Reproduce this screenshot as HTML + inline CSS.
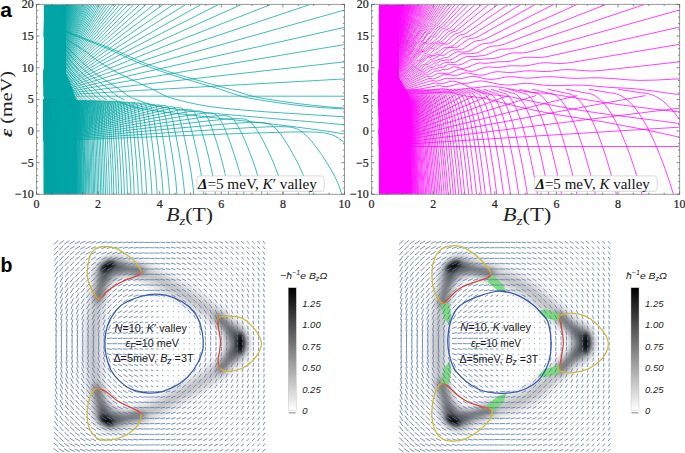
<!DOCTYPE html><html><head><meta charset="utf-8"><style>
html,body{margin:0;padding:0;background:#fff;}
svg{display:block;}
.tk{font-family:"Liberation Serif",serif;font-size:12px;fill:#222;stroke:#222;stroke-width:0.22px;}
.ax{font-family:"Liberation Serif",serif;font-size:19px;fill:#222;}
.lg{font-family:"Liberation Serif",serif;font-size:14.3px;fill:#111;}
.pl{font-family:"Liberation Sans",sans-serif;font-weight:bold;font-size:21px;fill:#000;}
.bt{font-family:"Liberation Sans",sans-serif;font-size:10.8px;fill:#1a1a1a;}
.cb{font-family:"Liberation Sans",sans-serif;font-style:italic;font-size:9.5px;fill:#222;}
</style></head><body>
<svg width="685" height="453" viewBox="0 0 685 453">
<clipPath id="c36"><rect x="43.58" y="4.4" width="300.92" height="189.9"/></clipPath>
<g clip-path="url(#c36)">
<linearGradient id="g36" x1="0" y1="0" x2="1" y2="0"><stop offset="0" stop-color="#00a6a6" stop-opacity="0.75"/><stop offset="1" stop-color="#00a6a6" stop-opacity="0"/></linearGradient>
<path d="M43.6 4.4H66.1V74.0C70.7 82.0 74.4 95.9 77.5 101.9V194.3H43.6Z" fill="#00a6a6"/>
<rect x="77.5" y="101.9" width="9.2" height="92.4" fill="url(#g36)"/>
<path d="M42.7 96.2l311.1 0.0M42.7 95.9l23.4-1.1 78.9-4.7 208.8-11.7M42.7 95.6l23.4-2.1 41.4-5.0 37.5-4.3 208.8-23.4M42.7 95.3l23.4-3.2 41.4-7.5 37.5-6.5 208.8-35.1M42.7 95.1l23.4-4.3 41.4-10.0 37.5-8.7 208.8-46.8M42.7 94.8l23.4-5.4 41.4-12.5 37.5-10.9 208.8-58.5M42.7 94.5l23.4-6.4 40.4-14.7 36.6-12.7 52.0-17.6 134.0-45.0M42.7 94.2l23.4-7.5 38.5-16.3 32.7-13.3 47.1-18.7 102.8-40.3M42.7 93.9l23.4-8.6 36.6-17.8 30.8-14.4 41.4-18.8 81.1-36.3M42.7 93.6l23.4-9.7 35.6-19.5 26.9-14.2 37.5-19.2 65.4-33.0M42.7 93.4l23.4-10.7 33.7-20.5 25.0-14.7 33.7-19.2 53.6-30.1M42.7 93.1l23.4-11.8 32.7-21.9 23.1-15.0 29.8-18.8 44.4-27.5M42.7 92.8l23.4-12.9 30.8-22.5 21.2-15.1 26.9-18.6 37.9-25.7M42.7 92.5l23.4-13.9 29.8-23.6 19.2-14.9 24.1-18.1 32.5-23.9M42.7 92.2l23.4-15.0 28.9-24.6 17.3-14.5 22.1-18.0 27.8-22.1M42.7 91.9l23.4-16.1 27.9-25.5 16.4-14.7 19.2-16.8 24.3-20.8M42.7 91.7l23.4-17.2 26.9-26.2 14.4-13.8 18.3-17.1 20.9-19.2M42.7 91.4l23.4-18.2 39.4-40.7 16.4-16.3 18.5-18.1M42.7 91.1l23.4-19.3 37.5-41.0 14.4-15.3 16.7-17.4M42.7 90.8l23.4-20.4 35.6-41.1 28.1-31.3M42.7 90.5l23.4-21.5 33.7-40.9 25.5-30.1M42.7 90.3l23.4-22.5 32.7-41.8 22.5-27.9M42.7 90.0l23.4-23.6 30.8-41.2 20.8-27.1M42.7 89.7l23.4-24.7 29.8-41.7 18.4-25.2M42.7 89.4l23.4-25.8 28.9-42.2 16.4-23.4M42.7 89.1l23.4-26.8 27.9-42.5 14.5-21.8M42.7 88.8l23.4-27.9 26.9-42.7 13.0-20.2M42.7 88.6l23.4-29.0 37.6-61.5M42.7 88.3l23.4-30.0 35.4-60.2M42.7 88.0l23.4-31.1 33.4-58.8M42.7 87.7l23.4-32.2 31.5-57.5M42.7 87.4l23.4-33.3 29.7-56.1M42.7 87.1l23.4-34.3 28.1-54.7M42.7 86.9l23.4-35.4 26.6-53.4M42.7 86.6l23.4-36.5 25.1-52.0M42.7 86.3l23.4-37.6 23.8-50.7M42.7 86.0l23.4-38.6 22.5-49.3M42.7 85.7l23.4-39.7 21.3-48.0M42.7 85.5l23.4-40.8 20.1-46.6M42.7 85.2l23.4-41.8 19.1-45.3M42.7 84.9l23.4-42.9 18.0-43.9M42.7 84.6l23.4-44.0 17.0-42.5M42.7 84.3l23.4-45.1 16.1-41.2M42.7 84.0l23.4-46.1 15.2-39.8M42.7 83.8l23.4-47.2 14.4-38.5M42.7 83.5l23.4-48.3 13.6-37.1M42.7 83.2l23.4-49.4 12.8-35.8M42.7 82.9l23.4-50.4 12.1-34.4M42.7 82.6l23.4-51.5 11.3-33.1M42.7 82.3l23.4-52.6 10.7-31.7M42.7 82.1l23.4-53.7 10.0-30.3M42.7 81.8l23.4-54.7 9.4-29.0M42.7 81.5l23.4-55.8 8.8-27.6M42.7 81.2l23.4-56.9 8.2-26.3M42.7 80.9l23.4-57.9 7.6-24.9M42.7 80.7l23.4-59.0 7.1-23.6M42.7 80.4l23.4-60.1 6.6-22.2M42.7 80.1l23.4-61.2 6.1-20.9M42.7 79.8l23.4-62.2 5.6-19.5M42.7 79.5l23.4-63.3 5.1-18.1M42.7 79.2l23.4-64.4 4.6-16.8M42.7 79.0l23.4-65.5 4.2-15.4M42.7 78.7l23.4-66.5 3.8-14.1M42.7 78.4l23.4-67.6 3.4-12.7M42.7 78.1l23.4-68.7 3.0-11.4M42.7 77.8l23.4-69.7 2.6-10.0M42.7 77.5l23.4-70.8 2.2-8.7M42.7 77.3l23.4-71.9 1.8-7.3M42.7 77.0l23.4-73.0 1.5-5.9M42.7 76.7l23.4-74.0 1.1-4.6M42.7 76.4l23.4-75.1 0.8-3.2M42.7 76.1l23.4-76.2 0.4-1.9M42.7 75.9l23.5-77.8M42.7 75.6l23.2-77.5M42.7 75.3l22.8-77.2M42.7 75.0l22.4-76.9M42.7 74.7l22.0-76.7M42.7 74.4l21.6-76.4M42.7 74.2l21.3-76.1M42.7 73.9l20.9-75.8M43.4 22.3l26.6 10.6 40.4 15.4 8.9 3.7 20.7 9.3 7.9 3.1 8.9 3.2 11.8 4.0 10.8 3.4 19.7 5.7 29.6 8.2 21.7 6.8 6.9 1.7 6.9 1.2 17.8 2.8 16.8 2.3 13.8 1.6 12.8 1.3 12.8 1.1 14.8 1.0M43.1 22.3l25.3 10.6 38.4 15.4 8.4 3.7 19.7 9.3 7.5 3.1 8.4 3.2 11.2 4.0 10.3 3.4 18.7 5.7 28.1 8.2 15.9 5.4 6.6 2.0 6.6 1.6 15.0 2.6 15.9 2.4 15.9 2.1 13.1 1.4 12.2 1.1 32.8 2.1M43.0 23.9l14.2 9.4 23.1 14.6 5.9 4.1 13.0 9.7 5.3 3.4 5.3 3.2 7.7 4.3 7.1 3.6 10.1 4.8 17.2 7.9 13.0 6.8 3.0 1.3 2.4 0.8 13.0 3.5 13.0 2.9 12.4 2.2 12.4 1.6 21.3 2.0 24.3 1.9 87.0 5.5M42.8 25.5l8.5 7.8 17.8 15.8 13.1 13.4 5.5 4.8 5.9 4.7 4.6 3.4 6.3 4.3 14.4 9.3 7.6 5.7 3.0 2.0 2.1 1.1 2.1 0.9 11.0 3.9 9.7 2.8 9.7 2.1 12.3 1.8 15.6 1.9 24.1 2.4 58.3 5.1 51.1 4.3 27.9 2.6M42.7 27.1l18.7 21.6 3.0 3.7 5.6 7.6 2.6 3.2 4.9 5.4 5.3 5.2 7.6 6.6 10.2 8.5 6.2 6.0 2.6 2.1 2.0 1.2 5.9 2.8 4.6 2.0 4.6 1.7 5.9 1.9 5.9 1.4 10.2 1.8 11.5 1.7 14.5 1.8 43.1 4.8 47.3 5.1 28.3 3.4 33.2 4.5 13.5 2.1 13.5 2.4M42.8 26.3l6.7 7.0 15.5 15.8 11.5 13.4 3.7 3.7 4.1 3.8 3.7 3.2 4.4 3.6 16.6 12.4 8.1 6.8 2.6 1.6 4.8 2.1M42.7 27.9l16.6 21.3 9.2 13.4 6.2 7.5 6.5 6.8 13.3 12.4 6.5 6.8 2.1 1.6 3.8 2.1M42.7 28.6l14.5 20.5 8.3 13.4 5.9 7.9 5.9 6.7 11.6 11.8 6.2 7.1 1.9 1.6 3.5 2.1M42.7 29.4l12.8 19.7 7.6 13.4 5.4 7.9 5.4 6.7 10.6 11.8 5.7 7.1 1.7 1.6 3.2 2.1M42.9 30.6l11.2 18.5 7.1 13.4 5.0 7.9 5.0 6.7 9.8 11.8 5.2 7.1 1.6 1.6 3.0 2.1M42.8 31.4l9.9 17.8 6.6 13.4 4.6 7.9 4.6 6.7 9.1 11.8 4.9 7.1 1.5 1.6 2.7 2.1M42.8 32.1l8.9 17.0 6.1 13.4 4.5 8.2 4.3 6.7 8.3 11.6 4.5 7.1 1.4 1.6 2.6 2.1M42.8 32.9l8.0 16.2 5.7 13.4 4.3 8.2 4.1 6.7 7.8 11.6 4.3 7.1 1.3 1.6 2.4 2.1M42.8 33.7l7.3 15.8 5.2 13.0 4.0 8.2 3.8 6.7 7.3 11.6 4.0 7.1 1.2 1.6 2.3 2.1M42.7 34.4l6.6 15.1 4.9 13.0 3.9 8.5 3.6 6.6 6.7 11.3 3.8 7.1 1.2 1.6 2.1 2.1M42.7 141.1l138.8-5.4 70.0-2.6 39.0-1.1 13.2-0.1 9.1 0.1 7.2 0.4 5.5 0.7 5.4 1.3 3.9 1.6 3.9 2.2 5.1 3.8 4.9 4.5 4.8 4.9M42.7 140.9l140.7-9.2 65.6-4.0 17.5-0.8 12.4-0.3 7.7 0.2 3.7 0.4 2.4 0.4 3.6 1.0 3.5 1.7 2.3 1.5 3.4 2.9 3.3 3.4 4.3 5.1 4.3 5.5 4.2 5.9 5.1 7.8 4.0 6.7 4.0 7.2 2.9 6.1 1.9 4.6 1.9 6.0 1.0 6.9M42.7 140.7l125.6-11.7 58.6-5.1 15.7-1.1 11.1-0.5 6.8 0.1 3.3 0.3 2.2 0.4 3.2 0.9 2.1 1.0 2.1 1.4 3.0 2.8 3.0 3.5 3.9 5.4 3.8 5.9 3.7 6.3 4.6 8.3 3.6 7.1 3.5 7.6 2.6 6.3 1.7 4.7 1.7 5.5 0.9 3.6 0.9 6.7M42.7 140.5l121.1-14.5 48.1-5.5 13.6-1.3 8.7-0.6 6.1-0.0 2.9 0.3 1.9 0.4 2.8 1.0 1.9 1.1 1.8 1.6 2.7 3.1 2.7 3.9 3.5 5.9 3.4 6.4 3.4 6.8 3.3 7.1 3.2 7.5 3.2 8.1 2.4 6.7 1.6 5.0 1.6 5.9 0.8 4.0 0.8 6.4M42.7 140.4l110.6-16.2 45.0-6.3 12.2-1.5 7.8-0.7 5.5-0.1 2.6 0.2 1.7 0.4 2.6 1.1 1.7 1.2 1.7 1.7 2.4 3.5 2.4 4.2 2.4 4.7 3.1 6.8 3.0 7.2 3.0 7.5 2.9 8.0 2.9 8.6 2.1 7.1 1.4 5.3 1.4 6.3 0.7 4.4 0.7 6.0M42.7 140.2l101.9-17.6 42.4-7.0 11.8-1.7 7.0-0.7 4.9-0.1 3.2 0.5 2.3 1.1 1.5 1.3 1.5 1.9 1.5 2.4 2.2 4.3 2.2 4.9 2.8 7.1 2.8 7.5 5.4 16.3 2.7 9.1 2.0 7.5 1.3 5.6 1.3 6.7 1.3 10.4M42.7 140.0l94.4-18.7 40.1-7.7 10.7-1.8 6.4-0.8 4.5-0.1 2.9 0.5 2.1 1.1 1.4 1.4 1.4 2.0 1.4 2.6 2.0 4.6 2.0 5.2 4.5 13.5 5.0 17.1 3.6 14.7 2.4 12.0 0.6 3.8 1.2 10.3M42.7 139.9l88.0-19.6 38.1-8.2 9.8-1.9 5.8-0.8 4.1-0.2 1.3 0.2 1.3 0.4 1.9 1.2 1.3 1.5 1.3 2.1 1.3 2.7 1.9 4.9 1.8 5.5 4.2 14.2 4.0 15.7 3.4 15.3 2.2 12.6 1.6 14.2M42.7 139.7l82.4-20.3 36.3-8.7 9.0-1.9 5.4-0.9 3.8-0.2 1.2 0.2 1.2 0.4 1.2 0.7 1.2 1.2 1.2 1.9 1.2 2.6 1.7 4.9 1.7 5.7 3.9 14.7 3.7 16.4 3.1 16.0 2.0 13.1 1.5 14.2M42.7 139.6l77.5-20.8 34.8-9.1 8.3-1.9 5.0-0.9 3.5-0.2 1.1 0.2 1.1 0.4 1.1 0.7 1.1 1.3 1.1 2.0 1.1 2.8 2.6 9.2 3.6 15.2 3.5 17.0 2.9 16.6 1.9 13.7 1.4 14.2M42.7 139.4l73.1-21.3 31.9-9.1 7.8-2.0 5.3-1.1 3.3-0.3 2.1 0.3 1.0 0.5 1.0 1.0 1.0 1.7 1.0 2.6 1.0 3.3 1.5 5.8 2.9 13.3 3.3 17.3 2.7 16.8 1.8 13.3 1.8 18.1M42.7 139.3l69.2-21.6 30.8-9.4 7.3-2.0 4.9-1.1 3.1-0.3 2.0 0.3 1.0 0.6 1.0 1.1 1.0 1.9 0.9 2.8 1.9 7.5 2.7 13.6 3.1 17.8 2.6 17.3 1.7 13.8 1.2 14.8 0.4 3.4M42.7 139.2l65.6-21.9 29.7-9.7 6.8-2.0 4.6-1.1 2.9-0.3 1.9 0.4 0.9 0.6 0.9 1.2 0.9 2.0 0.9 2.9 1.7 7.9 2.6 14.3 2.5 15.9 2.4 17.9 1.6 14.3 1.2 15.0 0.4 3.2M42.7 139.0l66.3-23.4 24.8-8.6 6.3-2.0 4.3-1.1 2.7-0.3 0.9 0.1 0.9 0.3 0.9 0.7 0.9 1.3 1.3 3.6 1.6 7.8 2.4 14.6 2.4 16.3 2.3 18.4 1.5 14.8 1.1 15.2 0.4 3.0M42.7 138.9l63.3-23.6 24.1-8.8 5.9-2.0 4.0-1.1 2.6-0.3 0.8 0.1 0.8 0.3 0.8 0.7 0.8 1.4 1.2 4.0 1.6 8.3 2.3 15.2 2.2 17.1 1.8 16.0 1.1 11.1 1.4 19.6 0.3 2.9M42.7 138.8l56.9-22.3 26.0-10.0 6.2-2.2 3.8-1.1 2.4-0.4 1.6 0.3 0.8 0.6 0.8 1.1 1.1 3.5 1.5 8.1 1.8 12.8 2.1 17.2 2.1 19.5 1.4 15.8 0.7 11.3 0.7 6.8M42.7 138.7l57.8-23.8 22.4-9.0 5.3-2.0 3.6-1.1 2.3-0.3 1.5 0.3 0.7 0.6 0.7 1.3 1.1 3.9 1.1 6.2 1.7 13.0 2.0 17.6 1.6 16.5 1.6 19.9 0.6 12.1 0.6 5.9M42.7 138.6l55.4-23.8 21.9-9.2 5.0-1.9 3.4-1.1 2.2-0.3 0.7 0.1 0.7 0.3 0.7 0.7 0.7 1.4 1.0 4.3 1.0 6.7 1.6 13.6 1.9 18.4 1.6 17.4 1.2 16.8 0.6 12.9 0.6 5.0M42.7 138.4l53.2-23.8 20.5-9.0 5.2-2.1 3.3-1.1 2.1-0.4 1.3 0.3 0.7 0.6 0.7 1.2 1.0 3.9 1.0 6.5 1.3 10.8 1.8 18.4 1.5 17.3 1.5 21.1 0.6 13.0 0.6 4.7M42.7 138.3l51.1-23.8 20.5-9.3 4.6-1.9 3.1-1.1 2.0-0.3 1.3 0.3 0.6 0.7 0.3 0.6 0.9 3.4 0.9 6.3 1.5 13.9 2.9 33.6 1.1 16.7 0.8 18.0 0.6 4.5M42.7 138.2l49.2-23.8 20.1-9.5 4.3-1.9 3.0-1.1 1.9-0.3 0.6 0.1 0.6 0.3 0.6 0.8 0.3 0.7 0.9 4.0 0.9 6.9 1.2 11.5 2.8 34.4 1.1 17.2 0.8 18.1 0.5 4.4M42.7 138.1l47.4-23.8 18.9-9.3 4.5-2.1 2.9-1.1 1.8-0.4 1.2 0.3 0.9 1.2 0.9 3.5 0.8 6.7 1.1 11.6 2.7 35.1 1.0 17.6 0.8 18.1 0.5 4.2M42.7 138.0l45.7-23.8 18.9-9.6 4.3-2.0 2.7-1.0 1.4-0.2 0.6 0.1 0.6 0.3 0.6 0.8 0.3 0.7 0.8 4.1 1.6 16.3 2.3 31.8 1.3 22.1 0.7 18.2 0.5 4.0M42.7 137.9l44.1-23.7 17.9-9.4 4.2-2.0 2.6-1.1 1.7-0.4 1.1 0.3 0.8 1.2 0.8 3.7 1.6 16.2 2.3 32.5 1.2 22.7 0.7 18.2 0.5 3.9M42.7 137.8l42.6-23.6 18.0-9.8 4.0-2.0 2.5-1.0 1.3-0.2 0.5 0.1 0.5 0.3 0.8 1.5 0.5 2.5 0.8 6.9 0.7 9.1 2.2 33.1 0.9 18.0 0.9 23.4 0.5 3.8M42.7 137.7l41.3-23.6 17.1-9.6 3.9-2.0 2.5-1.1 1.6-0.4 1.0 0.3 0.7 1.3 0.5 2.2 0.7 6.6 0.7 9.2 2.1 33.7 0.9 18.4 0.7 19.0 0.2 4.4 0.4 3.6M42.7 137.6l39.9-23.5 16.5-9.5 3.7-2.0 2.4-1.1 1.5-0.4 1.0 0.2 0.7 1.1 0.7 3.6 1.2 13.8 2.3 38.7 0.9 19.9 0.4 14.3 0.2 3.6 0.4 3.5M42.7 137.5l41.0-24.8 14.3-8.5 3.6-2.0 2.3-1.0 1.2-0.3 0.5 0.1 0.5 0.3 0.7 1.4 0.5 2.5 1.1 13.6 2.2 39.4 0.9 20.4 0.4 15.2 0.6 6.0M42.7 137.3l37.5-23.4 15.8-9.7 5.7-3.1 1.4-0.4 0.9 0.3 0.7 1.2 0.4 2.2 1.1 13.3 2.1 40.1 0.8 20.9 0.4 16.0 0.6 5.0M42.7 137.2l38.5-24.6 13.7-8.6 3.3-1.9 2.1-1.0 1.1-0.2 0.4 0.1 0.4 0.3 0.7 1.6 0.4 2.9 1.1 14.8 2.0 42.1 1.0 32.3 0.6 4.8M42.7 137.1l37.4-24.6 13.3-8.6 3.2-1.9 2.1-1.0 1.1-0.3 0.4 0.1 0.4 0.3 0.6 1.4 0.4 2.6 1.0 14.7 2.0 42.9 1.0 32.5 0.6 4.7M42.7 137.0l49.1-32.9 5.2-3.0 1.3-0.4 0.8 0.2 0.6 1.2 0.4 2.3 1.0 14.4 1.7 38.6 1.1 37.8 0.6 4.5M42.7 136.9l35.3-24.4 12.9-8.7 3.0-1.9 1.9-1.0 1.0-0.2 0.4 0.1 0.4 0.3 0.6 1.7 0.4 3.1 0.8 12.3 1.7 39.2 1.1 38.0 0.5 4.4M42.7 136.8l46.9-33.0 2.9-1.9 1.9-1.0 1.0-0.3 0.4 0.1 0.4 0.3 0.6 1.5 0.4 2.8 0.8 12.2 1.7 39.8 1.1 38.2 0.5 4.3M42.7 136.7l45.4-32.7 4.7-3.0 1.2-0.4 0.8 0.3 0.6 1.3 0.4 2.6 0.7 12.0 1.6 40.4 1.0 38.4 0.5 4.2M42.7 136.6l44.2-32.6 4.6-3.0 1.2-0.4 0.7 0.2 0.6 1.2 0.4 2.4 0.7 11.8 1.6 41.1 1.0 38.6 0.5 4.1M42.7 136.5l43.5-32.8 2.7-1.9 1.7-1.0 0.9-0.3 0.4 0.1 0.4 0.3 0.4 0.8 0.4 2.1 0.7 11.5 1.5 41.7 0.8 34.2 0.2 4.5 0.5 4.0M42.7 136.4l42.5-32.7 4.3-2.9 0.9-0.3 0.7 0.3 0.3 0.7 0.3 2.0 0.7 11.3 1.5 42.3 0.8 35.3 0.2 3.5 0.5 3.9M42.7 136.3l41.2-32.4 4.5-3.1 0.9-0.3 0.7 0.2 0.3 0.7 0.3 1.8 0.7 11.0 1.5 42.9 0.8 36.7 0.6 6.0M42.7 136.2l40.2-32.3 4.2-3.0 1.0-0.4 0.7 0.2 0.5 1.2 0.3 2.6 0.5 9.1 1.4 43.5 0.8 37.8 0.6 5.0M42.7 136.1l39.9-32.7 3.8-2.7 1.0-0.3 0.5 0.4 0.3 0.9 0.3 2.4 0.5 8.9 1.4 44.1 0.8 37.9 0.6 4.9M42.7 136.0l38.7-32.4 3.9-2.9 0.8-0.3 0.3 0.0 0.3 0.3 0.3 0.8 0.3 2.2 0.5 8.7 1.4 44.7 0.7 37.9 0.6 4.8M42.7 135.9l37.8-32.3 3.9-2.9 0.8-0.3 0.6 0.3 0.3 0.7 0.3 2.0 0.5 8.4 1.3 45.3 0.7 37.9 0.6 4.7M42.7 135.8l37.0-32.2 3.8-2.9 0.8-0.3 0.6 0.2 0.3 0.7 0.3 1.9 0.4 8.2 1.2 39.9 0.9 44.0 0.6 4.6M42.7 135.7l36.0-31.9 3.9-3.0 0.8-0.3 0.6 0.2 0.3 0.6 0.3 1.7 0.4 8.0 1.1 40.4 0.8 44.1 0.5 4.5M42.7 135.6l35.7-32.3 3.4-2.7 0.9-0.3 0.4 0.4 0.3 0.9 0.3 2.7 0.4 10.2 1.0 36.8 0.8 44.1 0.5 4.4M42.7 135.5l35.0-32.2 3.4-2.7 0.9-0.3 0.4 0.3 0.3 0.9 0.3 2.5 0.4 10.0 1.0 37.3 0.8 44.2 0.5 4.3M42.7 135.4l34.2-32.1 3.3-2.7 0.9-0.3 0.4 0.3 0.3 0.8 0.3 2.4 0.4 9.9 0.9 37.7 0.7 39.3 0.1 4.9 0.5 4.2M42.7 135.3l33.4-31.8 3.4-2.8 0.9-0.3 0.4 0.3 0.3 0.7 0.3 2.2 0.4 9.7 1.1 44.7 0.5 34.0 0.1 3.7 0.5 4.1M42.7 135.2l32.7-31.7 3.3-2.8 0.8-0.3 0.4 0.2 0.3 0.7 0.3 2.1 0.4 9.6 1.0 45.3 0.5 35.4 0.6 6.3M42.7 135.1l32.0-31.6 3.3-2.9 0.7-0.3 0.5 0.2 0.3 0.6 0.3 2.0 0.4 9.4 1.0 45.9 0.5 36.5 0.6 5.0M42.7 135.0l31.8-31.9 3.0-2.6 0.7-0.2 0.4 0.4 0.3 1.0 0.3 3.2 0.5 17.1 0.7 36.6 0.5 36.3 0.6 4.9M42.7 134.9l31.2-31.8 3.0-2.6 0.7-0.2 0.4 0.4 0.3 1.0 0.3 3.1 0.5 17.1 0.7 37.1 0.5 36.2 0.6 4.8M42.7 134.8l30.5-31.6 3.1-2.7 0.6-0.2 0.4 0.3 0.3 0.9 0.2 2.9 0.5 17.1 0.7 37.7 0.5 36.0 0.6 4.7M42.7 134.6l29.9-31.5 2.9-2.7 0.8-0.3 0.4 0.3 0.2 0.9 0.2 2.8 0.4 11.7 0.8 43.5 0.5 35.8 0.6 4.7M42.7 134.5l29.3-31.3 2.8-2.7 0.8-0.3 0.4 0.3 0.2 0.8 0.2 2.7 0.2 6.8 0.8 41.6 0.6 42.8 0.6 4.6M42.7 134.4l28.8-31.2 2.8-2.7 0.7-0.3 0.4 0.2 0.2 0.8 0.2 2.5 0.2 6.8 0.8 42.1 0.6 42.7 0.6 4.5M42.7 134.3l28.2-31.1 2.8-2.7 0.7-0.3 0.4 0.2 0.2 0.7 0.2 2.4 0.2 6.7 0.7 35.5 0.7 49.7 0.5 4.4M42.7 134.2l27.7-31.0 2.7-2.7 0.7-0.4 0.4 0.2 0.2 0.7 0.2 2.3 0.2 6.6 0.7 35.9 0.7 49.6 0.5 4.4M42.7 134.1l27.2-30.9 2.7-2.7 0.7-0.4 0.3 0.2 0.2 0.7 0.2 2.2 0.2 6.5 0.8 43.6 0.4 38.0 0.1 4.2 0.5 4.3M42.7 134.0l27.1-31.3 2.5-2.4 0.6-0.2 0.3 0.4 0.2 1.1 0.2 3.9 0.3 14.4 1.0 72.9 0.1 2.7 0.5 4.2M42.7 133.9l26.7-31.2 2.4-2.4 0.6-0.2 0.3 0.4 0.2 1.1 0.2 3.8 0.3 14.5 0.6 42.0 0.3 33.0 0.6 5.0M42.7 133.8l26.1-30.9 2.5-2.6 0.6-0.2 0.3 0.3 0.2 1.1 0.2 3.7 0.3 14.5 0.9 75.2 0.6 4.9M42.7 133.7l25.6-30.8 2.5-2.6 0.5-0.2 0.3 0.3 0.2 1.0 0.2 3.6 0.3 14.6 0.9 75.4 0.6 4.9M42.7 133.6l25.2-30.7 2.4-2.6 0.5-0.2 0.3 0.3 0.2 1.0 0.2 3.5 0.3 14.6 0.9 75.5 0.6 4.8M42.7 133.5l24.8-30.6 2.4-2.6 0.5-0.2 0.3 0.3 0.2 0.9 0.2 3.4 0.3 14.7 0.9 75.7 0.6 4.7M42.7 133.4l24.4-30.5 2.4-2.6 0.5-0.3 0.3 0.3 0.2 0.9 0.2 3.3 0.3 14.7 0.9 75.9 0.6 4.7M42.7 133.3l24.0-30.4 2.4-2.6 0.5-0.3 0.3 0.3 0.2 0.9 0.2 3.2 0.2 8.8 1.0 82.0 0.6 4.6M42.7 133.2l23.6-30.3 2.3-2.6 0.5-0.3 0.3 0.2 0.2 0.8 0.2 3.2 0.2 8.8 1.0 82.2 0.6 4.5M42.7 133.1l23.2-30.2 2.3-2.6 0.5-0.3 0.3 0.2 0.2 0.8 0.2 3.1 0.2 8.8 0.9 82.4 0.5 4.5M42.7 133.0l22.8-30.1 2.3-2.6 0.5-0.3 0.3 0.2 0.2 0.8 0.2 3.0 0.2 8.8 0.9 82.5 0.5 4.4M42.7 132.9l22.5-30.0 2.2-2.6 0.5-0.3 0.3 0.2 0.2 0.8 0.2 3.0 0.2 8.8 0.8 79.1 0.1 3.6 0.5 4.4M42.7 132.8l22.1-29.9 2.2-2.6 0.5-0.3 0.3 0.2 0.2 0.7 0.2 2.9 0.2 8.8 0.8 81.4 0.6 5.8M42.7 132.7l21.8-29.8 2.2-2.6 0.5-0.3 0.3 0.2 0.2 0.7 0.2 2.9 0.2 8.9 0.8 82.2 0.6 5.0M42.7 132.6l21.4-29.7 2.1-2.6 0.5-0.3 0.3 0.2 0.2 0.7 0.2 2.8 0.2 8.9 0.8 82.3 0.6 4.9M42.7 132.5l21.4-30.0 2.0-2.4 0.4-0.1 0.3 0.4 0.3 3.2 0.3 15.4 0.7 76.0 0.6 4.9M42.7 132.4l21.1-29.9 2.0-2.4 0.4-0.2 0.3 0.4 0.3 3.2 0.3 15.5 0.7 76.0 0.6 4.8M42.7 132.3l20.8-29.8 1.9-2.4 0.4-0.2 0.3 0.4 0.3 3.1 0.3 15.6 0.7 76.0 0.6 4.8M42.7 132.2l20.5-29.7 1.9-2.4 0.4-0.2 0.3 0.4 0.3 3.1 0.3 15.7 0.7 76.0 0.6 4.7M42.7 132.1l20.2-29.6 1.9-2.4 0.4-0.2 0.3 0.3 0.3 3.1 0.3 15.8 0.7 76.0 0.6 4.6M42.7 132.0l19.9-29.5 1.9-2.4 0.4-0.2 0.3 0.3 0.3 3.0 0.2 9.1 0.7 82.8 0.6 4.6M42.7 131.9l19.6-29.4 1.9-2.4 0.3-0.2 0.3 0.3 0.3 3.0 0.2 9.2 0.7 82.9 0.6 4.5M42.7 131.8l19.3-29.3 1.8-2.4 0.3-0.2 0.3 0.3 0.3 3.0 0.2 9.2 0.7 82.9 0.5 4.5M42.7 131.7l19.0-29.2 1.8-2.4 0.3-0.2 0.3 0.3 0.2 2.9 0.2 16.4 0.6 72.8 0.1 3.1 0.5 4.4M42.7 131.6l18.8-29.1 1.8-2.4 0.3-0.2 0.2 0.3 0.2 2.9 0.2 16.5 0.6 75.2 0.6 5.0M42.7 131.5l18.5-29.0 1.8-2.4 0.3-0.2 0.2 0.3 0.2 2.9 0.2 16.7 0.5 75.1 0.6 5.0M42.7 131.4l18.2-28.9 1.8-2.4 0.3-0.2 0.2 0.3 0.2 2.9 0.2 16.8 0.5 75.0 0.6 4.9M42.7 131.3l18.0-28.8 1.7-2.4 0.3-0.2 0.2 0.3 0.2 2.9 0.2 9.6 0.6 82.3 0.6 4.9M42.7 131.2l17.7-28.7 1.7-2.4 0.3-0.2 0.2 0.3 0.2 2.9 0.2 9.7 0.6 82.3 0.6 4.8M42.7 131.0l17.6-28.7 1.6-2.3 0.3-0.2 0.2 0.3 0.2 2.9 0.2 9.8 0.6 82.2 0.6 4.8M42.7 130.9l17.4-28.6 1.6-2.3 0.3-0.2 0.2 0.3 0.2 2.9 0.2 9.9 0.6 82.2 0.6 4.7M42.7 130.8l17.1-28.5 1.6-2.3 0.3-0.2 0.2 0.3 0.2 2.9 0.2 10.0 0.6 82.1 0.6 4.7M42.7 130.7l16.9-28.4 1.6-2.3 0.3-0.2 0.2 0.3 0.2 2.9 0.1 10.2 0.6 82.1 0.6 4.6M42.7 130.6l16.7-28.3 1.6-2.3 0.3-0.2 0.2 0.3 0.2 2.9 0.1 10.3 0.6 82.0 0.6 4.6M42.7 130.5l16.4-28.2 1.5-2.3 0.3-0.2 0.2 0.3 0.2 2.9 0.1 10.4 0.6 81.9 0.6 4.5M42.7 130.4l16.2-28.1 1.5-2.3 0.3-0.2 0.2 0.3 0.2 2.9 0.1 10.6 0.5 78.8 0.1 2.9 0.6 4.5M42.7 130.3l16.0-28.0 1.5-2.3 0.3-0.2 0.2 0.2 0.2 2.9 0.1 10.7 0.5 81.1 0.6 5.0M42.7 130.2l15.8-27.9 1.5-2.3 0.3-0.2 0.2 0.2 0.2 3.0 0.1 10.9 0.5 81.0 0.6 5.0M42.7 130.1l15.6-27.8 1.5-2.3 0.3-0.2 0.2 0.2 0.2 3.0 0.1 11.0 0.5 80.8 0.6 4.9M42.7 130.0l15.4-27.7 1.5-2.3 0.3-0.2 0.2 0.2 0.2 3.0 0.1 11.2 0.5 80.7 0.6 4.9M42.7 129.9l15.2-27.6 1.5-2.3 0.3-0.2 0.2 0.2 0.2 3.0 0.1 11.4 0.5 80.5 0.6 4.8M42.7 129.8l15.0-27.5 1.4-2.3 0.3-0.2 0.2 0.2 0.2 3.1 0.1 11.6 0.5 80.4 0.6 4.8M42.7 129.7l14.8-27.4 1.4-2.3 0.3-0.2 0.2 0.2 0.2 3.1 0.1 11.8 0.5 80.2 0.6 4.8M42.7 129.6l14.7-27.4 1.3-2.2 0.3-0.2 0.2 0.2 0.2 3.1 0.1 12.0 0.5 80.0 0.6 4.7M42.7 129.5l14.5-27.3 1.3-2.2 0.3-0.2 0.2 0.2 0.2 3.2 0.1 12.2 0.5 79.8 0.6 4.7M42.7 129.4l14.4-27.2 1.3-2.2 0.3-0.2 0.2 0.2 0.2 3.2 0.1 12.4 0.5 79.6 0.6 4.6M42.7 129.3l14.2-27.1 1.3-2.2 0.3-0.2 0.2 0.2 0.2 3.3 0.1 12.6 0.5 79.4 0.6 4.6M42.7 129.2l14.0-27.0 1.3-2.2 0.3-0.2 0.2 0.2 0.2 3.3 0.1 12.8 0.4 75.7 0.1 3.4 0.6 4.6M42.7 129.1l13.8-26.9 1.3-2.2 0.3-0.2 0.2 0.2 0.2 3.4 0.1 13.1 0.4 78.4 0.6 5.0M42.7 129.0l13.7-26.8 1.3-2.2 0.3-0.2 0.2 0.2 0.2 3.5 0.1 13.3 0.4 78.1 0.6 5.0M42.7 128.9l13.5-26.7 1.3-2.2 0.3-0.2 0.2 0.2 0.2 3.5 0.1 13.6 0.4 77.8 0.6 4.9M42.7 128.8l13.3-26.6 1.3-2.2 0.3-0.2 0.2 0.2 0.2 3.6 0.1 13.8 0.4 77.6 0.6 4.9M42.7 128.7l13.2-26.5 1.2-2.2 0.3-0.2 0.2 0.2 0.2 3.7 0.1 14.1 0.4 77.3 0.6 4.9M42.7 128.6l13.1-26.6 1.2-2.1 0.3-0.2 0.2 0.3 0.2 3.8 0.1 14.3 0.4 76.9 0.6 4.8M42.7 128.5l12.9-26.5 1.1-2.1 0.3-0.2 0.2 0.3 0.2 9.7 0.4 85.4 0.6 4.8M42.7 128.4l12.8-26.4 1.1-2.1 0.3-0.2 0.2 0.3 0.2 9.9 0.4 85.2 0.6 4.8M42.7 128.3l12.6-26.3 1.2-2.2 0.3-0.1 0.1 0.3 0.2 10.2 0.4 85.0 0.6 4.7M42.7 128.2l12.5-26.2 1.2-2.2 0.2-0.1 0.1 0.3 0.2 10.5 0.4 84.8 0.6 4.7M42.7 128.1l12.4-26.1 1.2-2.2 0.2-0.1 0.1 0.3 0.2 10.7 0.4 84.5 0.6 4.6M42.7 128.0l12.2-26.0 1.2-2.2 0.2-0.1 0.1 0.3 0.2 11.0 0.4 79.8 0.1 4.5 0.6 4.6M42.7 127.9l12.1-25.9 1.2-2.2 0.2-0.1 0.1 0.3 0.2 11.3 0.3 82.2 0.1 1.8 0.6 4.6M42.7 127.8l12.0-25.9 1.1-2.0 0.2-0.1 0.1 0.3 0.2 11.6 0.3 83.3 0.6 5.0M42.7 127.7l11.9-25.8 1.1-2.0 0.2-0.1 0.1 0.3 0.2 11.9 0.3 83.0 0.6 5.0M42.7 127.6l11.7-25.7 1.1-2.0 0.2-0.1 0.1 0.3 0.2 12.3 0.3 82.7 0.6 4.9M42.7 127.5l11.6-25.6 1.1-2.0 0.2-0.1 0.1 0.3 0.2 12.6 0.3 82.4 0.6 4.9M42.7 127.4l11.5-25.5 1.1-2.0 0.2-0.1 0.1 0.3 0.2 13.0 0.3 82.1 0.6 4.9M42.7 127.3l11.3-25.4 1.0-2.0 0.2-0.1 0.1 0.3 0.2 13.3 0.3 81.7 0.6 4.8M42.7 127.1l11.2-25.3 1.0-2.0 0.2-0.1 0.1 0.3 0.2 13.7 0.3 81.4 0.6 4.8M42.7 127.0l11.2-25.4 1.0-1.9 0.2-0.1 0.1 0.3 0.2 14.1 0.3 81.0 0.6 4.8M42.7 126.9l11.0-25.3 1.0-1.9 0.2-0.1 0.1 0.3 0.2 14.5 0.3 80.7 0.6 4.7M42.7 126.8l10.9-25.2 1.0-1.9 0.2-0.1 0.1 0.3 0.2 14.9 0.3 80.3 0.6 4.7M42.7 126.7l10.8-25.1 0.9-1.9 0.2-0.1 0.1 0.3 0.2 15.3 0.3 79.9 0.6 4.7M42.7 126.6l10.7-25.0 0.9-1.9 0.2-0.1 0.1 0.3 0.2 15.8 0.3 75.7 0.1 3.8 0.6 4.6M42.7 126.5l10.6-24.9 0.9-1.9 0.2-0.1 0.1 0.3 0.2 16.3 0.3 78.6 0.6 5.0M42.7 126.4l10.4-24.8 0.9-1.9 0.2-0.1 0.1 0.3 0.2 16.7 0.3 78.2 0.6 5.0M42.7 126.3l10.4-24.8 0.9-1.8 0.2-0.1 0.1 0.4 0.2 17.2 0.3 77.7 0.6 5.0M42.7 126.2l10.3-24.7 0.9-1.8 0.2-0.1 0.1 0.4 0.2 17.7 0.3 77.2 0.6 4.9M42.7 126.1l10.2-24.6 0.9-1.8 0.2-0.1 0.1 0.4 0.2 18.2 0.3 76.7 0.6 4.9M42.7 126.0l10.1-24.5 0.9-1.8 0.2-0.0 0.1 0.4 0.2 18.7 0.3 76.2 0.6 4.9M42.7 125.9l9.9-24.4 0.9-1.8 0.2-0.0 0.1 0.4 0.2 19.3 0.3 75.7 0.6 4.8M42.7 125.8l9.8-24.3 0.9-1.8 0.2-0.0 0.1 0.4 0.2 9.2 0.3 85.8 0.6 4.8M42.7 125.7l9.8-24.4 0.8-1.7 0.2-0.0 0.1 0.4 0.2 9.6 0.3 85.5 0.6 4.8M42.7 125.6l9.7-24.3 0.8-1.7 0.2-0.0 0.1 0.4 0.2 10.0 0.3 85.1 0.6 4.7M42.7 125.5l9.6-24.2 0.8-1.7 0.2-0.0 0.1 0.4 0.2 10.4 0.3 84.7 0.6 4.7M42.7 125.4l9.5-24.1 0.8-1.7 0.2-0.0 0.1 0.4 0.2 10.8 0.3 84.3 0.6 4.7M42.7 125.3l9.2-23.4 0.9-2.1 0.2-0.2 0.1 0.2 0.2 11.5 0.2 80.2 0.0 3.8 0.6 4.7M42.7 125.2l9.1-23.5 0.9-2.0 0.2-0.2 0.1 0.2 0.2 12.0 0.2 83.1 0.6 5.0M42.7 125.1l9.0-23.4 0.9-2.0 0.2-0.2 0.1 0.2 0.2 12.5 0.2 82.7 0.6 5.0M42.7 125.0l8.9-23.3 0.9-2.0 0.2-0.2 0.1 0.2 0.2 12.9 0.2 82.2 0.6 5.0M42.7 124.9l8.8-23.2 0.9-2.0 0.2-0.2 0.1 0.2 0.2 13.4 0.2 81.7 0.6 4.9M42.7 124.8l8.7-23.1 0.8-2.0 0.2-0.2 0.1 0.2 0.2 14.0 0.2 81.2 0.6 4.9M42.7 124.7l8.6-23.0 0.8-2.0 0.2-0.2 0.1 0.2 0.2 14.5 0.2 80.7 0.6 4.9M42.7 124.6l8.6-23.0 0.8-1.8 0.2-0.2 0.1 0.2 0.2 15.0 0.2 80.2 0.6 4.9M42.7 124.5l8.5-22.9 0.8-1.8 0.2-0.2 0.1 0.2 0.2 15.6 0.2 79.7 0.6 4.8M42.7 124.4l8.4-22.8 0.8-1.8 0.2-0.2 0.1 0.2 0.2 16.2 0.2 79.1 0.6 4.8M42.7 124.3l8.3-22.7 0.8-1.8 0.2-0.2 0.1 0.2 0.2 16.8 0.2 78.5 0.6 4.8M42.7 124.2l8.3-22.6 0.8-1.8 0.2-0.2 0.1 0.2 0.1 6.7 0.3 88.6 0.6 4.7M42.7 124.1l8.2-22.5 0.8-1.8 0.2-0.2 0.1 0.2 0.1 7.1 0.3 88.3 0.6 4.7M42.7 124.0l8.1-22.6 0.8-1.8 0.1-0.1 0.1 0.3 0.2 18.7 0.2 72.2 0.0 4.5 0.6 4.7M42.7 123.9l8.1-22.5 0.7-1.8 0.1-0.1 0.1 0.3 0.2 19.3 0.2 75.0 0.6 5.8M42.7 123.8l8.0-22.4 0.7-1.8 0.1-0.1 0.1 0.3 0.2 20.0 0.2 75.1 0.6 5.0M42.7 123.7l7.9-22.3 0.7-1.8 0.1-0.1 0.1 0.3 0.1 8.7 0.2 86.4 0.6 5.0M42.7 123.6l7.8-22.2 0.7-1.8 0.1-0.1 0.1 0.3 0.1 9.1 0.2 86.0 0.6 5.0M42.7 123.5l7.7-22.1 0.7-1.8 0.1-0.1 0.1 0.3 0.1 9.6 0.2 85.5 0.6 4.9M42.7 123.4l7.7-22.1 0.7-1.6 0.1-0.1 0.1 0.3 0.4 95.1 0.6 4.9M42.7 123.3l7.6-22.0 0.7-1.6 0.1-0.1 0.1 0.3 0.4 95.1 0.6 4.9M42.7 123.2l7.6-21.9 0.7-1.6 0.1-0.1 0.1 0.3 0.4 95.2 0.6 4.8M42.7 123.0l7.5-21.8 0.7-1.6 0.1-0.1 0.1 0.4 0.4 95.2 0.6 4.8M42.7 122.9l7.4-21.7 0.7-1.6 0.1-0.1 0.1 0.4 0.4 95.2 0.6 4.8M42.7 122.8l7.4-21.8 0.6-1.5 0.1-0.1 0.1 0.4 0.3 95.2 0.6 4.8M42.7 122.7l7.3-21.7 0.6-1.5 0.1-0.1 0.1 0.4 0.3 95.2 0.6 4.7M42.7 122.6l7.2-21.6 0.6-1.5 0.1-0.1 0.1 0.4 0.3 95.2 0.6 4.7M42.7 122.5l7.2-21.5 0.6-1.5 0.1-0.1 0.1 0.4 0.3 92.1 0.0 3.2 0.6 4.7M42.7 122.4l7.1-21.4 0.6-1.5 0.1-0.1 0.1 0.4 0.3 94.9 0.6 5.0M42.7 122.3l7.1-21.4 0.6-1.4 0.2 0.5 0.3 94.9 0.6 5.0M42.7 122.2l7.0-21.3 0.6-1.4 0.2 0.5 0.3 94.9 0.6 5.0M42.7 122.1l6.9-21.2 0.6-1.4 0.2 0.5 0.3 94.9 0.6 4.9M42.7 122.0l6.7-20.6 0.7-1.8 0.1-0.2 0.1 0.2 0.1 6.5 0.2 88.8 0.6 4.9M42.7 121.9l6.6-20.5 0.7-1.8 0.1-0.2 0.1 0.2 0.1 6.9 0.2 88.4 0.6 4.9M42.7 121.8l6.6-20.5 0.6-1.7 0.1-0.2 0.1 0.2 0.1 7.3 0.2 88.0 0.6 4.9M42.7 121.7l6.5-20.4 0.6-1.7 0.1-0.1 0.1 0.2 0.3 95.4 0.6 4.9M42.7 121.6l6.5-20.3 0.6-1.7 0.1-0.1 0.1 0.2 0.3 95.4 0.6 4.8M42.7 121.5l6.4-20.2 0.6-1.7 0.1-0.1 0.1 0.2 0.3 95.4 0.6 4.8M42.7 121.4l6.3-20.1 0.6-1.7 0.1-0.1 0.1 0.2 0.3 95.4 0.6 4.8M42.7 121.3l6.3-20.0 0.6-1.7 0.1-0.1 0.1 0.2 0.3 95.4 0.6 4.8M42.7 121.2l6.2-20.1 0.6-1.6 0.1-0.1 0.1 0.2 0.3 95.4 0.6 4.7M42.7 121.1l6.2-20.0 0.6-1.6 0.1-0.1 0.1 0.3 0.3 92.8 0.0 2.6 0.6 4.7M42.7 121.0l6.1-19.9 0.6-1.6 0.1-0.1 0.1 0.3 0.3 95.1 0.6 5.0M42.7 120.9l6.1-19.8 0.6-1.6 0.1-0.1 0.1 0.3 0.3 95.1 0.6 5.0M42.7 120.8l6.0-19.7 0.6-1.6 0.1-0.1 0.1 0.3 0.3 95.2 0.6 5.0M42.7 120.7l6.0-19.7 0.5-1.4 0.1-0.1 0.1 0.3 0.3 95.2 0.6 4.9M42.7 120.6l5.9-19.6 0.5-1.4 0.1-0.1 0.1 0.3 0.3 95.2 0.6 4.9M42.7 120.5l5.9-19.5 0.5-1.5 0.2 0.3 0.3 95.2 0.6 4.9M42.7 120.4l5.8-19.5 0.5-1.5 0.2 0.3 0.3 95.2 0.6 4.9M42.7 120.3l5.8-19.4 0.5-1.5 0.2 0.3 0.3 95.2 0.6 4.9M42.7 120.2l5.7-19.4 0.5-1.4 0.2 0.4 0.3 95.2 0.6 4.8M42.7 120.1l5.7-19.3 0.5-1.4 0.2 0.4 0.3 95.2 0.6 4.8M42.7 120.0l5.6-19.2 0.5-1.4 0.2 0.4 0.3 95.2 0.6 4.8M42.7 119.9l5.6-19.1 0.5-1.4 0.2 0.4 0.3 95.2 0.6 4.8M42.7 119.8l5.5-19.0 0.5-1.4 0.2 0.5 0.3 95.2 0.6 4.8M42.7 119.7l5.5-19.0 0.4-1.2 0.2 0.5 0.2 91.9 0.0 3.3 0.6 4.7M42.7 119.6l5.5-19.0 0.4-1.2 0.2 0.5 0.2 94.9 0.6 5.0M42.7 119.5l5.4-18.9 0.4-1.2 0.2 0.5 0.2 94.9 0.6 5.0M42.7 119.4l5.3-18.8 0.4-1.2 0.2 0.6 0.2 94.9 0.6 5.0M42.7 119.3l5.1-18.1 0.5-1.6 0.1-0.2 0.1 0.2 0.3 95.3 0.6 5.0M42.7 119.2l5.1-18.2 0.5-1.5 0.1-0.2 0.1 0.2 0.3 95.3 0.6 4.9M42.7 119.1l5.1-18.1 0.5-1.5 0.1-0.2 0.1 0.2 0.3 95.4 0.6 4.9M42.7 119.0l5.0-18.0 0.5-1.5 0.1-0.2 0.1 0.2 0.3 95.4 0.6 4.9M42.7 118.8l5.0-17.9 0.5-1.5 0.1-0.2 0.1 0.2 0.3 95.4 0.6 4.9M42.7 118.7l4.9-17.8 0.5-1.5 0.1-0.2 0.1 0.2 0.3 95.4 0.6 4.9M42.7 118.6l4.9-17.8 0.5-1.4 0.1-0.1 0.1 0.3 0.3 95.4 0.6 4.8M42.7 118.5l4.9-17.7 0.5-1.4 0.1-0.1 0.1 0.3 0.3 95.4 0.6 4.8M42.7 118.4l4.8-17.6 0.5-1.4 0.1-0.1 0.1 0.3 0.3 95.4 0.6 4.8M42.7 118.3l4.8-17.5 0.5-1.4 0.1 0.2 0.3 95.4 0.6 4.8M42.7 118.2l4.7-17.4 0.5-1.4 0.1 0.2 0.3 95.4 0.6 4.8M42.7 118.1l4.7-17.5 0.4-1.3 0.1 0.3 0.2 94.5 0.6 5.7M42.7 118.0l4.7-17.4 0.4-1.3 0.1 0.3 0.2 95.1 0.6 5.0M42.7 117.9l4.6-17.3 0.4-1.3 0.1 0.3 0.2 95.1 0.6 5.0M42.7 117.8l4.6-17.2 0.4-1.3 0.1 0.3 0.2 95.1 0.6 5.0M42.7 117.7l4.5-17.1 0.4-1.3 0.1 0.4 0.2 95.1 0.6 5.0M42.7 117.6l4.5-17.1 0.4-1.1 0.1 0.4 0.2 95.1 0.6 4.9M42.7 117.5l4.5-17.0 0.4-1.1 0.1 0.4 0.2 95.1 0.6 4.9M42.7 117.4l4.4-16.9 0.4-1.1 0.1 0.4 0.2 95.1 0.6 4.9M42.7 117.3l4.4-16.8 0.4-1.1 0.1 0.5 0.2 95.1 0.6 4.9M42.7 117.2l4.3-16.7 0.4-1.1 0.1 0.5 0.2 95.1 0.6 4.9M42.7 117.1l4.3-16.8 0.4-1.0 0.1 0.6 0.2 95.1 0.6 4.8M42.7 117.0l4.3-16.7 0.4-1.0 0.1 0.6 0.2 95.1 0.6 4.8M42.7 116.9l4.3-16.6 0.4-1.0 0.1 0.7 0.2 95.1 0.6 4.8M42.7 116.8l4.2-16.5 0.4-1.0 0.1 0.7 0.2 95.0 0.6 4.8M42.7 116.7l4.0-15.8 0.4-1.5 0.1-0.1 0.1 0.2 0.2 95.6 0.6 4.8M42.7 116.6l4.0-15.9 0.4-1.3 0.1-0.1 0.1 0.2 0.2 95.3 0.6 5.0M42.7 116.5l4.0-15.8 0.4-1.3 0.1-0.1 0.1 0.2 0.2 95.3 0.6 5.0M42.7 116.4l3.9-15.7 0.4-1.3 0.1-0.1 0.1 0.2 0.2 95.3 0.6 5.0M42.7 116.3l3.9-15.6 0.4-1.3 0.1-0.1 0.1 0.2 0.2 95.3 0.6 5.0M42.7 116.2l3.9-15.5 0.4-1.3 0.1-0.1 0.1 0.3 0.2 95.3 0.6 5.0M42.7 116.1l3.9-15.5 0.4-1.2 0.1-0.1 0.1 0.3 0.2 95.3 0.6 4.9M42.7 116.0l3.8-15.4 0.4-1.2 0.1-0.1 0.1 0.3 0.2 95.3 0.6 4.9M42.7 115.9l3.8-15.3 0.4-1.2 0.1 0.2 0.2 95.3 0.6 4.9M42.7 115.8l3.7-15.2 0.4-1.2 0.1 0.3 0.2 95.3 0.6 4.9M42.7 115.7l3.7-15.1 0.4-1.2 0.1 0.3 0.2 95.3 0.6 4.9M42.7 115.6l3.7-15.2 0.3-1.0 0.1 0.3 0.2 95.3 0.6 4.9M42.7 115.5l3.7-15.1 0.3-1.1 0.1 0.4 0.2 95.3 0.6 4.8M42.7 115.4l3.6-15.0 0.3-1.1 0.1 0.4 0.2 95.3 0.6 4.8M42.7 115.3l3.6-14.9 0.3-1.1 0.1 0.4 0.2 95.3 0.6 4.8M42.7 115.2l3.5-14.8 0.3-1.1 0.1 0.5 0.2 95.3 0.6 4.8M42.7 115.1l3.5-14.8 0.3-0.9 0.1 0.5 0.2 94.2 0.6 5.8M42.7 115.0l3.5-14.7 0.3-0.9 0.1 0.5 0.2 95.0 0.6 5.0M42.7 114.9l3.5-14.6 0.3-0.9 0.1 0.6 0.2 95.0 0.6 5.0M42.7 114.8l3.4-14.5 0.3-0.9 0.1 0.6 0.2 95.0 0.6 5.0M42.7 114.7l3.4-14.5 0.3-0.9 0.1 0.7 0.2 94.9 0.6 5.0M42.7 114.6l3.4-14.5 0.3-0.8 0.1 0.7 0.2 94.9 0.6 4.9M42.7 114.4l3.4-14.4 0.3-0.8 0.1 0.8 0.2 94.9 0.6 4.9M42.7 114.3l3.2-13.7 0.3-1.2 0.1-0.1 0.1 0.2 0.2 95.5 0.6 4.9M42.7 114.2l3.2-13.7 0.3-1.2 0.1-0.1 0.1 0.2 0.2 95.5 0.6 4.9M42.7 114.1l3.1-13.6 0.3-1.2 0.1-0.1 0.1 0.2 0.2 95.5 0.6 4.9M42.7 114.0l3.1-13.6 0.3-1.1 0.1-0.1 0.1 0.2 0.2 95.5 0.6 4.9M42.7 113.9l3.1-13.5 0.3-1.1 0.1-0.1 0.1 0.3 0.2 95.5 0.6 4.8M42.7 113.8l3.1-13.4 0.3-1.1 0.1-0.1 0.1 0.3 0.2 95.5 0.6 4.8M42.7 113.7l3.0-13.3 0.3-1.1 0.1-0.1 0.1 0.3 0.2 95.5 0.6 4.8M42.7 113.6l3.0-13.2 0.3-1.1 0.1 0.2 0.2 95.5 0.6 4.8M42.7 113.5l3.0-13.3 0.3-1.0 0.1 0.3 0.2 91.6 0.0 3.8 0.6 4.8M42.7 113.4l3.0-13.2 0.3-1.0 0.1 0.3 0.2 95.2 0.6 5.0M42.7 113.3l2.9-13.1 0.3-1.0 0.1 0.4 0.2 95.2 0.6 5.0M42.7 113.2l2.9-13.0 0.3-1.0 0.1 0.4 0.2 95.2 0.6 5.0M42.7 113.1l2.9-12.9 0.3-1.0 0.1 0.4 0.2 95.2 0.6 5.0M42.7 113.0l2.9-12.9 0.3-0.9 0.1 0.4 0.2 95.2 0.6 5.0M42.7 112.9l2.8-12.8 0.3-0.9 0.1 0.5 0.2 95.2 0.6 4.9M42.7 112.8l2.8-12.7 0.3-0.9 0.1 0.5 0.2 95.1 0.6 4.9M42.7 112.7l2.8-12.6 0.3-0.9 0.1 0.5 0.2 95.1 0.6 4.9M42.7 112.6l2.7-12.5 0.3-0.8 0.1 0.6 0.2 95.1 0.6 4.9M42.7 112.5l2.7-12.6 0.2-0.7 0.1 0.6 0.2 95.1 0.6 4.9M42.7 112.4l2.7-12.5 0.2-0.7 0.1 0.7 0.1 95.0 0.6 4.9M42.7 112.3l2.7-12.4 0.2-0.7 0.1 0.7 0.1 95.0 0.6 4.9M42.7 112.2l2.7-12.3 0.2-0.7 0.1 0.8 0.1 95.0 0.6 4.8M42.7 112.1l2.6-12.2 0.2-0.7 0.1 0.8 0.1 94.9 0.6 4.8M42.7 112.0l2.6-12.2 0.2-0.5 0.1 0.9 0.1 94.9 0.6 4.8M42.7 111.9l2.5-11.6 0.3-1.1 0.1 0.2 0.1 91.9 0.0 3.7 0.6 4.8M42.7 111.8l2.4-11.5 0.3-1.1 0.1 0.2 0.1 95.4 0.6 5.0M42.7 111.7l2.4-11.4 0.3-1.1 0.1 0.2 0.1 95.4 0.6 5.0M42.7 111.6l2.4-11.4 0.2-0.9 0.1 0.2 0.1 95.4 0.6 5.0M42.7 111.5l2.4-11.3 0.2-0.9 0.1 0.3 0.1 95.4 0.6 5.0M42.7 111.4l2.4-11.2 0.2-0.9 0.1 0.3 0.1 95.4 0.6 5.0M42.7 111.3l2.3-11.1 0.2-0.9 0.1 0.3 0.1 95.3 0.6 4.9M42.7 111.2l2.3-11.0 0.2-0.9 0.1 0.3 0.1 95.3 0.6 4.9M42.7 111.1l2.3-10.9 0.2-0.9 0.1 0.4 0.1 95.3 0.6 4.9M42.7 111.0l0.3-1.5M42.8 110.3l2.1-10.3 0.2-0.8 0.1 0.4 0.1 95.3 0.6 4.9M42.7 110.9l0.3-1.5M42.8 110.3l2.1-10.4 0.2-0.8 0.1 0.4 0.1 95.3 0.6 4.9M42.7 110.8l0.3-1.5M42.7 110.3l2.1-10.4 0.2-0.8 0.1 0.4 0.1 95.3 0.6 4.9M42.7 110.7l0.3-1.5M42.7 110.3l2.1-10.4 0.2-0.8 0.1 0.5 0.1 95.3 0.6 4.9M42.7 110.6l0.3-1.5M42.7 110.3l2.1-10.4 0.2-0.8 0.1 0.5 0.1 95.2 0.6 4.9M42.7 110.5l0.3-1.5M42.7 110.3l2.1-10.5 0.2-0.6 0.1 0.6 0.1 95.2 0.6 4.8M42.7 110.4l0.3-1.5M42.7 110.3l2.1-10.5 0.2-0.6 0.1 0.6 0.1 95.2 0.6 4.8M42.7 110.3l0.3-1.5M42.7 109.9l2.0-10.1 0.2-0.6 0.1 0.7 0.1 95.2 0.6 4.8M42.7 110.2l0.3-1.5M42.7 109.9l2.0-10.1 0.2-0.6 0.1 0.7 0.1 94.9 0.6 5.0M42.7 110.1l0.3-1.6M42.7 109.9l2.0-10.1 0.2-0.6 0.1 0.8 0.1 94.9 0.6 5.0M42.7 110.0l0.3-1.6M42.7 109.9l2.0-10.1 0.2-0.6 0.1 0.8 0.1 94.8 0.6 5.0M42.7 109.8l0.3-1.6M42.7 109.5l2.0-9.9 0.2-0.5 0.1 0.9 0.1 94.8 0.6 5.0M42.7 109.7l0.3-1.6M42.7 109.5l2.0-9.9 0.2-0.4 0.1 0.9 0.1 94.7 0.6 5.0M42.7 109.6l0.3-1.6M42.7 109.5l2.0-9.9 0.2-0.4 0.1 1.0 0.1 94.7 0.6 5.0M42.7 109.5l0.3-1.6M42.7 109.5l1.9-9.5 0.2-0.8 0.1 0.2 0.1 95.5 0.6 4.9M42.7 109.4l0.3-1.6M42.7 109.2l1.8-9.1 0.2-0.8 0.1 0.2 0.1 95.5 0.6 4.9M42.7 109.3l0.3-1.6M42.7 109.2l1.8-9.1 0.2-0.8 0.1 0.2 0.1 95.5 0.6 4.9M42.7 109.2l0.3-1.6M42.7 109.2l1.8-9.1 0.2-0.8 0.1 0.2 0.1 95.5 0.6 4.9M42.7 109.1l0.3-1.6M42.7 108.8l1.7-8.8 0.2-0.8 0.1 0.3 0.1 95.5 0.6 4.9M42.7 109.0l0.3-1.6M42.7 108.8l1.8-9.0 0.2-0.7 0.1 0.3 0.1 95.4 0.6 4.9M42.7 108.9l0.3-1.6M42.7 108.8l1.7-9.0 0.2-0.7 0.1 0.3 0.1 95.4 0.6 4.9M42.7 108.8l0.3-1.6M42.7 108.5l1.7-8.7 0.2-0.7 0.1 0.3 0.1 95.4 0.6 4.9M42.7 108.7l0.3-1.6M42.7 108.5l1.7-8.7 0.2-0.7 0.1 0.4 0.1 95.4 0.6 4.8M42.7 108.6l0.3-1.6M42.7 108.5l1.7-8.7 0.2-0.7 0.1 0.4 0.1 95.4 0.6 4.8M42.7 108.5l0.3-1.6M42.7 108.2l1.6-8.4 0.2-0.7 0.1 0.5 0.1 95.4 0.6 4.8M42.7 108.4l0.3-1.6M42.7 108.2l1.6-8.5 0.2-0.5 0.1 0.5 0.1 95.1 0.6 5.0M42.7 108.3l0.3-1.6M42.7 108.2l1.6-8.6 0.2-0.5 0.1 0.5 0.1 95.1 0.6 5.0M42.7 108.2l0.3-1.6M42.7 108.0l1.6-8.3 0.2-0.5 0.1 0.6 0.1 95.1 0.6 5.0M42.7 108.1l0.3-1.6M42.7 108.0l1.6-8.3 0.2-0.5 0.1 0.6 0.1 95.1 0.6 5.0M42.7 108.0l0.3-1.7M42.7 108.0l1.6-8.3 0.2-0.5 0.1 0.7 0.1 95.0 0.6 5.0M42.7 107.9l0.3-1.7M42.7 107.7l1.5-8.0 0.2-0.5 0.1 0.7 0.1 95.0 0.6 5.0M42.7 107.8l0.3-1.7M42.7 107.7l1.5-8.2 0.1-0.4 0.1 0.8 0.1 94.9 0.6 4.9M42.7 107.7l0.3-1.7M42.7 107.7l1.5-8.2 0.1-0.4 0.1 0.8 0.1 94.9 0.6 4.9M42.7 107.6l0.3-1.7M42.7 107.4l1.5-7.9 0.1-0.4 0.1 0.9 0.1 94.8 0.6 4.9M42.7 107.5l0.3-1.7M42.7 107.4l1.5-7.9 0.1-0.4 0.1 1.0 0.1 94.8 0.6 4.9M42.7 107.4l0.3-1.7M42.7 107.2l1.4-7.7 0.1-0.3 0.1 1.1 0.1 94.7 0.6 4.9M42.7 107.3l0.3-1.7M42.7 107.2l1.5-7.8 0.1-0.2 0.1 1.2 0.1 94.6 0.6 4.9M42.7 107.2l0.3-1.7M42.7 107.2l1.5-7.8 0.1-0.2 0.1 1.3 0.1 94.5 0.6 4.9M42.7 107.1l0.3-1.7M42.7 106.9l1.3-7.2 0.2-0.6 0.1 0.3 0.1 95.6 0.6 4.9M42.7 107.0l0.3-1.7M42.7 106.9l1.3-7.2 0.2-0.6 0.1 0.3 0.1 95.6 0.6 4.8M42.7 106.9l0.3-1.7M42.7 106.7l1.3-7.0 0.2-0.6 0.1 0.3 0.1 95.5 0.6 4.8M42.7 106.8l0.3-1.7M42.7 106.7l1.3-7.0 0.2-0.6 0.1 0.3 0.1 95.5 0.6 4.8M42.7 106.7l0.3-1.7M42.7 106.5l1.2-6.7 0.2-0.6 0.1 0.3 0.1 95.3 0.6 5.0M42.7 106.6l0.3-1.7M42.7 106.5l1.2-6.7 0.2-0.6 0.1 0.4 0.1 95.3 0.6 5.0M42.7 106.5l0.3-1.7M42.7 106.5l1.2-6.7 0.2-0.6 0.1 0.4 0.1 95.3 0.6 5.0" fill="none" stroke="#00a6a6" stroke-width="0.75"/>
</g>
<rect x="36.5" y="4.4" width="308.0" height="189.9" fill="none" stroke="#9a9a9a" stroke-width="1"/>
<path d="M36.5 194.3v-3M36.5 4.4v3M51.9 194.3v-1.6M51.9 4.4v1.6M67.3 194.3v-1.6M67.3 4.4v1.6M82.7 194.3v-1.6M82.7 4.4v1.6M98.1 194.3v-3M98.1 4.4v3M113.5 194.3v-1.6M113.5 4.4v1.6M128.9 194.3v-1.6M128.9 4.4v1.6M144.3 194.3v-1.6M144.3 4.4v1.6M159.7 194.3v-3M159.7 4.4v3M175.1 194.3v-1.6M175.1 4.4v1.6M190.5 194.3v-1.6M190.5 4.4v1.6M205.9 194.3v-1.6M205.9 4.4v1.6M221.3 194.3v-3M221.3 4.4v3M236.7 194.3v-1.6M236.7 4.4v1.6M252.1 194.3v-1.6M252.1 4.4v1.6M267.5 194.3v-1.6M267.5 4.4v1.6M282.9 194.3v-3M282.9 4.4v3M298.3 194.3v-1.6M298.3 4.4v1.6M313.7 194.3v-1.6M313.7 4.4v1.6M329.1 194.3v-1.6M329.1 4.4v1.6M344.5 194.3v-3M344.5 4.4v3M36.5 194.3h3M344.5 194.3h-3M36.5 188.0h1.6M344.5 188.0h-1.6M36.5 181.6h1.6M344.5 181.6h-1.6M36.5 175.3h1.6M344.5 175.3h-1.6M36.5 169.0h1.6M344.5 169.0h-1.6M36.5 162.7h3M344.5 162.7h-3M36.5 156.3h1.6M344.5 156.3h-1.6M36.5 150.0h1.6M344.5 150.0h-1.6M36.5 143.7h1.6M344.5 143.7h-1.6M36.5 137.3h1.6M344.5 137.3h-1.6M36.5 131.0h3M344.5 131.0h-3M36.5 124.7h1.6M344.5 124.7h-1.6M36.5 118.3h1.6M344.5 118.3h-1.6M36.5 112.0h1.6M344.5 112.0h-1.6M36.5 105.7h1.6M344.5 105.7h-1.6M36.5 99.4h3M344.5 99.4h-3M36.5 93.0h1.6M344.5 93.0h-1.6M36.5 86.7h1.6M344.5 86.7h-1.6M36.5 80.4h1.6M344.5 80.4h-1.6M36.5 74.0h1.6M344.5 74.0h-1.6M36.5 67.7h3M344.5 67.7h-3M36.5 61.4h1.6M344.5 61.4h-1.6M36.5 55.0h1.6M344.5 55.0h-1.6M36.5 48.7h1.6M344.5 48.7h-1.6M36.5 42.4h1.6M344.5 42.4h-1.6M36.5 36.0h3M344.5 36.0h-3M36.5 29.7h1.6M344.5 29.7h-1.6M36.5 23.4h1.6M344.5 23.4h-1.6M36.5 17.1h1.6M344.5 17.1h-1.6M36.5 10.7h1.6M344.5 10.7h-1.6M36.5 4.4h3M344.5 4.4h-3" stroke="#555" stroke-width="0.7" fill="none"/>
<text x="36.5" y="207.6" text-anchor="middle" class="tk">0</text>
<text x="98.1" y="207.6" text-anchor="middle" class="tk">2</text>
<text x="159.7" y="207.6" text-anchor="middle" class="tk">4</text>
<text x="221.3" y="207.6" text-anchor="middle" class="tk">6</text>
<text x="282.9" y="207.6" text-anchor="middle" class="tk">8</text>
<text x="344.5" y="207.6" text-anchor="middle" class="tk">10</text>
<text x="33.7" y="198.3" text-anchor="end" class="tk">−10</text>
<text x="33.7" y="166.7" text-anchor="end" class="tk">−5</text>
<text x="33.7" y="135.0" text-anchor="end" class="tk">0</text>
<text x="33.7" y="103.4" text-anchor="end" class="tk">5</text>
<text x="33.7" y="71.7" text-anchor="end" class="tk">10</text>
<text x="33.7" y="40.0" text-anchor="end" class="tk">15</text>
<text x="33.7" y="8.4" text-anchor="end" class="tk">20</text>
<rect x="196.9" y="175.9" width="127.29999999999998" height="15.4" rx="3" fill="#fff" stroke="#d0d0d0" stroke-width="0.8"/>
<text x="197.9" y="188.7" class="lg" textLength="119" lengthAdjust="spacingAndGlyphs"><tspan font-style="italic" font-weight="bold">Δ</tspan>=5 meV, <tspan font-style="italic">K</tspan>′ valley</text>
<text x="166.3" y="221.4" class="ax" textLength="46.7" lengthAdjust="spacingAndGlyphs"><tspan font-style="italic">B</tspan><tspan font-style="italic" font-size="13" dy="3.8">z</tspan><tspan dy="-3.8">(T)</tspan></text>
<clipPath id="c371"><rect x="378.68" y="4.4" width="300.92" height="189.9"/></clipPath>
<g clip-path="url(#c371)">
<linearGradient id="g371" x1="0" y1="0" x2="1" y2="0"><stop offset="0" stop-color="#ff00ff" stop-opacity="0.75"/><stop offset="1" stop-color="#ff00ff" stop-opacity="0"/></linearGradient>
<path d="M378.7 4.4H399.0V77.2C403.6 85.2 407.9 93.4 411.0 99.4V194.3H378.7Z" fill="#ff00ff"/>
<rect x="411.0" y="99.4" width="9.2" height="95.0" fill="url(#g371)"/>
<path d="M377.8 95.9l21.7-0.9 44.4-2.8 3.7-0.1 2.5 0.2 2.8 0.6 7.1 2.0 3.7 0.8 4.1 0.6 10.7 1.1 7.6 1.3 30.5 7.6 13.0 2.9 15.2 3.1 18.3 3.3 39.6 6.2 21.3 3.9 18.3 3.5 16.0 3.3 14.5 3.2 15.2 3.6M377.8 95.7l21.7-1.7 41.6-5.2 3.1 0.0 5.6 1.2 2.8 0.2 3.1-0.3 8.4-1.2 6.9-0.5 0.8 0.1 4.6 2.0 4.6 1.8 3.8 1.2 3.0 0.7 4.6 0.7 12.2 1.3 6.1 0.9 35.1 7.2 27.4 5.0 20.6 3.3 14.5 2.1 56.4 7.0 23.6 3.3M377.8 95.5l21.7-2.6 37.6-7.1 2.5-0.1 4.3 0.9 2.5 0.1 3.4-0.6 7.7-1.9 1.9-0.3 1.9-0.0 1.2 0.2 1.5 0.5 6.9 3.3 0.8 0.2 5.3-0.5 10.7-1.4 3.0-0.1 3.8 0.3 9.9 1.5 19.1 3.4 7.6 0.9 13.7 1.1 7.6 0.9 9.1 1.4 32.0 5.3 25.9 3.8 31.3 4.0 37.4 4.3M377.8 95.2l21.7-3.4 30.5-7.7 4.6-1.0 1.9 0.0 3.1 0.7 1.9-0.0 2.8-0.6 5.6-1.8 2.2-0.3 2.5 0.3 7.4 2.0 2.9 0.1 3.8-0.5 8.4-1.8 3.8-0.3 3.8 0.4 14.5 3.0 6.1 0.7 5.3-0.1 11.4-1.3 4.6-0.2 4.6 0.2 12.2 1.5 6.9 0.5 7.6 0.0 19.1-0.5 6.1 0.1 5.3 0.3 21.3 1.9 19.8 1.0 8.4 0.7 9.1 1.1 24.4 3.4 16.8 2.0M377.8 95.0l21.7-4.3 28.3-9.0 3.7-1.0 1.5-0.1 2.8 0.6 1.5-0.1 2.2-0.6 5.0-1.8 2.2-0.5 5.0 0.3 4.0-0.4 3.7 0.4 2.2-0.0 2.2-0.4 5.6-1.4 2.3-0.3 3.0 0.1 11.4 2.4 3.0 0.4 2.3 0.1 4.6-0.4 9.9-2.0 4.6-0.3 3.8 0.2 8.4 1.0 3.8 0.2 5.3-0.1 11.4-1.0 6.1-0.3 6.1 0.2 12.2 1.1 5.3 0.3 5.3-0.0 13.7-0.5 9.1 0.1 9.9 0.5 19.1 1.6 9.9 0.4 15.2-0.3 32.8-1.7M377.8 94.7l21.7-5.1 28.3-10.7 2.2-0.5 2.8 0.5 1.5-0.2 2.5-0.9 5.3-2.5 1.9-0.6 5.6-0.2 4.0 1.0 1.9 0.1 1.9-0.4 5.6-1.9 2.0-0.4 1.5-0.0 2.3 0.3 8.4 1.7 3.8 0.3 3.8-0.5 8.4-2.4 3.8-0.6 2.3 0.0 6.9 0.7 3.8 0.1 3.8-0.2 9.9-1.2 4.6-0.3 4.6 0.1 9.9 0.6 3.8 0.0 4.6-0.3 9.9-1.3 4.6-0.3 6.1 0.1 15.2 1.2 4.6 0.1 4.6-0.2 15.2-1.4 77.0-8.6M377.8 94.5l21.7-6.0 26.8-11.8 1.2-0.2 2.5 0.3 1.2-0.2 2.2-0.9 4.0-2.1 1.5-0.5 1.2-0.0 3.1 0.5 3.1-0.4 2.5 0.0 0.9-0.1 1.9-0.7 5.3-2.4 2.5-0.7 1.2-0.1 1.2 0.1 6.0 1.7 2.3 0.3 2.3 0.0 3.0-0.6 8.4-3.0 3.0-0.7 2.3-0.1 5.3 0.5 2.3 0.1 3.0-0.2 6.9-1.1 3.8-0.4 3.8-0.0 7.6 0.2 3.0-0.1 4.6-0.6 9.9-2.1 3.8-0.4 4.6-0.0 11.4 0.7 3.8-0.1 4.6-0.4 12.2-1.9 108.2-18.2M377.8 94.3l21.7-6.8 24.6-12.4 1.2-0.3 1.9 0.2 1.2-0.2 1.5-0.7 4.3-2.5 1.2-0.5 3.4-0.2 3.7-1.4 3.1 0.2 1.2-0.2 1.5-0.5 3.4-1.6 1.2-0.4 1.2-0.2 1.5 0.1 5.6 1.5 2.5 0.0 1.5-0.3 2.3-0.7 8.4-3.6 3.0-0.8 1.5-0.1 4.6 0.4 2.3 0.0 9.1-1.4 11.4-0.3 4.6-0.8 8.4-2.6 3.8-0.8 3.8-0.2 10.7 0.3 3.0-0.2 3.8-0.5 10.7-2.2 131.1-29.3M377.8 94.0l21.7-7.7 22.7-12.9 0.9-0.3 1.9 0.2 0.9-0.2 1.5-0.8 5.0-3.1 0.9-0.2 2.5-0.1 3.7-1.7 0.9-0.0 1.9 0.2 0.9-0.1 4.0-2.2 1.5-0.6 1.2-0.2 1.5-0.0 2.5 0.2 3.4 0.5 1.9-0.1 2.8-0.8 7.2-3.6 1.5-0.6 1.5-0.4 1.5-0.1 5.3 0.3 6.9-0.9 6.9-0.3 2.3-0.2 3.8-0.9 8.4-3.2 3.8-1.0 3.0-0.3 9.1-0.0 3.0-0.4 3.0-0.6 9.1-2.4 149.4-41.8M377.8 93.8l21.7-8.5 20.6-13.0 1.2-0.5 1.9 0.1 0.9-0.3 5.6-3.8 0.9-0.3 1.5-0.0 0.9-0.2 3.7-2.3 0.6-0.1 1.9 0.2 0.9-0.1 3.7-2.0 1.5-0.5 4.6-0.3 3.4 0.3 1.5-0.2 2.2-0.9 6.5-3.7 2.6-1.0 1.5-0.2 5.3 0.1 11.4-1.1 3.8-1.2 7.6-3.5 3.0-1.1 3.0-0.5 8.4-0.3 2.3-0.4 3.0-0.8 157.0-52.6M377.8 93.5l21.7-9.4 19.0-13.2 0.9-0.4 1.9 0.0 0.9-0.3 5.0-3.5 0.9-0.4 1.5-0.2 0.9-0.3 3.1-2.3 0.9-0.5 2.8-0.1 3.1-1.8 1.2-0.4 2.5-0.2 2.8-0.6 2.8 0.1 1.2-0.2 1.9-0.9 5.9-3.8 2.5-1.1 1.9-0.3 4.0 0.2 3.8-0.2 4.6-0.5 1.5-0.4 2.3-0.9 7.6-4.1 3.0-1.2 2.3-0.5 5.3-0.3 2.3-0.3 4.6-1.3 125.8-49.2M377.8 93.3l21.7-10.2 17.5-13.2 0.9-0.5 1.5-0.0 0.9-0.3 1.9-1.4 3.4-3.0 0.6-0.2 1.2-0.0 0.9-0.3 3.1-2.5 0.9-0.6 0.6-0.1 1.9 0.1 3.1-1.3 2.8-0.6 2.8-1.3 0.9-0.1 1.9 0.0 0.9-0.2 1.5-0.8 5.3-3.7 2.2-1.0 2.2-0.3 3.7 0.3 1.9-0.0 2.3-0.3 1.5-0.3 1.5-0.5 2.3-1.1 6.9-4.2 3.0-1.5 2.3-0.6 4.6-0.4 2.3-0.4 3.8-1.3 102.9-46.1M377.8 93.1l21.7-11.1 16.2-13.3 0.9-0.4 0.9 0.1 0.6-0.1 4.6-3.5 1.2-0.5 1.9-0.3 3.7-3.9 0.9-0.7 0.6-0.1 1.2 0.0 0.6-0.2 2.5-1.5 4.6-2.3 0.6-0.1 2.2 0.3 1.2-0.2 1.2-0.7 4.3-3.2 2.5-1.2 2.2-0.4 5.3-0.0 2.5-0.6 2.6-1.3 6.9-4.7 3.0-1.7 2.3-0.7 5.3-0.7 1.5-0.4 2.3-0.9 86.1-43.5M377.8 92.8l21.7-11.9 14.7-12.9 0.9-0.6 1.2 0.0 0.9-0.4 4.3-4.1 3.4-2.5 3.4-3.4 0.3-0.1 1.5 0.5 0.6-0.1 1.9-1.2 2.5-0.6 2.2-1.0 3.1-0.4 1.2-0.9 5.0-4.3 1.2-0.8 1.5-0.7 0.9-0.2 4.3 0.6 1.2-0.2 1.5-0.6 2.5-1.6 5.5-4.2 2.3-1.5 2.3-1.0 4.6-0.7 1.5-0.4 3.0-1.4 73.2-41.3M377.8 92.6l21.7-12.8 13.8-12.9 0.6-0.4 1.5-0.1 0.6-0.4 1.9-1.8 2.8-3.1 1.2-0.3 0.6-0.3 4.0-3.6 0.9-0.3 0.9 0.1 1.2-0.9 0.6-0.2 2.5-0.2 2.8-2.1 3.1-1.5 3.4-2.7 1.9-1.1 2.8-0.7 3.4-0.2 1.9-0.8 2.5-1.7 6.2-5.2 2.2-1.6 2.0-0.9 3.8-0.7 1.5-0.5 3.0-1.6 62.5-38.9M377.8 92.3l21.7-13.7 12.5-12.6 0.9-0.7 0.9-0.1 0.6-0.2 4.3-4.1 0.6-0.2 1.2-0.0 3.4-4.1 1.2-1.1 0.6-0.3 2.8-0.4 0.9-0.3 0.9-0.8 2.2-2.5 0.9-0.9 0.6-0.3 1.5-0.2 0.9-0.4 4.0-3.2 3.1-1.8 0.9-0.3 3.1-0.0 1.5-0.6 2.2-1.6 5.3-4.7 2.2-1.5 1.5-0.6 3.4-0.7 1.5-0.6 1.5-0.9 27.4-18.8 28.2-19.1M377.8 92.1l21.7-14.5 11.6-12.3 0.6-0.5 0.9-0.1 0.6-0.3 3.4-3.3 0.9-0.6 1.2-0.5 0.6-0.4 4.3-4.9 0.9-0.7 1.5-0.8 1.2-0.8 3.7-3.6 0.6-0.2 1.5 0.2 0.6-0.2 3.7-3.3 2.2-1.2 1.9-0.5 2.5-0.1 0.9-0.4 1.9-1.6 5.3-5.2 1.9-1.6 1.9-1.0 3.7-1.0 2.5-1.4 24.0-18.0 24.4-18.0M377.8 91.8l21.7-15.4 10.7-12.0 0.6-0.5 0.9-0.0 0.9-0.8 3.1-3.6 2.8-2.9 4.0-5.0 0.3-0.1 1.5 0.3 1.2-0.3 3.7-3.3 2.2-0.5 2.8-2.8 1.2-0.9 2.8-1.3 2.8-0.7 1.2-0.7 1.5-1.4 4.6-4.8 1.9-1.7 1.5-1.0 3.7-1.2 2.2-1.4 21.4-17.4 22.1-17.7M377.8 91.6l21.7-16.2 9.7-11.5 0.6-0.6 0.9-0.0 0.9-0.8 3.1-3.9 3.1-3.2 2.8-3.7 1.9-0.1 1.9-0.9 0.9-0.7 2.2-2.2 2.5-1.5 2.2-2.2 2.5-1.1 5.0-2.7 1.5-1.4 5.9-6.3 1.5-1.1 3.4-1.2 1.9-1.3 19.4-17.0 19.1-16.4M377.8 91.4l21.3-16.7 9.5-11.7 0.6-0.4 0.6 0.0 0.6-0.5 3.7-5.0 0.9-0.5 0.6-0.6 3.1-3.8 0.6-0.4 0.9-0.4 0.9-1.0 0.3-0.1 0.9 0.1 0.6-0.2 3.1-3.6 2.8-2.2 0.9-0.5 1.9-0.5 0.6-0.4 2.5-2.5 3.1-2.4 5.0-5.7 1.5-1.5 1.2-0.8 2.5-0.9 1.9-1.3 18.5-17.4 16.8-15.5M377.8 91.1l21.3-17.5 8.6-11.1 0.6-0.5 0.6-0.1 0.6-0.4 3.1-3.9 0.3-0.2 1.2-0.4 4.0-6.3 0.9-0.7 0.6-0.2 1.5-0.0 0.3-0.3 3.1-5.2 0.6-0.8 2.5-0.2 0.9-0.3 0.6-0.4 0.9-1.0 2.8-3.8 0.6-0.4 1.5-0.6 0.9-0.7 5.6-6.3 1.2-0.8 2.2-0.8 1.5-1.1 31.8-31.7M377.8 90.9l21.3-18.3 8.0-10.7 0.3-0.3 0.9-0.3 3.1-3.9 1.9-1.3 3.4-5.1 0.6-0.6 1.2-0.7 0.6-0.6 4.0-5.5 0.9-0.6 1.2-0.2 0.6-0.6 1.2-0.7 0.9-1.0 2.8-3.6 0.6-0.3 1.5-0.2 0.6-0.4 4.0-5.3 1.5-1.8 0.9-0.7 2.5-1.1 1.2-1.0 29.3-31.1M377.8 90.6l21.3-19.2 7.1-9.9 0.3-0.4 0.9-0.3 0.3-0.3 2.5-3.4 2.2-2.0 3.4-4.9 1.5-1.0 1.9-2.0 2.8-4.1 0.9-0.7 2.2-0.1 0.6-0.1 0.3-0.3 3.1-4.6 0.6-0.7 1.2-0.8 0.6-0.6 5.3-7.1 1.2-1.0 2.2-1.0 1.2-1.1 26.4-29.8M377.8 90.4l21.3-20.0 6.4-9.4 0.3-0.4 0.6-0.0 0.3-0.2 0.3-0.4 4.6-6.9 2.2-3.6 0.3-0.2 1.2-0.1 0.6-0.3 2.5-2.9 2.5-3.4 1.2-1.1 0.9-0.5 0.6-0.5 4.0-6.4 0.3-0.2 1.2-0.1 0.9-0.6 4.6-6.1 0.9-0.8 1.9-0.9 1.2-1.1 24.5-29.3M377.8 90.2l21.3-20.8 5.8-8.8 0.3-0.4 0.6-0.0 0.3-0.3 3.1-5.0 1.2-1.2 2.5-3.8 1.2-1.0 2.2-3.9 1.2-0.9 2.2-2.8 0.9-0.3 1.5-0.0 0.6-0.5 3.4-5.4 0.6-0.7 0.9-0.3 0.3-0.3 4.6-7.0 0.9-0.9 2.2-1.2 1.2-1.3 22.3-28.2M377.8 89.9l21.3-21.7 5.2-8.2 0.3-0.4 0.6-0.1 0.3-0.2 2.8-4.5 0.3-0.2 0.6-0.1 0.3-0.3 2.8-5.4 1.5-2.1 1.2-2.1 0.3-0.4 0.9-0.0 0.3-0.2 1.5-2.6 1.2-0.9 0.9-1.2 1.2-1.0 0.9-1.3 2.5-4.3 1.2-0.2 0.9-0.6 4.0-5.9 0.9-0.8 1.5-0.8 0.9-0.9 21.0-28.0M377.8 89.7l21.3-22.5 4.9-7.9 0.9-0.4 2.5-4.0 0.3-0.3 0.6-0.2 0.3-0.3 2.5-4.5 1.9-2.5 1.5-3.1 0.3-0.4 0.6-0.1 1.2-1.7 1.5-1.4 1.2-1.6 0.9-0.2 0.3-0.3 2.8-4.9 0.6-0.7 0.9-0.3 4.3-7.1 0.9-1.0 1.5-0.9 1.2-1.4 19.2-26.9M377.8 89.4l21.3-23.3 4.3-7.1 0.9-0.5 2.2-3.6 0.6-0.8 0.6-0.4 0.6-0.9 4.3-8.4 0.6-0.7 1.5-0.7 1.2-2.2 1.9-2.8 0.3-0.2 0.9-0.2 0.3-0.2 3.1-5.8 1.9-1.4 3.7-5.9 0.6-0.6 1.5-1.0 0.9-1.1 18.0-26.4M377.8 89.2l21.3-24.2 3.7-6.3 0.3-0.4 0.6-0.2 2.2-3.6 1.5-1.9 3.4-6.4 1.9-2.3 2.2-3.9 1.2-1.5 1.2-1.9 0.6-0.2 0.6-0.6 2.8-5.1 1.2-0.3 0.6-0.7 3.4-5.8 0.6-0.7 1.5-1.0 0.9-1.2 16.7-25.7M377.8 89.0l21.7-25.6 2.5-4.6 0.4-0.6 0.6-0.3 0.3-0.5 2.5-4.6 1.2-2.0 1.9-3.7 1.9-1.1 3.1-6.2 1.2-1.2 1.2-2.3 0.3-0.2 0.6-0.1 2.8-5.1 0.3-0.3 0.9-0.3 0.3-0.4 3.7-6.7 0.6-0.7 1.2-0.8 0.9-1.2 15.8-25.4M377.8 88.7l21.7-26.4 2.1-3.9 0.8-0.6 0.3-0.5 2.5-4.7 0.6-0.4 0.6-0.8 1.5-3.0 0.9-1.3 2.8-5.6 0.9-1.3 1.2-0.8 1.5-2.9 0.3-0.3 0.6-0.0 0.3-0.3 1.9-3.8 0.6-1.0 1.2-1.4 3.4-6.3 0.6-0.9 1.5-1.2 0.9-1.3 14.5-24.4M377.8 88.5l21.3-26.7 1.7-3.1 0.8-0.7 0.4-0.6 2.0-3.8 0.3-0.5 0.9-0.7 2.2-4.7 1.2-1.7 2.2-5.4 0.3-0.5 1.5-0.3 1.9-3.2 1.2-1.2 2.2-4.3 1.9-3.0 2.8-5.4 0.6-0.9 1.2-0.9 0.9-1.2 13.9-24.3M377.8 88.2l21.3-27.5 1.3-2.3 0.4-0.2 0.4-0.4 2.5-5.1 0.9-1.3 1.9-4.3 0.3-0.5 0.6-0.2 0.3-0.3 0.3-0.6 1.9-4.6 0.3-0.5 0.9-0.7 0.9-1.0 1.5-2.9 1.2-1.6 2.8-6.3 1.2-1.0 3.1-5.6 1.5-1.3 0.6-0.9 13.3-24.1M377.8 88.0l21.3-28.3 0.8-1.5 0.4 0.0 0.4-0.7 2.3-4.8 0.3-0.4 0.6-0.2 2.2-5.2 0.6-0.6 2.8-6.2 0.6-0.9 0.9-0.4 0.3-0.5 1.9-4.5 1.2-1.7 1.9-3.9 0.3-0.3 0.9-0.3 3.1-6.4 0.6-0.8 0.9-0.7 0.6-0.9 12.7-23.9M377.8 87.7l21.7-29.8 0.4 0.0 2.8-5.8 0.3 0.0 0.3-0.2 2.2-5.0 0.9-1.5 2.2-5.4 0.3-0.6 1.5-1.3 2.2-4.5 0.9-1.1 1.9-4.1 1.2-1.3 3.1-6.6 0.6-0.8 0.9-0.7 0.6-1.0 11.8-22.9M377.8 87.5l21.3-30.0 0.4-0.0 0.4-0.5 2.1-4.6 0.4-0.4 0.3 0.0 2.2-4.9 0.3-0.5 0.6-0.5 2.2-6.4 1.2-1.7 0.9-0.8 1.5-3.6 0.3-0.5 0.9-0.8 1.9-4.0 1.2-2.1 2.8-6.0 0.6-0.8 0.6-0.4 0.6-0.9 11.5-23.1M377.8 87.3l20.9-30.2 0.8-0.3 2.1-4.7 0.8-0.7 2.2-5.2 0.6-0.5 0.3-0.6 2.2-5.6 0.9-1.5 0.6-0.4 0.3-0.5 1.9-4.9 0.9-1.3 1.9-4.6 0.3-0.5 0.6-0.4 0.6-0.9 2.5-5.2 0.9-0.8 0.6-0.9 10.8-22.6M377.8 87.0l20.5-30.4 0.4-0.2 0.4 0.0 0.4-0.7 1.7-3.7 0.8-0.9 1.7-4.3 0.3-0.6 0.6-0.2 2.2-5.3 0.9-1.3 0.9-1.9 1.9-5.1 0.3-0.4 0.6-0.3 0.3-0.6 1.5-3.9 0.6-1.0 0.6-0.6 2.8-6.5 1.2-1.2 0.6-1.2 9.9-21.3M377.8 86.8l20.0-30.6 0.4-0.4 0.4 0.1 0.8-1.4 1.7-3.9 0.4-0.3 0.4-0.8 1.3-3.3 0.9-1.6 2.2-5.8 0.9-1.5 0.9-0.9 0.6-1.1 4.0-10.2 0.9-0.9 2.5-5.4 0.3-0.5 0.9-0.8 0.6-1.2 9.6-21.3M377.8 86.5l19.6-30.7 0.4-0.5 0.4 0.1 0.8-1.2 1.7-3.5 0.4-0.4 1.6-4.1 0.3-0.6 0.6-0.6 0.3-0.8 1.9-5.5 0.6-0.6 0.3-0.6 2.8-7.3 0.9-0.6 0.3-0.5 1.5-4.1 0.9-1.1 2.2-5.2 0.6-1.0 0.6-0.5 0.6-1.1 9.3-21.2M377.8 86.3l19.2-30.8 0.4-0.5 0.4 0.1 1.7-2.7 3.5-7.6 1.9-5.2 0.3-0.6 0.6-0.4 3.1-8.3 0.3-0.4 0.3-0.1 0.3-0.6 1.9-4.9 0.9-0.7 2.2-5.3 0.3-0.6 0.9-0.9 0.3-0.6 9.0-21.1M377.8 86.1l18.8-30.9 0.4-0.5 0.4 0.0 2.1-3.4 2.5-5.7 0.7-0.8 0.3-0.7 1.5-5.0 0.6-0.9 1.2-3.2 0.6-0.9 1.5-4.6 0.6-0.7 1.9-5.1 0.6-0.1 0.3-0.4 2.2-5.5 0.3-0.5 0.6-0.5 0.6-1.2 8.4-20.2M377.8 85.8l18.4-30.9 0.4-0.5 0.4-0.0 2.1-3.4 2.1-4.9 0.4-0.7 0.4-0.2 0.4-0.7 1.5-4.4 0.6-1.3 1.5-4.8 0.6-0.5 1.5-4.4 0.6-0.9 1.5-4.4 0.3-0.2 0.3 0.0 2.5-6.3 0.9-1.0 0.3-0.6 8.4-20.7M377.8 85.6l18.0-30.9 0.4-0.5 0.4-0.0 2.9-5.0 2.1-4.5 2.1-5.9 0.6-0.9 0.3-0.8 0.9-3.1 0.3-0.2 0.3 0.1 1.5-4.4 0.3-0.7 0.3-0.1 0.3-0.7 0.9-2.9 0.3-0.8 0.6-0.7 0.3-0.7 2.2-5.8 0.9-1.1 0.3-0.6 7.7-19.7M377.8 85.3l17.5-30.9 0.4-0.5 0.4-0.0 1.7-2.8 1.7-2.4 2.1-5.1 1.5-4.5 0.6-0.8 0.3-0.8 1.2-4.0 0.6-1.2 1.2-3.8 0.3-0.5 0.6-0.0 4.3-11.3 0.9-1.1 0.3-0.7 7.4-19.4M377.8 85.1l17.1-30.8 0.4-0.6 0.4-0.0 1.7-2.9 0.8-1.1 2.1-4.5 0.8-1.1 2.2-6.1 1.5-4.9 0.6-0.8 1.2-4.4 0.6-0.6 1.5-4.1 1.2-2.3 1.5-4.2 0.9-1.2 0.3-0.7 7.1-19.1M377.8 84.9l16.7-30.7 0.4-0.7 0.4-0.0 1.7-3.0 0.8-0.6 0.8-1.7 1.3-3.5 0.4-0.7 1.7-5.2 1.0-1.4 1.2-4.1 0.3-0.7 0.3-0.1 0.3-0.6 1.2-4.0 0.6-1.3 1.2-3.7 1.2-2.2 1.5-4.3 0.3-0.6 0.6-0.7 0.3-0.7 6.8-18.7M377.8 84.6l16.3-30.6 0.4-0.7 0.4-0.0 1.7-3.0 0.4-0.1 0.4-0.5 1.7-3.3 0.4-1.1 0.4-0.5 2.1-6.5 0.4-0.9 1.9-5.7 0.3-0.3 0.3-0.9 0.9-3.0 0.3-0.4 0.3-0.0 0.3-0.5 1.2-4.3 0.9-1.5 1.9-5.1 0.6-0.7 0.3-0.7 6.8-19.1M377.8 84.4l16.3-31.2 0.4-0.1 1.7-3.0 0.4-0.1 0.4-0.6 2.1-4.1 0.4-0.4 1.7-5.4 0.4-1.2 0.4-0.5 1.7-6.3 0.3-0.4 0.3 0.0 1.2-4.0 0.6-1.3 1.5-4.7 0.3-0.0 0.3-0.5 1.9-5.5 0.6-0.7 0.3-0.6 6.5-18.7M377.8 84.1l15.9-31.0 0.4-0.2 0.4-0.6 1.3-2.4 0.4-0.1 0.4-0.5 2.1-4.1 0.4-0.2 0.4-0.7 1.3-4.4 0.8-1.6 3.3-11.1 0.3-0.6 0.3-0.1 0.3-0.5 1.2-4.0 0.6-0.7 1.9-5.7 0.9-1.4 0.3-0.8 6.2-18.2M377.8 83.9l15.5-30.8 0.8-0.8 1.3-2.5 0.4-0.2 0.4-0.6 2.1-4.1 0.4-0.2 0.4-0.5 0.4-1.1 1.3-4.7 0.4-0.6 0.4-1.4 1.1-4.5 0.3-0.9 0.6 0.1 3.1-10.2 0.6-0.7 1.9-5.5 0.6-0.7 0.3-0.8 5.9-17.7M377.8 83.7l15.0-30.6 0.4-0.6 0.4-0.3 1.3-2.5 0.4-0.2 0.4-0.6 2.1-4.3 0.8-0.8 0.4-0.9 1.3-4.1 0.4-0.6 1.7-6.4 0.6-1.2 1.2-4.3 0.6-0.7 0.3-0.8 0.9-3.2 0.9-1.9 1.5-4.9 0.9-1.5 5.9-18.0M377.8 83.4l14.6-30.3 0.4-0.8 0.4-0.1 1.3-2.5 0.8-0.8 2.1-4.4 0.4-0.2 0.4-0.5 0.8-1.8 0.8-2.6 0.8-1.9 3.2-11.2 0.6-1.4 1.2-4.1 0.9-1.7 1.5-4.9 0.6-0.8 0.3-0.8 5.6-17.4M377.8 83.2l14.6-30.9 0.4-0.2 1.3-2.5 0.8-0.8 2.1-4.5 0.4-0.1 0.4-0.6 1.3-2.7 0.8-2.4 0.4-0.7 3.0-10.5 0.9-2.4 1.2-4.4 0.6-0.9 1.5-5.0 0.9-1.6 5.6-17.7M377.8 82.9l14.2-30.6 0.8-1.0 1.3-2.5 0.4-0.2 2.1-4.4 0.4-0.2 0.4-0.7 2.1-4.8 0.4-0.5 3.4-13.0 0.6-1.0 1.2-4.1 0.6-0.9 1.5-5.1 0.6-0.9 0.3-0.8 5.3-17.1M377.8 82.7l13.8-30.2 0.8-1.0 1.3-2.7 0.4-0.1 2.1-4.6 0.8-1.0 1.7-3.6 0.8-1.3 1.7-5.9 1.6-6.4 0.3-0.9 0.3-0.2 0.3-0.9 1.2-4.4 0.3-0.2 0.3-0.6 1.5-5.1 0.6-0.9 5.3-17.4M377.8 82.4l13.4-29.8 0.8-1.1 1.3-2.8 0.4-0.3 0.4-0.7 1.7-3.7 0.8-1.3 1.7-4.1 1.3-2.1 5.1-17.6 0.3 0.0 1.5-5.2 0.9-1.8 5.0-16.7M377.8 82.2l13.4-30.3 0.4-0.2 1.3-2.8 0.8-1.0 1.7-3.8 0.8-1.1 2.9-6.7 4.9-16.4 0.3-0.8 0.3-0.1 1.5-5.5 0.6-1.0 0.3-0.9 4.6-16.0M377.8 82.0l12.9-29.9 0.4-0.3 1.7-3.7 0.4-0.2 1.7-3.8 0.8-1.2 2.1-5.4 1.3-1.9 0.4-1.2 2.5-10.0 0.4-1.1 0.3-0.1 0.9-3.2 0.6-1.5 1.5-5.5 0.6-1.0 4.6-16.2M377.8 81.7l12.5-29.4 0.4-0.9 0.4-0.3 1.3-2.9 0.4-0.3 2.1-4.8 0.4-0.4 0.4-0.8 2.1-4.6 1.3-3.5 1.3-4.7 0.8-2.2 2.5-8.6 0.3-0.3 0.3-0.8 1.2-4.4 0.6-1.0 4.6-16.5M377.8 81.5l12.5-29.9 0.4-0.3 1.3-2.9 0.8-1.2 1.7-3.9 0.8-1.4 1.7-4.6 0.8-1.5 0.8-2.0 0.8-2.5 2.1-7.7 0.8-1.7 0.6-2.4 0.6-1.4 1.5-5.6 0.6-1.1 4.3-15.7M377.8 81.2l12.5-30.4 0.4-0.3 1.3-3.0 0.4-0.2 1.7-4.0 0.8-1.3 4.2-10.5 1.3-3.9 1.3-5.1 0.4-0.7 2.9-9.6 0.3-0.3 0.3-0.8 4.3-15.9M377.8 81.0l12.1-29.9 0.4-0.5 1.3-2.9 0.8-1.2 1.3-3.1 0.8-1.4 1.3-3.5 1.3-2.8 0.8-2.9 1.7-4.8 0.8-1.8 0.8-3.5 0.8-2.3 0.7-2.9 0.3-0.3 0.3-0.8 1.2-4.5 0.3-0.3 0.3-0.9 4.0-15.0M377.8 80.8l12.1-30.3 0.4-0.3 1.3-3.1 0.4-0.2 1.3-3.1 0.4-0.8 0.4-0.4 3.3-8.5 1.3-4.3 1.3-3.2 1.3-4.9 0.4-0.4 0.8-3.2 0.3-0.4 1.5-5.7 0.3-0.3 0.3-0.9 4.0-15.3M377.8 80.5l12.1-30.7 0.4-0.4 0.8-2.1 0.8-1.3 1.3-3.0 0.4-0.4 1.7-4.3 0.8-1.5 3.3-10.1 1.3-5.0 0.4-0.5 0.8-3.3 0.7-1.8 1.2-4.6 0.3-0.3 0.3-1.0 3.7-14.3M377.8 80.3l11.7-30.2 0.4-0.4 1.3-3.1 0.4-0.4 1.3-3.2 0.4-0.3 1.7-4.6 0.8-1.0 0.8-2.2 2.9-9.0 0.8-3.7 0.8-2.3 0.8-3.2 0.4-0.8 1.2-4.7 0.3-0.3 0.3-1.0 3.7-14.5M377.8 80.0l11.7-30.7 0.4-0.4 0.8-2.1 0.8-1.4 0.8-2.2 0.4-0.3 1.7-4.4 0.8-1.7 3.8-10.3 1.3-5.3 0.4-0.8 0.8-3.5 0.4-0.8 1.3-5.1 0.3-0.3 0.3-1.0 3.7-14.8M377.8 79.8l11.7-31.1 0.4-0.4 0.8-2.2 0.4-0.5 0.8-2.1 0.8-1.4 1.3-3.5 0.8-1.3 3.3-10.2 1.3-2.5 1.7-7.1 0.8-2.3 1.0-4.2 0.3-0.4 0.3-0.9 3.4-13.7M377.8 79.6l11.3-30.4 1.7-3.6 0.4-0.6 0.8-2.3 0.4-0.4 1.3-3.4 0.8-1.6 2.1-6.2 1.7-5.6 0.8-0.8 2.1-8.3 0.4-0.6 1.1-4.7 0.6-1.3 3.4-13.9M377.8 79.3l11.3-30.9 0.4-0.5 0.8-2.2 0.4-0.6 0.8-2.1 0.8-1.5 1.3-3.5 0.4-0.7 3.8-11.7 0.8-1.7 2.5-7.9 1.3-5.1 0.6-1.4 3.4-14.1M377.8 79.1l11.3-31.3 0.4-0.5 2.1-5.1 0.4-0.4 3.3-9.5 2.5-7.8 0.4-0.2 1.3-3.4 1.3-5.2 0.4-0.9 0.8-3.5 0.7-1.9 3.4-14.3M377.8 78.8l11.3-31.7 0.4-0.6 2.1-5.1 0.4-0.5 1.3-3.6 0.4-0.5 0.4-1.0 3.3-11.6 0.4-0.2 1.7-4.2 0.8-3.3 0.4-1.0 1.3-5.3 0.4-0.7 3.4-14.5M377.8 78.6l10.9-31.0 1.3-2.9 0.4-0.5 0.8-2.4 0.4-0.6 1.3-3.7 0.4-0.5 0.4-0.9 1.3-3.9 2.1-7.7 0.8-1.6 0.8-2.5 0.4-0.5 0.4-1.2 2.1-8.1 0.8-2.4 2.8-12.0M377.8 78.3l10.9-31.4 0.4-0.6 0.8-2.4 0.4-0.6 0.8-2.4 0.4-0.4 1.7-4.7 3.8-12.4 0.4-0.6 0.8-2.4 0.4-0.4 0.4-1.1 0.8-3.3 0.4-0.9 1.3-5.2 0.4-1.0 2.9-12.6M377.8 78.1l10.9-31.8 0.4-0.6 0.8-2.3 0.4-0.6 0.8-2.4 0.4-0.7 0.8-2.6 0.8-2.0 1.3-4.4 2.1-6.4 1.3-3.4 0.8-1.5 1.3-3.8 1.3-5.4 0.4-0.8 3.0-13.2M377.8 77.9l10.4-31.0 1.3-3.1 0.4-0.6 0.8-2.4 0.4-0.5 1.7-4.6 3.8-12.3 0.4-0.5 2.9-8.2 0.8-3.8 0.8-2.6 2.7-12.1M377.8 77.6l10.4-31.5 1.3-3.1 0.4-0.7 0.8-2.5 0.4-0.5 1.3-3.8 0.4-0.4 0.8-2.7 2.5-9.6 0.4-0.3 0.4-0.7 2.1-5.9 0.4-0.8 1.3-5.6 0.4-0.8 2.8-12.7M377.8 77.4l10.4-31.9 2.5-6.3 0.4-0.6 1.3-3.5 3.8-12.9 0.4-0.6 0.8-2.2 0.4-0.5 1.7-4.8 0.8-3.8 0.8-2.7 2.5-11.4M377.8 77.1l10.4-32.2 2.5-6.1 1.3-3.9 0.4-0.2 3.3-12.2 0.4-0.5 0.8-2.8 0.4-0.5 2.1-5.7 0.8-3.8 0.4-0.9 2.6-12.0M377.8 76.9l10.0-31.4 2.9-7.4 1.7-4.9 3.3-11.6 0.4-0.6 2.1-5.9 0.8-1.7 1.7-6.2 2.6-12.2M377.8 76.7l10.0-31.8 1.7-4.1 0.8-2.5 0.4-0.7 0.8-2.8 0.4-0.7 3.3-12.1 0.4-0.5 0.8-2.7 0.4-0.6 0.8-2.6 1.3-3.1 0.8-3.5 0.4-0.9 2.7-12.9M377.8 76.4l10.0-32.1 2.1-5.8 0.8-1.8 1.3-3.7 2.9-10.7 0.8-1.9 2.1-6.1 0.4-0.7 0.8-2.3 1.3-4.5 2.4-11.5M377.8 76.2l10.0-32.5 1.7-4.2 1.7-5.6 0.4-0.4 0.4-0.9 2.9-11.0 0.4-0.6 1.3-3.4 3.3-9.8 2.5-12.1M377.8 75.9l9.6-31.6 2.9-7.8 4.2-15.1 0.8-1.6 2.1-6.3 0.4-0.6 0.4-1.2 1.7-5.2 2.1-10.3M377.8 75.7l9.6-31.9 2.9-7.8 0.8-2.6 3.3-12.3 0.8-2.4 0.8-1.8 0.8-2.7 0.4-0.8 1.7-5.2 0.4-0.7 2.5-12.3M377.8 75.5l9.6-32.3 3.3-9.9 0.8-1.8 2.5-10.1 1.7-4.1 2.9-8.8 0.8-1.9 2.1-10.5M377.8 75.2l9.6-32.6 1.7-4.6 1.7-5.5 0.4-0.9 2.9-11.2 0.4-0.7 2.1-6.5 0.8-1.9 1.3-4.1 0.4-0.4 2.1-10.1M377.8 75.0l9.2-31.6 2.9-8.4 4.2-15.1 1.3-3.1 2.9-9.1 0.8-1.7 2.1-10.2M377.8 74.7l9.2-32.0 3.8-11.4 2.9-11.4 0.4-0.4 2.1-6.7 0.4-0.8 1.7-5.3 0.4-0.5 0.4-1.4 1.7-8.2M377.8 74.5l9.2-32.3 2.5-7.4 1.7-5.6 2.5-10.0 1.3-3.3 1.3-4.1 0.4-0.6 1.3-4.2 0.4-0.5 0.8-2.8 1.7-8.3M377.8 74.2l9.2-32.7 2.1-6.8 2.1-5.9 2.1-9.0 0.4-0.8 2.1-6.8 0.4-0.5 1.3-4.3 0.8-1.9 0.8-2.8 1.3-6.1M377.8 74.0l8.8-31.6 4.2-13.8 2.5-9.7 0.8-2.4 0.4-0.7 1.3-4.4 0.4-0.7 1.3-4.3 0.4-0.5 1.3-4.3 1.3-6.2M377.8 73.8l8.8-31.9 2.5-8.1 3.8-14.4 0.4-0.8 1.3-3.7 2.5-8.1 0.4-0.6 0.4-1.3 1.3-4.4 0.8-4.0M377.8 73.5l8.4-30.7 4.6-15.9 2.1-8.2 1.7-4.8 0.8-3.1 0.4-0.6 0.8-3.0 0.8-2.0 1.7-5.9 0.8-4.1M377.8 20.0l7.5 8.0 1.3 1.1 0.4 0.1 0.4-0.5 2.1-6.4 0.4-1.8 0.8-2.0 0.4-0.6 0.4-0.1 1.3 0.4 0.8-2.8 0.4-0.8 0.8-3.1 0.4-0.7 1.3-4.4 0.4-0.6 2.5-9.2M377.8 18.5l8.8 7.4 0.8 0.5 0.4-0.1 1.7-6.3 0.4-0.2 0.8-3.9 0.8-3.0 0.4-0.2 1.7 2.1 1.3-4.2 0.4-0.7 0.8-3.1 0.8-2.1 2.5-9.3M377.8 17.0l9.2 5.6 1.3 0.6 0.4-0.5 1.3-5.4 0.8-1.5 1.3-4.9 0.4-0.8 0.4-0.2 0.4-0.0 0.8 0.2 0.8 0.4 1.3-4.3 0.4-0.6 2.5-9.1M377.8 15.5l10.4 3.8 0.4 0.1 0.4-0.1 0.8-2.7 0.8-3.6 1.3-2.7 0.8-3.1 0.4-1.0 0.4-0.6 0.4-0.2 0.4-0.0 1.7 0.5 2.9-10.6M377.8 146.5l311.1 0.0M377.8 145.8l311.1-19.2M377.8 145.4l311.1-38.4M377.8 145.1l267.6-49.5M377.8 144.7l199.2-49.1M377.8 144.3l158.1-48.7M377.8 143.9l130.7-48.4M377.8 143.5l111.2-48.0M377.8 143.2l96.5-47.6M377.8 142.8l85.1-47.2M377.8 142.4l76.0-46.8M377.8 142.0l68.5-46.5M377.8 141.6l62.3-46.1M377.8 141.3l57.0-45.7M377.8 140.9l52.5-45.3M377.8 140.5l48.6-44.9M377.8 140.1l45.2-44.6M377.8 139.7l42.2-44.2M377.8 139.4l39.5-43.8M377.8 139.0l37.1-43.4M377.8 138.6l34.9-43.0M377.8 138.2l33.0-42.7M377.8 137.8l31.2-42.3M377.8 137.5l29.6-41.9M377.8 137.1l28.1-41.5M377.8 136.7l26.7-41.1M377.8 136.3l25.4-40.8M377.8 135.9l24.3-40.4M377.8 135.6l23.2-40.0M377.8 135.2l22.2-39.6M377.8 134.8l21.2-39.2M377.8 134.4l20.3-38.9M377.8 134.0l19.5-38.5M377.8 133.7l18.7-38.1M377.8 133.3l18.0-37.7M377.8 132.9l17.3-37.3M377.8 132.5l16.7-37.0M377.8 132.1l16.0-36.6M377.8 131.8l15.5-36.2M377.8 131.4l14.9-35.8M377.8 131.0l14.4-35.4M618.0 89.2l23.8 3.7 3.7 0.3 2.7 0.5 2.7 0.7 2.7 1.0 2.7 1.3 2.7 1.6 3.7 2.6 3.7 3.2 3.7 3.7 3.7 4.2 3.7 4.8 3.7 5.3 3.7 5.8 3.7 6.3M589.0 89.2l21.8 3.8 3.2 0.3 2.4 0.5 2.4 0.8 4.0 2.1 4.0 2.9 2.4 2.1 2.4 2.4 4.0 4.7 4.8 6.7 4.8 7.9 4.8 9.1 5.6 12.1 4.8 11.7 4.8 12.9 4.8 14.1 5.6 17.9M566.1 89.2l19.5 3.8 2.9 0.3 2.2 0.5 2.2 0.8 3.6 2.1 2.2 1.6 2.2 1.9 3.6 3.9 3.6 4.7 4.3 6.7 4.3 7.9 4.3 9.1 5.1 12.1 4.3 11.7 4.3 12.9 4.3 14.1 5.1 17.9M547.6 89.2l17.6 3.8 2.6 0.3 2.0 0.5 2.0 0.8 3.3 2.1 3.3 2.9 3.3 3.7 3.9 5.5 4.6 8.0 3.9 8.1 3.9 9.3 3.9 10.5 3.9 11.7 3.9 12.9 3.9 14.1 4.6 17.9M532.3 89.2l16.1 3.8 2.4 0.3 1.8 0.5 1.8 0.8 3.0 2.1 3.0 2.9 3.6 4.6 3.0 4.7 3.6 6.7 3.6 7.9 3.6 9.1 4.2 12.1 3.6 11.7 3.6 12.9 3.6 14.1 4.2 17.9M519.4 89.2l14.8 3.8 2.2 0.3 1.6 0.5 1.6 0.8 2.7 2.1 2.7 2.9 3.3 4.6 2.7 4.7 3.3 6.7 3.3 7.9 3.8 10.7 3.3 10.5 3.3 11.7 3.3 12.9 3.3 14.1 3.8 17.9M508.5 89.2l13.7 3.8 2.0 0.3 1.5 0.5 1.5 0.8 2.5 2.1 2.5 2.9 3.0 4.6 2.5 4.7 3.6 8.0 3.0 8.1 3.0 9.3 3.0 10.5 3.0 11.7 3.0 12.9 3.6 16.5 3.0 15.4M499.0 89.2l12.8 3.8 1.9 0.3 1.4 0.5 1.4 0.8 2.4 2.1 2.4 2.9 2.8 4.6 2.4 4.7 2.8 6.7 2.8 7.9 3.3 10.7 2.8 10.5 3.3 13.7 2.8 13.1 2.8 14.3 2.8 15.4M490.8 89.2l11.9 3.8 1.8 0.3 1.3 0.5 1.3 0.8 1.3 1.1 1.3 1.4 2.2 3.1 2.2 3.9 2.2 4.7 2.7 6.7 2.7 7.9 3.1 10.7 2.7 10.5 2.7 11.7 3.1 15.1 2.7 14.3 2.7 15.4M483.6 89.2l11.2 3.8 1.7 0.3 1.2 0.5 1.2 0.8 2.1 2.1 2.5 3.6 2.1 3.9 2.1 4.7 2.5 6.7 2.5 7.9 2.5 9.1 2.9 12.1 2.5 11.7 2.5 12.9 2.5 14.1 2.9 17.9M477.2 89.2l10.6 3.8 1.6 0.3 1.2 0.5 1.2 0.8 2.0 2.1 2.4 3.6 2.0 3.9 2.0 4.7 2.4 6.7 2.4 7.9 2.4 9.1 2.7 12.1 2.4 11.7 2.7 15.1 4.7 29.7M471.5 89.2l10.0 3.8 1.5 0.3 1.1 0.5 1.1 0.8 1.9 2.1 1.9 2.9 1.9 3.7 2.2 5.5 2.2 6.7 2.2 7.9 2.6 10.7 2.2 10.5 2.2 11.7 2.2 12.9 2.6 16.5 2.2 15.4M466.4 89.2l9.5 3.8 1.4 0.3 1.1 0.5 1.1 0.8 1.8 2.1 1.8 2.9 1.8 3.7 2.1 5.5 2.1 6.7 2.1 7.9 2.5 10.7 2.1 10.5 2.1 11.7 2.1 12.9 4.6 31.9M461.7 89.2l9.0 3.8 1.3 0.3 1.0 0.5 1.0 0.8 1.7 2.1 2.0 3.6 1.7 3.9 1.7 4.7 2.0 6.7 2.0 7.9 2.0 9.1 2.3 12.1 4.0 24.5 4.3 31.9M457.6 89.2l8.6 3.8 1.3 0.3 1.0 0.5 1.0 0.8 1.6 2.1 1.9 3.6 1.6 3.9 1.6 4.7 1.9 6.7 1.9 7.9 2.2 10.7 1.9 10.5 3.8 24.5 4.1 31.9M453.7 89.2l8.2 3.8 1.2 0.3 0.9 0.5 0.9 0.8 1.5 2.1 1.5 2.9 1.8 4.6 1.5 4.7 1.8 6.7 2.1 9.4 1.8 9.3 1.8 10.5 1.8 11.7 2.1 15.1 3.7 29.7M450.2 89.2l7.9 3.8 1.2 0.3 0.9 0.5 0.9 0.8 1.8 2.6 1.5 3.1 1.5 3.9 1.5 4.7 1.8 6.7 1.8 7.9 2.0 10.7 1.8 10.5 3.8 26.8 3.5 29.7M447.0 89.2l7.6 3.8 1.1 0.3 0.8 0.5 0.8 0.8 1.4 2.1 1.4 2.9 1.7 4.6 1.4 4.7 1.7 6.7 1.7 7.9 2.0 10.7 1.7 10.5 3.4 24.5 3.6 31.9M444.1 89.2l7.3 3.8 1.1 0.3 0.8 0.5 0.8 0.8 1.3 2.1 1.3 2.9 1.6 4.6 1.3 4.7 1.6 6.7 1.6 7.9 1.9 10.7 1.6 10.5 3.2 24.5 3.5 31.9M441.3 89.2l7.0 3.8 1.0 0.3 0.8 0.5 0.8 0.8 1.3 2.1 1.3 2.9 1.6 4.6 1.3 4.7 1.8 8.0 1.6 8.1 3.1 19.8 3.1 24.5 3.4 31.9M438.8 89.2l6.7 3.8 1.0 0.3 0.7 0.5 0.7 0.8 1.2 2.1 1.2 2.9 1.5 4.6 1.2 4.7 1.5 6.7 1.5 7.9 1.5 9.1 1.7 12.1 3.0 24.5 3.2 31.9M436.4 89.2l6.5 3.8 1.0 0.3 0.7 0.5 0.7 0.8 1.2 2.1 1.2 2.9 1.4 4.6 1.2 4.7 1.4 6.7 1.7 9.4 2.9 19.8 2.9 24.5 3.1 31.9M434.2 89.2l6.3 3.8 0.9 0.3 0.7 0.5 0.7 0.8 1.2 2.1 1.2 2.9 1.2 3.7 1.4 5.5 1.6 8.0 1.4 8.1 2.8 19.8 2.8 24.5 3.0 31.9M432.2 89.2l6.1 3.8 0.9 0.3 0.7 0.5 0.7 0.8 1.1 2.1 1.3 3.6 1.1 3.9 1.1 4.7 1.3 6.7 1.3 7.9 2.9 21.2 2.7 24.5 2.9 31.9M430.3 89.2l5.9 3.8 0.9 0.3 0.7 0.5 0.7 0.8 1.1 2.1 1.1 2.9 1.1 3.7 1.3 5.5 1.3 6.7 1.3 7.9 2.8 21.2 2.8 26.8 2.6 29.7M428.5 89.2l5.7 3.8 0.8 0.3 1.3 1.4 1.3 2.6 1.1 3.1 2.1 8.6 1.5 8.0 1.3 8.1 2.5 19.8 2.7 26.8 2.5 29.7M426.8 89.2l5.5 3.8 0.8 0.3 1.2 1.4 1.0 2.1 1.0 2.9 1.0 3.7 1.2 5.5 1.4 8.0 1.2 8.1 2.5 19.8 2.5 24.5 2.7 31.9M425.2 89.2l5.4 3.8 0.8 0.3 1.2 1.4 1.0 2.1 1.0 2.9 1.2 4.6 1.0 4.7 1.4 8.0 1.2 8.1 2.4 19.8 2.4 24.5 2.6 31.9M423.7 89.2l5.2 3.8 0.8 0.3 1.2 1.4 1.0 2.1 1.0 2.9 1.0 3.7 1.2 5.5 2.3 14.7 2.5 21.2 2.3 24.5 2.5 31.9M422.2 89.2l5.1 3.8 0.8 0.3 1.1 1.4 0.9 2.1 0.9 2.9 1.1 4.6 0.9 4.7 2.3 14.7 2.4 21.2 2.4 26.8 2.3 29.7M420.9 89.2l4.9 3.8 0.7 0.3 1.1 1.4 0.9 2.1 1.1 3.6 1.8 8.6 1.3 8.0 1.1 8.1 2.2 19.8 2.2 24.5 2.4 31.9M419.6 89.2l4.8 3.8 0.7 0.3 1.1 1.4 0.9 2.1 1.1 3.6 1.8 8.6 2.1 14.7 2.3 21.2 2.1 24.5 2.3 31.9M418.4 89.2l4.7 3.8 0.7 0.3 1.0 1.4 1.0 2.6 0.9 3.1 1.7 8.6 2.3 16.1 2.1 19.8 2.1 24.5 2.3 31.9M417.2 89.2l4.6 3.8 0.7 0.3 1.0 1.4 0.8 2.1 1.0 3.6 1.7 8.6 2.0 14.7 2.2 21.2 2.2 26.8 2.0 29.7M416.1 89.2l4.5 3.8 0.7 0.3 1.0 1.4 0.8 2.1 0.8 2.9 1.8 9.3 2.1 16.1 2.0 19.8 2.0 24.5 2.1 31.9M415.1 89.2l4.4 3.8 0.6 0.3 1.0 1.4 1.0 2.6 0.8 3.1 1.6 8.6 2.1 16.1 1.9 19.8 1.9 24.5 2.1 31.9M414.1 89.2l4.3 3.8 0.6 0.3 0.9 1.4 0.8 2.1 0.8 2.9 1.7 9.3 1.9 14.7 2.0 21.2 2.0 26.8 1.9 29.7M413.1 89.2l4.2 3.8 0.6 0.3 0.9 1.4 0.8 2.1 0.8 2.9 1.7 9.3 2.0 16.1 1.8 19.8 1.8 24.5 2.0 31.9M412.2 89.2l4.1 3.8 0.6 0.3 0.9 1.4 0.8 2.1 0.8 2.9 1.7 9.3 1.8 14.7 2.0 21.2 1.8 24.5 2.0 31.9M411.3 89.2l4.0 3.8 0.6 0.3 0.9 1.4 0.7 2.1 0.7 2.9 1.6 9.3 1.8 14.7 1.9 21.2 1.8 24.5 1.9 31.9M410.5 89.2l3.9 3.8 0.6 0.3 0.9 1.4 0.7 2.1 0.7 2.9 1.6 9.3 1.9 16.1 1.7 19.8 1.7 24.5 1.9 31.9M409.7 89.2l3.8 3.8 0.6 0.3 0.8 1.4 0.8 2.6 0.7 3.1 1.4 8.6 1.7 14.7 1.8 21.2 1.7 24.5 1.8 31.9M408.9 89.2l3.7 3.8 0.6 0.3 0.8 1.4 0.8 2.6 0.7 3.1 1.4 8.6 1.8 16.1 1.7 19.8 1.8 26.8 1.7 29.7M408.2 89.2l3.7 3.8 0.5 0.3 0.8 1.4 0.7 2.1 0.7 2.9 1.5 9.3 1.6 14.7 1.8 21.2 1.6 24.5 1.8 31.9M407.5 89.2l3.6 3.8 0.5 0.3 0.8 1.4 0.7 2.1 0.7 2.9 1.5 9.3 1.7 16.1 1.6 19.8 1.6 24.5 1.7 31.9M406.8 89.2l3.5 3.8 0.5 0.3 0.8 1.4 0.7 2.1 0.7 2.9 1.4 9.3 1.6 14.7 1.7 21.2 1.7 26.8 1.6 29.7M406.1 89.2l3.5 3.8 0.5 0.3 0.8 1.4 0.6 2.1 0.6 2.9 1.4 9.3 1.7 16.1 1.5 19.8 1.5 24.5 1.7 31.9M405.5 89.2l3.4 3.8 0.5 0.3 0.8 1.4 0.6 2.1 0.6 2.9 1.4 9.3 1.5 14.7 1.6 21.2 1.5 24.5 1.6 31.9M404.9 89.2l3.3 3.8 0.5 0.3 0.7 1.4 1.2 5.0 1.4 9.3 1.5 14.7 1.6 21.2 1.5 24.5 1.6 31.9M404.3 89.2l3.3 3.8 0.5 0.3 0.7 1.4 1.2 5.0 1.3 9.3 1.6 16.1 1.5 19.8 1.6 26.8 1.5 29.7M403.7 89.2l3.2 3.8 0.5 0.3 0.7 1.4 0.7 2.6 0.6 3.1 1.2 8.6 1.4 14.7 1.6 21.2 1.6 26.8 1.4 29.7M403.2 89.2l3.2 3.8 0.5 0.3 0.7 1.4 1.2 5.0 1.3 9.3 1.4 14.7 1.5 21.2 1.4 24.5 1.5 31.9M402.7 89.2l3.1 3.8 0.5 0.3 0.7 1.4 1.2 5.0 1.3 9.3 1.4 14.7 1.5 21.2 1.4 24.5 1.5 31.9M402.1 89.2l3.1 3.8 0.5 0.3 0.7 1.4 0.7 2.6 0.6 3.1 1.1 8.6 1.5 16.1 1.4 19.8 1.5 26.8 1.4 29.7M401.6 89.2l3.0 3.8 0.4 0.3 0.7 1.4 1.1 5.0 1.2 9.3 1.4 16.1 1.3 19.8 1.4 26.8 1.3 29.7M401.2 89.2l3.0 3.8 0.4 0.3 0.7 1.4 0.5 2.1 0.7 3.6 1.1 8.6 1.3 14.7 1.4 21.2 1.3 24.5 1.4 31.9M400.7 89.2l2.9 3.8 0.4 0.3 0.6 1.4 1.1 5.0 1.2 9.3 1.3 14.7 1.4 21.2 1.4 26.8 1.3 29.7M400.3 89.2l2.9 3.8 0.4 0.3 0.6 1.4 0.5 2.1 0.6 3.6 1.1 8.6 1.3 14.7 1.4 21.2 1.4 26.8 1.3 29.7M399.8 89.2l2.8 3.8 0.4 0.3 0.6 1.4 1.0 5.0 1.2 9.3 1.4 16.1 1.3 19.8 1.3 24.5 1.4 31.9M399.4 89.2l2.8 3.8 0.4 0.3 0.6 1.4 1.1 5.6 1.0 8.6 1.3 16.1 1.2 19.8 1.2 24.5 1.3 31.9M399.0 89.2l2.7 3.8 0.4 0.3 0.6 1.4 1.1 5.6 1.0 8.6 1.3 16.1 1.2 19.8 1.3 26.8 1.2 29.7M398.6 89.2l2.7 3.8 0.4 0.3 0.6 1.4 1.1 5.6 1.0 8.6 1.3 16.1 1.2 19.8 1.2 24.5 1.3 31.9M398.2 89.2l2.7 3.8 0.4 0.3 0.6 1.4 1.0 5.0 1.1 9.3 1.2 14.7 1.3 21.2 1.2 24.5 1.3 31.9M397.8 89.2l2.6 3.8 0.4 0.3 0.6 1.4 1.0 5.0 1.1 9.3 1.2 14.7 1.3 21.2 1.2 24.5 1.3 31.9M397.4 89.2l2.6 3.8 0.4 0.3 0.6 1.4 1.0 5.0 1.1 9.3 1.2 16.1 1.2 19.8 1.2 24.5 1.2 31.9M397.1 89.2l2.6 3.8 0.4 0.3 0.6 1.4 0.9 5.0 1.0 9.3 1.2 16.1 1.1 19.8 1.2 26.8 1.1 29.7M396.7 89.2l2.5 3.8 0.4 0.3 0.6 1.4 1.0 5.6 0.9 8.6 1.2 16.1 1.1 19.8 1.2 26.8 1.1 29.7M396.4 89.2l2.5 3.8 0.4 0.3 0.6 1.4 1.0 5.6 0.9 8.6 1.2 16.1 1.1 19.8 1.1 24.5 1.2 31.9M396.1 89.2l2.5 3.8 0.4 0.3 0.5 1.4 0.9 5.0 1.0 9.3 1.1 14.7 1.2 21.2 1.1 24.5 1.2 31.9M395.8 89.2l2.4 3.8 0.4 0.3 0.5 1.4 0.9 5.0 1.0 9.3 1.2 16.1 1.1 19.8 1.1 24.5 1.2 31.9M395.4 89.2l2.4 3.8 0.4 0.3 0.5 1.4 1.0 5.6 0.9 8.6 1.1 14.7 1.2 21.2 1.2 26.8 1.1 29.7M395.1 89.2l2.4 3.8 0.3 0.3 0.5 1.4 1.0 5.6 0.9 8.6 1.1 16.1 1.0 19.8 2.2 56.5M394.8 89.2l2.3 3.8 0.3 0.3 0.5 1.4 0.9 5.6 0.9 8.6 1.0 14.7 1.1 21.2 2.2 56.5M394.6 89.2l2.3 3.8 0.3 0.3 0.5 1.4 0.9 5.6 0.9 8.6 1.0 14.7 1.1 21.2 2.1 56.5M394.3 89.2l2.3 3.8 0.3 0.3 0.5 1.4 0.9 5.6 0.8 8.6 1.1 16.1 1.0 19.8 2.1 56.5M394.0 89.2l2.2 3.8 0.3 0.3 0.5 1.4 0.8 5.0 0.9 9.3 1.0 14.7 1.1 21.2 2.1 56.5M393.7 89.2l2.2 3.8 0.3 0.3 0.5 1.4 0.8 5.0 0.9 9.3 1.0 14.7 1.1 21.2 2.1 56.5M393.5 89.2l2.2 3.8 0.3 0.3 0.5 1.4 0.9 5.6 0.8 8.6 1.0 14.7 1.1 21.2 2.0 56.5M393.2 89.2l2.2 3.8 0.3 0.3 0.5 1.4 0.9 5.6 0.8 8.6 1.0 16.1 1.0 19.8 2.0 56.5M393.0 89.2l2.1 3.8 0.3 0.3 0.5 1.4 0.8 5.0 0.9 9.3 1.0 14.7 1.0 21.2 2.0 56.5M392.7 89.2l2.1 3.8 0.3 0.3 0.5 1.4 0.8 5.0 0.9 9.3 0.9 14.7 1.0 21.2 2.0 56.5M392.5 89.2l2.1 3.8 0.3 0.3 0.5 1.4 0.8 5.0 0.9 9.3 0.9 14.7 1.0 21.2 1.9 56.5M392.2 89.2l2.1 3.8 0.3 0.3 0.5 1.4 0.8 5.0 0.8 9.3 0.9 14.7 1.0 21.2 1.9 56.5M392.0 89.2l2.0 3.8 0.3 0.3 0.5 1.4 0.8 5.0 0.8 9.3 0.9 14.7 1.0 21.2 1.9 56.5M391.8 89.2l2.0 3.8 0.3 0.3 0.4 1.4 0.8 5.6 0.7 8.6 0.9 14.7 1.0 21.2 1.9 56.5M391.6 89.2l2.0 3.8 0.3 0.3 0.4 1.4 0.8 5.6 0.7 8.6 0.9 14.7 1.0 21.2 1.9 56.5M391.4 89.2l2.0 3.8 0.3 0.3 0.4 1.4 0.7 5.0 0.8 9.3 1.0 16.1 0.9 19.8 1.8 56.5M391.2 89.2l2.0 3.8 0.3 0.3 0.4 1.4 0.7 5.0 0.8 9.3 0.9 14.7 0.9 21.2 1.8 56.5M391.0 89.2l1.9 3.8 0.3 0.3 0.4 1.4 0.7 5.0 0.8 9.3 0.9 14.7 0.9 21.2 1.8 56.5M390.8 89.2l1.9 3.8 0.3 0.3 0.4 1.4 0.7 5.0 0.8 9.3 0.9 16.1 0.9 19.8 1.8 56.5M390.6 89.2l1.9 3.8 0.3 0.3 0.4 1.4 0.8 5.6 0.7 8.6 0.8 14.7 0.9 21.2 1.8 56.5M390.4 89.2l1.9 3.8 0.3 0.3 0.4 1.4 0.7 5.0 0.8 9.3 0.8 14.7 0.9 21.2 1.7 56.5M390.2 89.2l1.9 3.8 0.3 0.3 0.4 1.4 0.7 5.0 0.8 9.3 0.9 16.1 0.8 19.8 1.7 56.5M390.0 89.2l1.8 3.8 0.3 0.3 0.4 1.4 0.7 5.0 0.8 9.3 0.8 14.7 0.9 21.2 1.7 56.5M389.8 89.2l1.8 3.8 0.3 0.3 0.4 1.4 0.7 5.6 0.7 8.6 0.8 14.7 0.9 21.2 1.7 56.5M389.6 89.2l1.8 3.8 0.3 0.3 0.4 1.4 0.7 5.0 0.7 9.3 0.8 14.7 0.9 21.2 1.7 56.5M389.5 89.2l1.8 3.8 0.3 0.3 0.4 1.4 0.7 5.0 0.7 9.3 0.9 16.1 0.8 19.8 1.7 56.5M389.3 89.2l1.8 3.8 0.3 0.3 0.4 1.4 0.7 5.0 0.7 9.3 0.8 14.7 0.9 21.2 1.6 56.5M389.1 89.2l1.8 3.8 0.3 0.3 0.4 1.4 0.7 5.0 0.7 9.3 0.8 14.7 0.8 21.2 1.6 56.5M389.0 89.2l1.7 3.8 0.3 0.3 0.4 1.4 0.7 5.6 0.6 8.6 0.8 14.7 0.8 21.2 1.6 56.5M388.8 89.2l1.7 3.8 0.3 0.3 0.4 1.4 0.6 5.0 0.7 9.3 0.8 14.7 0.8 21.2 1.6 56.5M388.6 89.2l1.7 3.8 0.3 0.3 0.4 1.4 0.6 5.0 0.7 9.3 0.8 16.1 0.8 19.8 1.6 56.5M388.5 89.2l1.7 3.8 0.3 0.3 0.4 1.4 0.6 5.0 0.7 9.3 0.8 14.7 0.8 21.2 1.6 56.5M388.3 89.2l1.7 3.8 0.2 0.3 0.4 1.4 0.6 5.0 0.7 9.3 0.8 16.1 0.7 19.8 1.6 56.5M388.2 89.2l1.7 3.8 0.2 0.3 0.4 1.4 0.7 5.6 0.6 8.6 0.7 14.7 0.8 21.2 1.5 56.5M388.0 89.2l1.6 3.8 0.2 0.3 0.4 1.4 0.7 5.6 0.6 8.6 0.8 16.1 0.7 19.8 1.5 56.5M387.9 89.2l1.6 3.8 0.2 0.3 0.4 1.4 0.6 5.0 0.7 9.3 0.8 16.1 0.7 19.8 1.5 56.5M387.7 89.2l1.6 3.8 0.2 0.3 0.4 1.4 0.7 5.6 0.6 8.6 0.7 14.7 0.8 21.2 1.5 56.5M387.6 89.2l1.6 3.8 0.2 0.3 0.4 1.4 0.6 5.0 0.7 9.3 0.7 14.7 0.8 21.2 1.5 56.5M387.5 89.2l1.6 3.8 0.2 0.3 0.4 1.4 0.6 5.0 0.6 9.3 0.8 16.1 0.7 19.8 1.5 56.5M387.3 89.2l1.6 3.8 0.2 0.3 0.4 1.4 0.6 5.0 0.6 9.3 0.8 16.1 0.7 19.8 1.5 56.5M387.2 89.2l1.6 3.8 0.2 0.3 0.3 1.4 0.6 5.0 0.6 9.3 0.7 14.7 0.8 21.2 1.4 56.5M387.1 89.2l1.5 3.8 0.2 0.3 0.3 1.4 0.6 5.0 0.6 9.3 0.7 14.7 0.7 21.2 1.4 56.5M386.9 89.2l1.5 3.8 0.2 0.3 0.3 1.4 0.6 5.0 0.6 9.3 0.7 16.1 0.7 19.8 1.4 56.5M386.8 89.2l1.5 3.8 0.2 0.3 0.3 1.4 0.6 5.6 0.6 8.6 0.7 14.7 0.7 21.2 1.4 56.5M386.7 89.2l1.7 4.1 0.3 1.4 0.6 5.6 0.6 8.6 0.7 14.7 0.7 21.2 1.4 56.5M386.6 89.2l1.7 4.1 0.3 1.4 0.6 5.6 0.6 8.6 1.4 35.9 1.4 56.5M386.4 89.2l1.7 4.1 0.3 1.4 0.6 5.0 0.6 9.3 1.4 35.9 1.4 56.5M386.3 89.2l1.7 4.1 0.3 1.4 0.5 5.0 0.6 9.3 1.4 35.9 1.4 56.5M386.2 89.2l1.7 4.1 0.3 1.4 0.5 5.0 0.6 9.3 1.4 35.9 1.4 56.5M386.1 89.2l1.7 4.1 0.3 1.4 0.5 5.0 0.6 9.3 1.3 35.9 1.3 56.5M386.0 89.2l1.7 4.1 0.3 1.4 0.6 5.6 0.5 8.6 1.3 35.9 1.3 56.5M385.9 89.2l1.6 4.1 0.3 1.4 0.5 5.0 0.6 9.3 1.3 35.9 1.3 56.5M385.8 89.2l1.6 4.1 0.3 1.4 0.5 5.0 0.6 9.3 1.3 35.9 1.3 56.5M385.7 89.2l1.6 4.1 0.3 1.4 0.5 5.0 0.6 9.3 1.3 35.9 1.3 56.5M385.5 89.2l1.6 4.1 0.3 1.4 0.6 5.6 0.5 8.6 1.3 35.9 1.3 56.5M385.4 89.2l1.6 4.1 0.3 1.4 0.5 5.0 0.6 9.3 1.3 35.9 1.3 56.5M385.3 89.2l1.6 4.1 0.3 1.4 0.5 5.0 0.6 9.3 1.3 35.9 1.3 56.5M385.2 89.2l1.6 4.1 0.3 1.4 0.5 5.0 0.6 9.3 1.3 35.9 1.3 56.5M385.1 89.2l1.6 4.1 0.3 1.4 0.6 5.6 0.5 8.6 1.3 35.9 1.3 56.5M385.0 89.2l1.5 4.1 0.3 1.4 0.5 5.0 0.5 9.3 1.2 35.9 1.2 56.5M384.9 89.2l1.5 4.1 0.3 1.4 0.5 5.0 0.5 9.3 1.2 35.9 1.2 56.5M384.8 89.2l1.5 4.1 0.3 1.4 0.5 5.0 0.5 9.3 1.2 35.9 1.2 56.5M384.8 89.2l1.5 4.1 0.3 1.4 0.5 5.0 0.5 9.3 1.2 35.9 1.2 56.5M384.7 89.2l1.5 4.1 0.3 1.4 0.5 5.6 0.5 8.6 1.2 35.9 1.2 56.5M384.6 89.2l1.5 4.1 0.3 1.4 0.5 5.0 0.5 9.3 1.2 35.9 1.2 56.5M384.5 89.2l1.5 4.1 0.3 1.4 0.5 5.6 0.5 8.6 1.2 35.9 1.2 56.5M384.4 89.2l1.5 4.1 0.3 1.4 0.5 5.0 0.5 9.3 1.2 35.9 1.2 56.5M384.3 89.2l1.5 4.1 0.3 1.4 0.5 5.6 0.5 8.6 1.2 35.9 1.2 56.5M384.2 89.2l1.5 4.1 0.3 1.4 0.5 5.0 0.5 9.3 1.2 35.9 1.2 56.5M384.1 89.2l1.4 4.1 0.3 1.4 0.5 5.0 0.5 9.3 1.2 35.9 1.2 56.5M384.0 89.2l1.4 4.1 0.3 1.4 0.5 5.0 0.5 9.3 1.2 35.9 1.2 56.5M384.0 89.2l1.4 4.1 0.3 1.4 0.5 5.6 0.5 8.6 1.1 35.9 1.1 56.5M383.9 89.2l1.4 4.1 0.3 1.4 0.5 5.0 0.5 9.3 1.1 35.9 1.1 56.5M383.8 89.2l1.4 4.1 0.3 1.4 0.5 5.6 0.5 8.6 1.1 35.9 1.1 56.5M383.7 89.2l1.4 4.1 0.3 1.4 0.5 5.6 0.4 8.6 1.1 35.9 1.1 56.5M383.6 89.2l1.4 4.1 0.3 1.4 0.4 5.0 0.5 9.3 1.1 35.9 1.1 56.5M383.6 89.2l1.4 4.1 0.3 1.4 0.5 5.6 0.4 8.6 1.1 35.9 1.1 56.5M383.5 89.2l1.4 4.1 0.3 1.4 0.5 5.6 0.4 8.6 1.1 35.9 1.1 56.5M383.4 89.2l1.4 4.1 0.3 1.4 0.4 5.0 0.5 9.3 1.1 35.9 1.1 56.5M383.3 89.2l1.3 4.1 0.3 1.4 0.5 5.6 0.4 8.6 1.1 35.9 1.1 56.5M383.3 89.2l1.3 4.1 0.3 1.4 0.4 5.0 0.5 9.3 1.1 35.9 1.1 56.5M383.2 89.2l1.3 4.1 0.3 1.4 0.4 5.0 0.5 9.3 1.1 35.9 1.1 56.5M383.1 89.2l1.3 4.1 0.3 1.4 0.4 5.0 0.5 9.3 1.1 35.9 1.1 56.5M383.0 89.2l1.3 4.1 0.3 1.4 0.5 5.6 0.4 8.6 1.1 35.9 1.1 56.5M383.0 89.2l1.3 4.1 0.3 1.4 0.4 5.0 0.5 9.3 1.1 35.9 1.1 56.5M382.9 89.2l1.3 4.1 0.3 1.4 0.5 5.6 0.4 8.6 1.0 35.9 1.0 56.5M382.8 89.2l1.3 4.1 0.3 1.4 0.5 5.6 0.4 8.6 1.0 35.9 1.0 56.5M382.8 89.2l1.3 4.1 0.2 1.4 0.4 5.0 0.5 9.3 1.0 35.9 1.0 56.5M382.7 89.2l1.3 4.1 0.2 1.4 0.5 5.6 0.4 8.6 1.0 35.9 1.0 56.5M382.6 89.2l1.3 4.1 0.2 1.4 0.4 5.0 0.5 9.3 1.0 35.9 1.0 56.5M382.6 89.2l1.3 4.1 0.2 1.4 0.4 5.0 0.4 9.3 1.0 35.9 1.0 56.5M382.5 89.2l1.3 4.1 0.2 1.4 0.4 5.0 0.4 9.3 1.0 35.9 1.0 56.5M382.4 89.2l1.2 4.1 0.2 1.4 0.4 5.0 0.4 9.3 1.0 35.9 1.0 56.5M382.4 89.2l1.2 4.1 0.2 1.4 0.4 5.6 0.4 8.6 1.0 35.9 1.0 56.5M382.3 89.2l1.2 4.1 0.2 1.4 0.4 5.0 0.4 9.3 1.0 35.9 1.0 56.5M382.3 89.2l1.2 4.1 0.2 1.4 0.4 5.6 0.4 8.6 1.0 35.9 1.0 56.5M382.2 89.2l1.2 4.1 0.2 1.4 0.4 5.6 0.4 8.6 1.0 35.9 1.0 56.5M382.1 89.2l1.2 4.1 0.2 1.4 0.4 5.6 0.4 8.6 1.0 35.9 1.0 56.5M382.1 89.2l1.2 4.1 0.2 1.4 0.4 5.6 0.4 8.6 1.0 35.9 1.0 56.5M382.0 89.2l1.2 4.1 0.2 1.4 0.4 5.0 0.4 9.3 1.0 35.9 1.0 56.5M382.0 89.2l1.2 4.1 0.2 1.4 0.4 5.6 0.4 8.6 1.0 35.9 1.0 56.5M381.9 89.2l1.2 4.1 0.2 1.4 0.4 5.0 0.4 9.3 1.0 35.9 1.0 56.5M381.8 89.2l1.2 4.1 0.2 1.4 0.4 5.6 0.4 8.6 0.9 35.9 0.9 56.5M381.8 89.2l1.2 4.1 0.2 1.4 0.4 5.6 0.4 8.6 0.9 35.9 0.9 56.5M381.7 89.2l1.2 4.1 0.2 1.4 0.4 5.6 0.4 8.6 0.9 35.9 0.9 56.5M381.7 89.2l1.2 4.1 0.2 1.4 0.8 14.2 0.9 35.9 0.9 56.5M381.6 89.2l1.2 4.1 0.2 1.4 0.8 14.2 0.9 35.9 0.9 56.5M381.6 89.2l1.1 4.1 0.2 1.4 0.8 14.2 0.9 35.9 0.9 56.5M381.5 89.2l1.1 4.1 0.2 1.4 0.8 14.2 0.9 35.9 0.9 56.5M381.5 89.2l1.1 4.1 0.2 1.4 0.8 14.2 0.9 35.9 0.9 56.5M381.4 89.2l1.1 4.1 0.2 1.4 0.8 14.2 0.9 35.9 0.9 56.5M381.4 89.2l1.1 4.1 0.2 1.4 0.8 14.2 0.9 35.9 0.9 56.5M381.3 89.2l1.1 4.1 0.2 1.4 0.8 14.2 0.9 35.9 0.9 56.5M381.3 89.2l1.1 4.1 0.2 1.4 0.8 14.2 0.9 35.9 0.9 56.5M381.2 89.2l1.1 4.1 0.2 1.4 0.7 14.2 0.9 35.9 0.9 56.5M381.2 89.2l1.1 4.1 0.2 1.4 0.7 14.2 0.9 35.9 0.9 56.5M381.1 89.2l1.1 4.1 0.2 1.4 0.7 14.2 0.9 35.9 0.9 56.5M381.1 89.2l1.1 4.1 0.2 1.4 0.7 14.2 0.9 35.9 0.9 56.5M381.0 89.2l1.1 4.1 0.2 1.4 0.7 14.2 0.9 35.9 0.9 56.5M381.0 89.2l1.1 4.1 0.2 1.4 0.7 14.2 0.9 35.9 0.9 56.5M380.9 89.2l1.1 4.1 0.2 1.4 0.7 14.2 0.9 35.9 0.9 56.5M380.9 89.2l1.1 4.1 0.2 1.4 0.7 14.2 0.9 35.9 0.9 56.5M380.8 89.2l1.1 4.1 0.2 1.4 0.7 14.2 0.9 35.9 0.9 56.5M380.8 89.2l1.1 4.1 0.2 1.4 0.7 14.2 0.9 35.9 0.9 56.5M380.7 89.2l1.0 4.1 0.2 1.4 0.7 14.2 0.8 35.9 0.8 56.5M380.7 89.2l1.0 4.1 0.2 1.4 0.7 14.2 0.8 35.9 0.8 56.5M380.6 89.2l1.0 4.1 0.2 1.4 0.7 14.2 0.8 35.9 0.8 56.5M380.6 89.2l1.0 4.1 0.2 1.4 0.7 14.2 0.8 35.9 0.8 56.5M380.5 89.2l1.0 4.1 0.2 1.4 0.7 14.2 0.8 35.9 0.8 56.5M380.5 89.2l1.0 4.1 0.2 1.4 0.7 14.2 0.8 35.9 0.8 56.5M380.5 89.2l1.0 4.1 0.2 1.4 0.7 14.2 0.8 35.9 0.8 56.5M380.4 89.2l1.0 4.1 0.2 1.4 0.7 14.2 0.8 35.9 0.8 56.5M380.4 89.2l1.0 4.1 0.2 1.4 0.7 14.2 0.8 35.9 0.8 56.5M380.3 89.2l1.0 4.1 0.2 1.4 0.7 14.2 0.8 35.9 0.8 56.5M380.3 89.2l1.0 4.1 0.2 1.4 0.7 14.2 0.8 35.9 0.8 56.5M380.3 89.2l1.0 4.1 0.2 1.4 0.7 14.2 0.8 35.9 0.8 56.5M380.2 89.2l1.0 4.1 0.2 1.4 0.7 14.2 0.8 35.9 0.8 56.5M380.2 89.2l1.0 4.1 0.2 1.4 0.7 14.2 0.8 35.9 0.8 56.5M380.1 89.2l1.0 4.1 0.2 1.4 0.7 14.2 0.8 35.9 0.8 56.5M380.1 89.2l1.0 4.1 0.2 1.4 0.7 14.2 0.8 35.9 0.8 56.5M380.1 89.2l1.0 4.1 0.2 1.4 0.7 14.2 0.8 35.9 0.8 56.5M380.0 89.2l1.0 4.1 0.2 1.4 0.7 14.2 0.8 35.9 0.8 56.5M380.0 89.2l1.0 4.1 0.2 1.4 0.7 14.2 0.8 35.9 0.8 56.5M379.9 89.2l1.0 4.1 0.2 1.4 0.7 14.2 0.8 35.9 0.8 56.5M379.9 89.2l1.0 4.1 0.2 1.4 0.6 14.2 0.8 35.9 0.8 56.5M379.9 89.2l1.0 4.1 0.2 1.4 0.6 14.2 0.8 35.9 0.8 56.5M379.8 89.2l0.9 4.1 0.2 1.4 0.6 14.2 0.8 35.9 0.8 56.5M379.8 89.2l0.9 4.1 0.2 1.4 0.6 14.2 0.8 35.9 0.8 56.5M379.8 89.2l0.9 4.1 0.2 1.4 0.6 14.2 0.8 35.9 0.8 56.5M379.7 89.2l0.9 4.1 0.2 1.4 0.6 14.2 0.8 35.9 0.8 56.5M379.7 89.2l0.9 4.1 0.2 1.4 0.6 14.2 0.8 35.9 0.8 56.5M379.7 89.2l0.9 4.1 0.2 1.4 0.6 14.2 0.7 35.9 0.7 56.5M379.6 89.2l0.9 4.1 0.2 1.4 0.6 14.2 0.7 35.9 0.7 56.5M379.6 89.2l0.9 4.1 0.2 1.4 0.6 14.2 0.7 35.9 0.7 56.5M379.5 89.2l1.1 5.5 0.6 14.2 0.7 35.9 0.7 56.5M379.5 89.2l1.1 5.5 0.6 14.2 0.7 35.9 0.7 56.5M379.5 89.2l1.1 5.5 0.6 14.2 0.7 35.9 0.7 56.5M379.4 89.2l1.1 5.5 0.6 14.2 0.7 35.9 0.7 56.5M379.4 89.2l1.1 5.5 0.6 14.2 0.7 35.9 0.7 56.5M379.4 89.2l1.1 5.5 0.6 14.2 0.7 35.9 0.7 56.5M379.3 89.2l1.1 5.5 0.6 14.2 0.7 35.9 0.7 56.5M379.3 89.2l1.1 5.5 0.6 14.2 0.7 35.9 0.7 56.5M379.3 89.2l1.1 5.5 0.6 14.2 0.7 35.9 0.7 56.5M379.3 89.2l1.1 5.5 0.6 14.2 0.7 35.9 0.7 56.5M379.2 89.2l1.0 5.5 0.6 14.2 0.7 35.9 0.7 56.5M379.2 89.2l1.0 5.5 0.6 14.2 0.7 35.9 0.7 56.5M379.2 89.2l1.0 5.5 0.6 14.2 0.7 35.9 0.7 56.5M379.1 89.2l1.0 5.5 0.6 14.2 0.7 35.9 0.7 56.5M379.1 89.2l1.0 5.5 0.6 14.2 0.7 35.9 0.7 56.5M379.1 89.2l1.0 5.5 0.6 14.2 0.7 35.9 0.7 56.5M379.0 89.2l1.0 5.5 0.6 14.2 0.7 35.9 0.7 56.5M379.0 89.2l1.0 5.5 0.6 14.2 0.7 35.9 0.7 56.5M379.0 89.2l1.0 5.5 0.6 14.2 0.7 35.9 0.7 56.5M378.9 89.2l1.0 5.5 0.6 14.2 0.7 35.9 0.7 56.5M378.9 89.2l1.0 5.5 0.6 14.2 0.7 35.9 0.7 56.5M378.9 89.2l1.0 5.5 0.6 14.2 0.7 35.9 0.7 56.5M378.9 89.2l1.0 5.5 0.6 14.2 0.7 35.9 0.7 56.5M378.8 89.2l1.0 5.5 0.6 14.2 0.7 35.9 0.7 56.5M378.8 89.2l1.0 5.5 0.6 14.2 0.7 35.9 0.7 56.5M378.8 89.2l1.0 5.5 0.6 14.2 0.7 35.9 0.7 56.5M378.7 89.2l1.0 5.5 0.6 14.2 0.7 35.9 0.7 56.5M378.7 89.2l1.0 5.5 0.6 14.2 0.7 35.9 0.7 56.5M378.7 89.2l1.0 5.5 0.6 14.2 0.7 35.9 0.7 56.5M378.7 89.2l1.0 5.5 0.6 14.2 0.7 35.9 0.7 56.5M378.6 89.2l1.0 5.5 0.5 14.2 0.7 35.9 0.7 56.5M378.6 89.2l1.0 5.5 0.5 14.2 0.7 35.9 0.7 56.5M378.6 89.2l1.0 5.5 0.5 14.2 0.6 35.9 0.6 56.5M378.6 89.2l1.0 5.5 0.5 14.2 0.6 35.9 0.6 56.5M378.5 89.2l1.0 5.5 0.5 14.2 0.6 35.9 0.6 56.5M378.5 89.2l0.9 5.5 0.5 14.2 0.6 35.9 0.6 56.5M378.5 89.2l0.9 5.5 0.5 14.2 0.6 35.9 0.6 56.5M378.5 89.2l0.9 5.5 0.5 14.2 0.6 35.9 0.6 56.5M378.4 89.2l0.9 5.5 0.5 14.2 0.6 35.9 0.6 56.5M378.4 89.2l0.9 5.5 0.5 14.2 0.6 35.9 0.6 56.5M378.4 89.2l0.9 5.5 0.5 14.2 0.6 35.9 0.6 56.5M378.4 89.2l0.9 5.5 0.5 14.2 0.6 35.9 0.6 56.5M378.3 89.2l0.9 5.5 0.5 14.2 0.6 35.9 0.6 56.5M378.3 89.2l0.9 5.5 0.5 14.2 0.6 35.9 0.6 56.5M378.3 89.2l0.9 5.5 0.5 14.2 0.6 35.9 0.6 56.5M378.3 89.2l0.9 5.5 0.5 14.2 0.6 35.9 0.6 56.5M378.2 89.2l0.9 5.5 0.5 14.2 0.6 35.9 0.6 56.5M378.2 89.2l0.9 5.5 0.5 14.2 0.6 35.9 0.6 56.5M378.2 89.2l0.9 5.5 0.5 14.2 0.6 35.9 0.6 56.5M378.2 89.2l0.9 5.5 0.5 14.2 0.6 35.9 0.6 56.5M378.1 89.2l0.9 5.5 0.5 14.2 0.6 35.9 0.6 56.5M378.1 89.2l0.9 5.5 0.5 14.2 0.6 35.9 0.6 56.5M378.1 89.2l0.9 5.5 0.5 14.2 0.6 35.9 0.6 56.5M378.1 89.2l0.9 5.5 0.5 14.2 0.6 35.9 0.6 56.5M378.1 89.2l0.9 5.5 0.5 14.2 0.6 35.9 0.6 56.5M378.0 89.2l0.9 5.5 0.5 14.2 0.6 35.9 0.6 56.5M378.0 89.2l0.9 5.5 0.5 14.2 0.6 35.9 0.6 56.5M378.0 89.2l0.9 5.5 0.5 14.2 0.6 35.9 0.6 56.5M378.0 89.2l0.9 5.5 0.5 14.2 0.6 35.9 0.6 56.5M377.9 89.2l0.9 5.5 0.5 14.2 0.6 35.9 0.6 56.5M377.9 89.2l0.9 5.5 0.5 14.2 0.6 35.9 0.6 56.5M377.9 89.2l0.9 5.5 0.5 14.2 0.6 35.9 0.6 56.5M377.9 89.2l0.9 5.5 0.5 14.2 0.6 35.9 0.6 56.5M377.9 89.2l0.9 5.5 0.5 14.2 0.6 35.9 0.6 56.5M377.8 89.2l0.9 5.5 0.5 14.2 0.6 35.9 0.6 56.5M377.8 89.2l0.9 5.5 0.5 14.2 0.6 35.9 0.6 56.5M377.8 89.2l0.9 5.5 0.5 14.2 0.6 35.9 0.6 56.5M377.8 89.2l0.8 5.5 0.5 14.2 0.6 35.9 0.6 56.5M377.8 89.4l0.8 5.7 0.5 14.9 0.5 34.9 0.6 56.5M377.8 89.5l0.8 5.5 0.5 14.9 0.5 34.9 0.6 56.5M377.8 89.6l0.8 5.4 0.5 14.9 0.5 34.9 0.6 56.5M377.8 89.8l0.8 5.2 0.5 14.9 0.5 34.9 0.6 56.5M377.8 89.9l0.6 3.5 0.2 2.0 0.5 15.6 0.5 35.6 0.5 54.6M377.8 89.9l0.6 3.5 0.2 2.0 0.5 15.6 0.5 35.6 0.5 54.6M377.8 90.1l0.6 3.4 0.2 2.0 0.5 15.6 0.5 35.6 0.5 54.6" fill="none" stroke="#ff00ff" stroke-width="0.75"/>
</g>
<rect x="371.6" y="4.4" width="308.0" height="189.9" fill="none" stroke="#9a9a9a" stroke-width="1"/>
<path d="M371.6 194.3v-3M371.6 4.4v3M387.0 194.3v-1.6M387.0 4.4v1.6M402.4 194.3v-1.6M402.4 4.4v1.6M417.8 194.3v-1.6M417.8 4.4v1.6M433.2 194.3v-3M433.2 4.4v3M448.6 194.3v-1.6M448.6 4.4v1.6M464.0 194.3v-1.6M464.0 4.4v1.6M479.4 194.3v-1.6M479.4 4.4v1.6M494.8 194.3v-3M494.8 4.4v3M510.2 194.3v-1.6M510.2 4.4v1.6M525.6 194.3v-1.6M525.6 4.4v1.6M541.0 194.3v-1.6M541.0 4.4v1.6M556.4 194.3v-3M556.4 4.4v3M571.8 194.3v-1.6M571.8 4.4v1.6M587.2 194.3v-1.6M587.2 4.4v1.6M602.6 194.3v-1.6M602.6 4.4v1.6M618.0 194.3v-3M618.0 4.4v3M633.4 194.3v-1.6M633.4 4.4v1.6M648.8 194.3v-1.6M648.8 4.4v1.6M664.2 194.3v-1.6M664.2 4.4v1.6M679.6 194.3v-3M679.6 4.4v3M371.6 194.3h3M679.6 194.3h-3M371.6 188.0h1.6M679.6 188.0h-1.6M371.6 181.6h1.6M679.6 181.6h-1.6M371.6 175.3h1.6M679.6 175.3h-1.6M371.6 169.0h1.6M679.6 169.0h-1.6M371.6 162.7h3M679.6 162.7h-3M371.6 156.3h1.6M679.6 156.3h-1.6M371.6 150.0h1.6M679.6 150.0h-1.6M371.6 143.7h1.6M679.6 143.7h-1.6M371.6 137.3h1.6M679.6 137.3h-1.6M371.6 131.0h3M679.6 131.0h-3M371.6 124.7h1.6M679.6 124.7h-1.6M371.6 118.3h1.6M679.6 118.3h-1.6M371.6 112.0h1.6M679.6 112.0h-1.6M371.6 105.7h1.6M679.6 105.7h-1.6M371.6 99.4h3M679.6 99.4h-3M371.6 93.0h1.6M679.6 93.0h-1.6M371.6 86.7h1.6M679.6 86.7h-1.6M371.6 80.4h1.6M679.6 80.4h-1.6M371.6 74.0h1.6M679.6 74.0h-1.6M371.6 67.7h3M679.6 67.7h-3M371.6 61.4h1.6M679.6 61.4h-1.6M371.6 55.0h1.6M679.6 55.0h-1.6M371.6 48.7h1.6M679.6 48.7h-1.6M371.6 42.4h1.6M679.6 42.4h-1.6M371.6 36.0h3M679.6 36.0h-3M371.6 29.7h1.6M679.6 29.7h-1.6M371.6 23.4h1.6M679.6 23.4h-1.6M371.6 17.1h1.6M679.6 17.1h-1.6M371.6 10.7h1.6M679.6 10.7h-1.6M371.6 4.4h3M679.6 4.4h-3" stroke="#555" stroke-width="0.7" fill="none"/>
<text x="371.6" y="207.6" text-anchor="middle" class="tk">0</text>
<text x="433.2" y="207.6" text-anchor="middle" class="tk">2</text>
<text x="494.8" y="207.6" text-anchor="middle" class="tk">4</text>
<text x="556.4" y="207.6" text-anchor="middle" class="tk">6</text>
<text x="618.0" y="207.6" text-anchor="middle" class="tk">8</text>
<text x="679.6" y="207.6" text-anchor="middle" class="tk">10</text>
<text x="368.8" y="198.3" text-anchor="end" class="tk">−10</text>
<text x="368.8" y="166.7" text-anchor="end" class="tk">−5</text>
<text x="368.8" y="135.0" text-anchor="end" class="tk">0</text>
<text x="368.8" y="103.4" text-anchor="end" class="tk">5</text>
<text x="368.8" y="71.7" text-anchor="end" class="tk">10</text>
<text x="368.8" y="40.0" text-anchor="end" class="tk">15</text>
<text x="368.8" y="8.4" text-anchor="end" class="tk">20</text>
<rect x="534.3" y="175.9" width="122.90000000000009" height="15.4" rx="3" fill="#fff" stroke="#d0d0d0" stroke-width="0.8"/>
<text x="535.5" y="188.7" class="lg" textLength="114.4" lengthAdjust="spacingAndGlyphs"><tspan font-style="italic" font-weight="bold">Δ</tspan>=5 meV, <tspan font-style="italic">K</tspan> valley</text>
<text x="502.7" y="221.4" class="ax" textLength="48.6" lengthAdjust="spacingAndGlyphs"><tspan font-style="italic">B</tspan><tspan font-style="italic" font-size="13" dy="3.8">z</tspan><tspan dy="-3.8">(T)</tspan></text>
<filter id="blL" x="-30%" y="-30%" width="160%" height="160%"><feGaussianBlur stdDeviation="5"/></filter>
<filter id="bsL" x="-50%" y="-50%" width="200%" height="200%"><feGaussianBlur stdDeviation="2.2"/></filter>
<filter id="bmL" x="-50%" y="-50%" width="200%" height="200%"><feGaussianBlur stdDeviation="3.2"/></filter>
<path d="M107.5 266.3C114.7 261.8 128.9 266.9 141.0 271.2C153.1 275.5 167.0 284.2 180.0 292.0C193.0 299.8 208.8 309.2 218.9 317.7C229.0 326.2 240.2 334.7 240.5 343.2C240.8 351.7 230.6 360.1 220.5 368.7C210.4 377.2 193.2 386.8 180.0 394.5C166.8 402.2 153.2 410.8 141.0 415.1C128.8 419.4 113.9 424.9 106.5 420.5C99.1 416.1 98.8 401.5 96.5 388.6C94.2 375.8 92.8 358.4 93.0 343.4C93.2 328.4 95.5 311.2 97.9 298.4C100.3 285.5 100.3 270.8 107.5 266.3Z" fill="none" stroke="#000" stroke-opacity="0.2" stroke-width="17" stroke-linejoin="round" filter="url(#blL)"/>
<path d="M107.5 266.3C114.7 261.8 128.9 266.9 141.0 271.2C153.1 275.5 167.0 284.2 180.0 292.0C193.0 299.8 208.8 309.2 218.9 317.7C229.0 326.2 240.2 334.7 240.5 343.2C240.8 351.7 230.6 360.1 220.5 368.7C210.4 377.2 193.2 386.8 180.0 394.5C166.8 402.2 153.2 410.8 141.0 415.1C128.8 419.4 113.9 424.9 106.5 420.5C99.1 416.1 98.8 401.5 96.5 388.6C94.2 375.8 92.8 358.4 93.0 343.4C93.2 328.4 95.5 311.2 97.9 298.4C100.3 285.5 100.3 270.8 107.5 266.3Z" fill="none" stroke="#000" stroke-opacity="0.06" stroke-width="5" filter="url(#bsL)"/>
<path d="M97.9 298.4Q104.3 277.0 107.5 266.3Q118.7 267.9 141.0 271.2" fill="none" stroke="#000" stroke-opacity="0.42" stroke-width="9" stroke-linecap="round" stroke-linejoin="round" filter="url(#bmL)"/>
<ellipse cx="110.0" cy="270.7" rx="14" ry="10" transform="rotate(-30.0 110.0 270.7)" fill="#000" fill-opacity="0.36" filter="url(#blL)"/>
<ellipse cx="107.5" cy="266.3" rx="8" ry="3.4" transform="rotate(-30.0 107.5 266.3)" fill="#000" filter="url(#bsL)"/>
<path d="M218.9 317.7Q233.3 334.7 240.5 343.2Q233.8 351.7 220.5 368.7" fill="none" stroke="#000" stroke-opacity="0.42" stroke-width="9" stroke-linecap="round" stroke-linejoin="round" filter="url(#bmL)"/>
<ellipse cx="235.5" cy="343.2" rx="17" ry="10" transform="rotate(90.0 235.5 343.2)" fill="#000" fill-opacity="0.36" filter="url(#blL)"/>
<ellipse cx="240.5" cy="343.2" rx="11" ry="3.4" transform="rotate(90.0 240.5 343.2)" fill="#000" filter="url(#bsL)"/>
<path d="M141.0 415.1Q118.0 418.7 106.5 420.5Q103.2 409.9 96.5 388.6" fill="none" stroke="#000" stroke-opacity="0.42" stroke-width="9" stroke-linecap="round" stroke-linejoin="round" filter="url(#bmL)"/>
<ellipse cx="109.0" cy="416.2" rx="14" ry="10" transform="rotate(30.0 109.0 416.2)" fill="#000" fill-opacity="0.36" filter="url(#blL)"/>
<ellipse cx="106.5" cy="420.5" rx="8" ry="3.4" transform="rotate(30.0 106.5 420.5)" fill="#000" filter="url(#bsL)"/>
<path d="M53.7 244.4l4.7 -4.0M53.9 249.9l4.4 -4.3M54.0 255.4l4.1 -4.6M54.2 260.8l3.8 -4.9M54.3 266.3l3.6 -5.1M54.5 271.7l3.3 -5.3M54.6 277.1l3.0 -5.4M54.7 282.5l2.8 -5.5M54.8 287.9l2.6 -5.6M54.9 293.2l2.4 -5.7M55.0 298.6l2.2 -5.8M55.1 304.0l2.0 -5.9M55.2 309.3l1.8 -5.9M55.3 314.7l1.6 -6.0M55.4 320.0l1.4 -6.0M55.5 325.4l1.2 -6.1M55.6 330.7l0.9 -6.1M55.8 336.1l0.7 -6.2M55.9 341.4l0.3 -6.2M56.1 346.8l-0.0 -6.2M56.3 352.1l-0.4 -6.2M56.4 357.4l-0.7 -6.2M56.6 362.7l-1.0 -6.1M56.7 368.0l-1.2 -6.1M56.8 373.3l-1.5 -6.0M56.9 378.6l-1.7 -6.0M57.0 383.9l-1.9 -5.9M57.1 389.2l-2.0 -5.9M57.2 394.5l-2.2 -5.8M57.3 399.8l-2.4 -5.7M57.4 405.1l-2.6 -5.6M57.5 410.4l-2.8 -5.5M57.6 415.7l-3.1 -5.4M57.8 420.9l-3.3 -5.2M57.9 426.1l-3.6 -5.1M58.0 431.4l-3.9 -4.8M58.2 436.6l-4.2 -4.6M58.3 441.8l-4.5 -4.3M58.5 446.9l-4.7 -4.0M58.6 452.1l-5.0 -3.7M59.0 244.2l4.9 -3.7M59.1 249.7l4.6 -4.0M59.2 255.2l4.4 -4.3M59.4 260.7l4.1 -4.6M59.5 266.1l3.8 -4.8M59.6 271.5l3.6 -5.0M59.8 276.9l3.3 -5.1M59.9 282.3l3.1 -5.3M60.0 287.7l2.9 -5.4M60.1 293.1l2.7 -5.5M60.1 298.5l2.6 -5.6M60.2 303.9l2.4 -5.6M60.3 309.2l2.2 -5.7M60.4 314.6l2.0 -5.8M60.6 320.0l1.7 -5.9M60.7 325.3l1.4 -6.0M60.9 330.7l1.1 -6.0M61.1 336.1l0.7 -6.1M61.3 341.4l0.3 -6.1M61.4 346.7l-0.0 -6.1M61.6 352.1l-0.4 -6.1M61.8 357.4l-0.7 -6.1M62.0 362.7l-1.1 -6.0M62.1 368.0l-1.4 -6.0M62.3 373.3l-1.8 -5.9M62.5 378.5l-2.1 -5.8M62.6 383.8l-2.2 -5.7M62.6 389.1l-2.4 -5.6M62.7 394.4l-2.6 -5.6M62.8 399.7l-2.8 -5.5M62.9 405.0l-2.9 -5.4M63.0 410.3l-3.2 -5.3M63.1 415.5l-3.4 -5.1M63.2 420.8l-3.6 -5.0M63.4 426.0l-3.9 -4.8M63.5 431.2l-4.1 -4.5M63.6 436.4l-4.4 -4.3M63.8 441.6l-4.7 -4.0M63.9 446.8l-4.9 -3.6M64.0 451.9l-5.2 -3.3M64.2 244.1l5.1 -3.3M64.3 249.6l4.8 -3.7M64.5 255.0l4.6 -4.0M64.6 260.5l4.3 -4.3M64.7 266.0l4.1 -4.5M64.8 271.4l3.8 -4.7M65.0 276.8l3.6 -4.9M65.1 282.2l3.4 -5.0M65.1 287.6l3.2 -5.1M65.2 293.0l3.1 -5.2M65.3 298.4l2.9 -5.3M65.4 303.7l2.7 -5.4M65.5 309.1l2.4 -5.6M65.7 314.5l2.1 -5.7M65.9 319.9l1.8 -5.8M66.0 325.3l1.5 -5.9M66.2 330.7l1.1 -6.0M66.4 336.0l0.7 -6.0M66.6 341.4l0.4 -6.1M66.8 346.7l-0.0 -6.1M67.0 352.0l-0.4 -6.1M67.2 357.3l-0.8 -6.0M67.3 362.6l-1.1 -6.0M67.5 367.9l-1.5 -5.9M67.7 373.2l-1.8 -5.8M67.8 378.5l-2.2 -5.7M68.0 383.8l-2.5 -5.5M68.1 389.0l-2.8 -5.4M68.2 394.3l-2.9 -5.3M68.3 399.6l-3.1 -5.2M68.4 404.9l-3.2 -5.1M68.5 410.1l-3.4 -5.0M68.6 415.4l-3.6 -4.9M68.7 420.6l-3.9 -4.7M68.8 425.9l-4.1 -4.5M68.9 431.1l-4.4 -4.2M69.1 436.3l-4.6 -3.9M69.2 441.4l-4.9 -3.6M69.3 446.6l-5.1 -3.3M69.4 451.7l-5.3 -3.0M69.5 243.9l5.2 -3.0M69.6 249.4l5.0 -3.4M69.7 254.9l4.7 -3.7M69.8 260.4l4.5 -4.0M70.0 265.8l4.3 -4.2M70.1 271.3l4.1 -4.4M70.2 276.7l3.8 -4.6M70.3 282.1l3.7 -4.8M70.3 287.5l3.5 -4.9M70.4 292.9l3.3 -5.0M70.5 298.3l3.1 -5.1M70.7 303.7l2.8 -5.3M70.8 309.1l2.5 -5.4M71.0 314.5l2.2 -5.6M71.1 319.9l1.9 -5.7M71.3 325.2l1.5 -5.8M71.5 330.6l1.2 -5.9M71.7 336.0l0.8 -5.9M71.9 341.3l0.4 -6.0M72.1 346.7l-0.0 -6.0M72.3 352.0l-0.4 -6.0M72.5 357.3l-0.8 -5.9M72.7 362.6l-1.2 -5.9M72.9 367.9l-1.6 -5.8M73.1 373.2l-1.9 -5.7M73.2 378.4l-2.3 -5.6M73.4 383.7l-2.6 -5.4M73.5 388.9l-2.9 -5.3M73.7 394.2l-3.1 -5.1M73.8 399.5l-3.4 -5.0M73.8 404.7l-3.5 -4.9M73.9 410.0l-3.7 -4.7M74.0 415.3l-3.9 -4.6M74.1 420.5l-4.1 -4.4M74.2 425.7l-4.3 -4.2M74.4 430.9l-4.5 -3.9M74.5 436.1l-4.8 -3.6M74.6 441.3l-5.0 -3.3M74.7 446.4l-5.2 -3.0M74.8 451.6l-5.4 -2.6M74.8 243.8l5.3 -2.7M74.9 249.3l5.1 -3.1M75.0 254.8l4.9 -3.4M75.1 260.2l4.7 -3.7M75.2 265.7l4.4 -3.9M75.3 271.1l4.2 -4.2M75.4 276.6l4.0 -4.4M75.5 282.0l3.9 -4.5M75.6 287.4l3.7 -4.6M75.7 292.8l3.5 -4.8M75.8 298.2l3.2 -5.0M75.9 303.6l3.0 -5.1M76.1 309.0l2.7 -5.3M76.2 314.4l2.3 -5.4M76.4 319.8l2.0 -5.6M76.6 325.2l1.6 -5.7M76.8 330.6l1.2 -5.8M77.0 335.9l0.8 -5.9M77.2 341.3l0.4 -5.9M77.4 346.6l-0.0 -5.9M77.6 352.0l-0.5 -5.9M77.9 357.3l-0.9 -5.9M78.1 362.6l-1.3 -5.8M78.3 367.8l-1.7 -5.7M78.4 373.1l-2.0 -5.6M78.6 378.4l-2.4 -5.4M78.8 383.6l-2.7 -5.3M78.9 388.9l-3.0 -5.1M79.0 394.1l-3.3 -5.0M79.2 399.4l-3.5 -4.8M79.3 404.6l-3.7 -4.6M79.4 409.9l-3.9 -4.5M79.4 415.1l-4.0 -4.3M79.5 420.4l-4.2 -4.1M79.6 425.6l-4.5 -3.9M79.8 430.8l-4.7 -3.7M79.9 436.0l-4.9 -3.4M80.0 441.1l-5.1 -3.0M80.1 446.3l-5.3 -2.7M80.1 451.5l-5.4 -2.4M80.1 243.6l5.3 -2.5M80.2 249.1l5.2 -2.8M80.3 254.6l5.0 -3.1M80.4 260.1l4.8 -3.4M80.5 265.6l4.6 -3.7M80.6 271.0l4.4 -3.9M80.7 276.4l4.2 -4.1M80.7 281.9l4.0 -4.3M80.8 287.3l3.8 -4.5M81.0 292.7l3.6 -4.6M81.1 298.1l3.4 -4.8M81.2 303.5l3.1 -5.0M81.4 308.9l2.8 -5.2M81.5 314.4l2.5 -5.3M81.7 319.8l2.1 -5.5M81.9 325.2l1.7 -5.6M82.1 330.5l1.3 -5.7M82.3 335.9l0.9 -5.8M82.5 341.3l0.4 -5.9M82.8 346.6l-0.0 -5.9M83.0 351.9l-0.5 -5.8M83.2 357.2l-0.9 -5.8M83.4 362.5l-1.4 -5.7M83.6 367.8l-1.8 -5.6M83.8 373.0l-2.2 -5.5M84.0 378.3l-2.5 -5.3M84.2 383.5l-2.8 -5.1M84.3 388.8l-3.1 -5.0M84.4 394.0l-3.4 -4.8M84.6 399.3l-3.6 -4.6M84.7 404.5l-3.8 -4.4M84.8 409.8l-4.0 -4.3M84.8 415.0l-4.2 -4.1M84.9 420.2l-4.4 -3.9M85.0 425.5l-4.6 -3.7M85.1 430.6l-4.8 -3.4M85.2 435.8l-5.0 -3.1M85.3 441.0l-5.2 -2.8M85.4 446.2l-5.3 -2.4M85.5 451.3l-5.5 -2.1M85.4 243.5l5.4 -2.2M85.5 249.0l5.2 -2.6M85.6 254.5l5.0 -2.9M85.7 260.0l4.8 -3.2M85.8 265.5l4.6 -3.5M85.9 270.9l4.5 -3.7M85.9 276.3l4.3 -3.9M86.0 281.7l4.1 -4.1M86.1 287.2l3.9 -4.3M86.2 292.6l3.7 -4.4M86.3 298.0l3.5 -4.6M86.5 303.4l3.2 -4.8M86.6 308.9l2.9 -5.0M86.8 314.3l2.6 -5.2M87.0 319.7l2.2 -5.3M87.2 325.1l1.8 -5.5M87.4 330.5l1.4 -5.6M87.6 335.9l0.9 -5.7M87.8 341.2l0.5 -5.8M88.1 346.6l-0.0 -5.8M88.3 351.9l-0.5 -5.8M88.6 357.2l-1.0 -5.7M88.8 362.5l-1.5 -5.6M89.0 367.7l-1.9 -5.5M89.2 373.0l-2.3 -5.3M89.4 378.2l-2.6 -5.2M89.6 383.5l-3.0 -5.0M89.7 388.7l-3.3 -4.8M89.8 393.9l-3.5 -4.6M90.0 399.2l-3.8 -4.4M90.1 404.4l-4.0 -4.2M90.2 409.7l-4.1 -4.1M90.2 414.9l-4.3 -3.9M90.3 420.1l-4.5 -3.7M90.4 425.3l-4.7 -3.4M90.5 430.5l-4.9 -3.2M90.6 435.7l-5.0 -2.9M90.7 440.9l-5.2 -2.5M90.8 446.0l-5.4 -2.2M90.8 451.2l-5.5 -1.9M90.7 243.4l5.4 -2.0M90.8 248.9l5.2 -2.3M90.9 254.4l5.1 -2.7M91.0 259.9l4.9 -3.0M91.1 265.4l4.7 -3.3M91.1 270.8l4.5 -3.5M91.2 276.2l4.4 -3.7M91.3 281.6l4.3 -3.8M91.4 287.1l4.1 -4.0M91.5 292.5l3.9 -4.2M91.6 297.9l3.7 -4.4M91.7 303.3l3.4 -4.6M91.9 308.8l3.1 -4.8M92.0 314.2l2.8 -5.0M92.2 319.6l2.4 -5.2M92.4 325.0l2.0 -5.4M92.7 330.4l1.5 -5.5M92.9 335.8l1.0 -5.6M93.2 341.2l0.5 -5.7M93.4 346.5l-0.0 -5.7M93.7 351.9l-0.6 -5.7M93.9 357.1l-1.1 -5.6M94.2 362.4l-1.6 -5.5M94.4 367.7l-2.0 -5.4M94.6 372.9l-2.4 -5.2M94.8 378.2l-2.8 -5.0M95.0 383.4l-3.1 -4.8M95.1 388.6l-3.4 -4.6M95.3 393.8l-3.7 -4.4M95.4 399.1l-3.9 -4.2M95.5 404.3l-4.1 -4.0M95.5 409.5l-4.3 -3.8M95.6 414.8l-4.4 -3.7M95.7 420.0l-4.5 -3.5M95.8 425.2l-4.7 -3.2M95.9 430.4l-4.9 -3.0M96.0 435.6l-5.1 -2.6M96.0 440.8l-5.3 -2.3M96.1 445.9l-5.4 -2.0M96.2 451.1l-5.5 -1.7M96.1 243.3l5.4 -1.8M96.1 248.8l5.3 -2.1M96.2 254.3l5.1 -2.5M96.3 259.8l4.9 -2.8M96.4 265.3l4.7 -3.1M96.4 270.7l4.6 -3.3M96.5 276.1l4.5 -3.4M96.5 281.5l4.4 -3.6M96.6 286.9l4.2 -3.8M96.7 292.4l4.0 -4.0M96.8 297.8l3.8 -4.2M97.0 303.2l3.6 -4.4M97.1 308.7l3.3 -4.6M97.3 314.1l2.9 -4.8M97.5 319.5l2.6 -5.1M97.7 325.0l2.1 -5.3M97.9 330.4l1.6 -5.4M98.2 335.8l1.1 -5.6M98.5 341.2l0.5 -5.6M98.8 346.5l-0.0 -5.7M99.0 351.8l-0.6 -5.6M99.3 357.1l-1.2 -5.5M99.6 362.4l-1.7 -5.4M99.8 367.6l-2.2 -5.2M100.0 372.8l-2.6 -5.0M100.2 378.1l-3.0 -4.8M100.4 383.3l-3.3 -4.6M100.5 388.5l-3.6 -4.4M100.7 393.7l-3.8 -4.2M100.8 398.9l-4.1 -4.0M100.9 404.2l-4.2 -3.8M100.9 409.4l-4.4 -3.6M101.0 414.7l-4.5 -3.4M101.1 419.9l-4.6 -3.2M101.1 425.2l-4.8 -3.1M101.2 430.3l-5.0 -2.8M101.3 435.5l-5.1 -2.4M101.4 440.7l-5.3 -2.1M101.4 445.8l-5.4 -1.8M101.5 451.0l-5.5 -1.5M101.4 243.2l5.4 -1.6M101.4 248.7l5.3 -1.9M101.5 254.2l5.1 -2.3M101.6 259.7l5.0 -2.6M101.7 265.1l4.8 -2.8M101.7 270.5l4.7 -3.0M101.8 276.0l4.6 -3.1M101.8 281.4l4.5 -3.3M101.9 286.8l4.4 -3.5M102.0 292.2l4.2 -3.7M102.1 297.7l4.0 -3.9M102.2 303.1l3.8 -4.2M102.3 308.6l3.5 -4.4M102.5 314.0l3.1 -4.6M102.7 319.5l2.7 -4.9M102.9 324.9l2.3 -5.1M103.2 330.3l1.8 -5.3M103.5 335.7l1.2 -5.5M103.8 341.1l0.6 -5.6M104.1 346.5l-0.0 -5.6M104.4 351.8l-0.7 -5.6M104.7 357.1l-1.3 -5.5M105.0 362.3l-1.8 -5.3M105.2 367.5l-2.3 -5.1M105.5 372.7l-2.8 -4.9M105.7 378.0l-3.2 -4.6M105.8 383.2l-3.5 -4.4M106.0 388.4l-3.8 -4.1M106.1 393.6l-4.0 -3.9M106.2 398.8l-4.2 -3.7M106.3 404.0l-4.4 -3.5M106.3 409.3l-4.5 -3.3M106.4 414.5l-4.6 -3.1M106.4 419.8l-4.7 -3.0M106.5 425.0l-4.8 -2.8M106.6 430.2l-5.0 -2.6M106.6 435.4l-5.1 -2.2M106.7 440.6l-5.3 -1.9M106.8 445.7l-5.4 -1.6M106.8 450.9l-5.5 -1.3M106.7 243.1l5.4 -1.4M106.8 248.6l5.3 -1.7M106.8 254.1l5.1 -2.1M106.9 259.6l5.0 -2.4M106.9 265.0l4.9 -2.6M107.0 270.4l4.8 -2.7M107.0 275.8l4.7 -2.9M107.1 281.2l4.6 -3.0M107.1 286.6l4.5 -3.2M107.2 292.1l4.4 -3.4M107.3 297.5l4.2 -3.6M107.4 303.0l3.9 -3.9M107.6 308.4l3.7 -4.1M107.7 313.9l3.4 -4.4M107.9 319.4l3.0 -4.7M108.2 324.8l2.5 -4.9M108.4 330.3l2.0 -5.2M107.1 333.6l4.6 -1.2M107.0 338.6l4.8 -0.6M107.0 343.7l4.8 0.0M107.0 348.7l4.8 0.7M107.1 353.7l4.6 1.3M110.4 362.2l-2.0 -5.2M110.7 367.4l-2.5 -4.9M110.9 372.6l-3.0 -4.6M111.1 377.8l-3.4 -4.4M111.3 383.0l-3.7 -4.1M111.4 388.2l-4.0 -3.9M111.5 393.4l-4.2 -3.6M111.6 398.7l-4.4 -3.4M111.7 403.9l-4.5 -3.2M111.7 409.1l-4.6 -3.0M111.8 414.4l-4.7 -2.8M111.8 419.6l-4.8 -2.7M111.9 424.9l-4.9 -2.5M111.9 430.2l-5.0 -2.4M112.0 435.3l-5.1 -2.1M112.0 440.5l-5.3 -1.7M112.1 445.6l-5.4 -1.4M112.1 450.8l-5.4 -1.1M112.1 243.0l5.3 -1.2M112.1 248.5l5.2 -1.5M112.2 254.0l5.1 -1.9M112.2 259.5l5.0 -2.1M112.2 264.9l5.0 -2.3M112.3 270.2l4.9 -2.4M112.3 275.7l4.8 -2.5M112.4 281.1l4.8 -2.7M112.4 286.5l4.6 -2.9M112.5 291.9l4.5 -3.1M112.6 297.4l4.4 -3.3M112.7 302.8l4.2 -3.6M112.8 308.3l3.9 -3.8M112.9 313.7l3.6 -4.1M113.1 319.2l3.2 -4.4M112.5 323.4l4.4 -2.0M112.5 328.5l4.5 -1.6M112.4 333.5l4.7 -1.1M112.3 338.6l4.8 -0.5M112.3 343.7l4.8 0.0M112.3 348.7l4.8 0.6M112.4 353.8l4.7 1.1M112.5 358.9l4.5 1.6M112.6 364.0l4.3 2.0M116.4 372.5l-3.3 -4.4M116.5 377.7l-3.6 -4.1M116.7 382.9l-3.9 -3.8M116.8 388.1l-4.2 -3.5M116.9 393.3l-4.4 -3.3M117.0 398.5l-4.5 -3.1M117.1 403.7l-4.7 -2.9M117.1 409.0l-4.8 -2.7M117.2 414.2l-4.8 -2.5M117.2 419.5l-4.9 -2.4M117.2 424.7l-5.0 -2.3M117.2 430.0l-5.0 -2.1M117.3 435.2l-5.1 -1.9M117.4 440.4l-5.3 -1.5M117.4 445.5l-5.3 -1.2M117.4 450.7l-5.4 -0.9M117.4 242.9l5.3 -1.0M117.4 248.4l5.2 -1.4M117.5 253.9l5.1 -1.7M117.5 259.3l5.1 -1.8M117.5 264.7l5.0 -2.0M117.6 270.1l5.0 -2.1M117.6 275.5l4.9 -2.2M117.6 280.9l4.9 -2.4M117.7 286.3l4.8 -2.5M117.7 291.7l4.7 -2.7M117.8 297.2l4.5 -2.9M117.9 302.6l4.4 -3.2M118.0 308.1l4.1 -3.5M118.0 313.0l4.1 -2.5M117.9 318.1l4.3 -2.2M117.8 323.3l4.4 -1.8M117.8 328.4l4.6 -1.4M117.7 333.5l4.7 -1.0M117.7 338.6l4.8 -0.5M117.7 343.7l4.8 0.0M117.7 348.7l4.8 0.5M117.7 353.8l4.7 1.0M117.8 358.9l4.6 1.5M117.8 364.1l4.4 1.9M117.9 369.2l4.2 2.2M118.0 374.4l4.1 2.6M122.1 382.7l-4.2 -3.4M122.3 387.9l-4.4 -3.2M122.3 393.1l-4.5 -2.9M122.4 398.3l-4.7 -2.7M122.5 403.6l-4.8 -2.5M122.5 408.8l-4.9 -2.3M122.5 414.1l-4.9 -2.2M122.6 419.3l-5.0 -2.1M122.6 424.6l-5.0 -1.9M122.6 429.9l-5.1 -1.8M122.6 435.1l-5.1 -1.7M122.7 440.3l-5.2 -1.3M122.7 445.4l-5.3 -1.0M122.7 450.6l-5.3 -0.8M122.8 242.8l5.3 -0.9M122.8 248.3l5.2 -1.2M122.8 253.8l5.1 -1.5M122.8 259.2l5.1 -1.5M122.9 264.5l5.1 -1.6M122.9 269.9l5.0 -1.7M122.9 275.3l5.0 -1.9M122.9 280.7l4.9 -2.0M122.9 286.1l4.9 -2.1M123.0 291.5l4.8 -2.3M123.0 297.0l4.7 -2.5M123.1 302.4l4.6 -2.8M123.4 307.7l4.0 -2.6M123.3 312.9l4.2 -2.4M123.2 318.0l4.3 -2.0M123.1 323.2l4.5 -1.7M123.1 328.3l4.6 -1.3M123.0 333.4l4.7 -0.9M123.0 338.6l4.8 -0.4M123.0 343.7l4.8 0.0M123.0 348.8l4.8 0.5M123.0 353.9l4.7 0.9M123.1 359.0l4.6 1.3M123.1 364.1l4.5 1.7M123.2 369.3l4.3 2.1M123.3 374.5l4.2 2.4M127.6 382.5l-4.4 -3.0M127.7 387.7l-4.6 -2.7M127.7 392.9l-4.7 -2.5M127.8 398.1l-4.8 -2.3M127.8 403.4l-4.9 -2.1M127.9 408.6l-5.0 -2.0M127.9 413.9l-5.0 -1.8M127.9 419.2l-5.0 -1.7M127.9 424.4l-5.1 -1.6M127.9 429.7l-5.1 -1.5M128.0 435.0l-5.1 -1.4M128.0 440.2l-5.2 -1.1M128.0 445.4l-5.3 -0.8M128.0 450.6l-5.3 -0.6M128.1 242.7l5.2 -0.7M128.1 248.2l5.2 -0.9M128.2 253.6l5.1 -1.2M128.2 259.0l5.1 -1.2M128.2 264.4l5.1 -1.3M128.2 269.7l5.1 -1.4M128.2 275.1l5.1 -1.5M128.2 280.5l5.0 -1.6M128.2 285.9l5.0 -1.7M128.3 291.3l4.9 -1.9M128.3 296.7l4.8 -2.1M128.3 302.2l4.8 -2.3M128.7 307.6l4.0 -2.4M128.7 312.7l4.1 -2.1M128.6 317.9l4.3 -1.8M128.5 323.1l4.4 -1.5M128.5 328.3l4.5 -1.1M128.4 333.4l4.6 -0.8M128.4 338.5l4.6 -0.4M128.4 343.7l4.6 0.0M128.4 348.8l4.6 0.4M128.4 353.9l4.6 0.8M128.5 359.1l4.5 1.2M128.5 364.2l4.4 1.5M128.6 369.4l4.2 1.9M128.7 374.6l4.1 2.1M128.7 379.8l4.0 2.4M133.1 387.4l-4.8 -2.3M133.1 392.7l-4.9 -2.0M133.2 397.9l-4.9 -1.9M133.2 403.2l-5.0 -1.7M133.2 408.4l-5.0 -1.6M133.2 413.7l-5.1 -1.5M133.3 419.0l-5.1 -1.4M133.3 424.3l-5.1 -1.3M133.3 429.6l-5.1 -1.2M133.3 434.9l-5.1 -1.1M133.3 440.1l-5.2 -0.9M133.3 445.3l-5.2 -0.6M133.3 450.5l-5.2 -0.4M133.5 242.6l5.2 -0.5M133.5 248.1l5.2 -0.7M133.5 253.5l5.1 -0.8M133.5 258.8l5.1 -0.9M133.5 264.2l5.1 -1.0M133.5 269.6l5.1 -1.0M133.5 274.9l5.1 -1.1M133.5 280.3l5.1 -1.2M133.5 285.7l5.0 -1.3M133.5 291.1l5.0 -1.4M133.6 296.5l5.0 -1.6M134.3 302.1l3.5 -2.2M134.2 307.4l3.6 -2.0M134.2 312.6l3.7 -1.8M134.1 317.8l3.8 -1.5M134.1 323.0l3.9 -1.2M134.0 328.2l4.0 -0.9M134.0 333.3l4.1 -0.6M134.0 338.5l4.1 -0.3M134.0 343.7l4.1 0.0M134.0 348.8l4.1 0.3M134.0 354.0l4.1 0.7M134.0 359.2l4.0 1.0M134.1 364.4l3.9 1.3M134.1 369.6l3.8 1.5M134.2 374.8l3.7 1.8M134.3 380.0l3.6 2.0M134.3 385.2l3.5 2.2M138.5 392.4l-5.0 -1.5M138.6 397.7l-5.0 -1.4M138.6 402.9l-5.0 -1.3M138.6 408.2l-5.1 -1.2M138.6 413.5l-5.1 -1.1M138.6 418.8l-5.1 -1.0M138.6 424.1l-5.1 -1.0M138.6 429.4l-5.1 -0.9M138.6 434.7l-5.1 -0.8M138.6 440.0l-5.2 -0.7M138.6 445.2l-5.2 -0.5M138.6 450.4l-5.2 -0.3M138.8 242.5l5.1 -0.3M138.8 248.0l5.1 -0.5M138.8 253.3l5.1 -0.5M138.8 258.7l5.1 -0.6M138.8 264.0l5.1 -0.6M138.8 269.4l5.1 -0.7M138.8 274.7l5.1 -0.7M138.8 280.1l5.1 -0.8M138.8 285.5l5.1 -0.8M138.9 290.8l5.1 -0.9M138.9 296.2l5.0 -1.0M139.8 301.9l3.1 -1.8M139.8 307.2l3.2 -1.6M139.7 312.4l3.3 -1.4M139.7 317.6l3.4 -1.2M139.6 322.9l3.5 -1.0M139.6 328.1l3.5 -0.8M139.6 333.3l3.6 -0.5M139.6 338.5l3.6 -0.3M139.6 343.7l3.6 0.0M139.6 348.9l3.6 0.3M139.6 354.1l3.6 0.5M139.6 359.3l3.5 0.8M139.6 364.5l3.5 1.0M139.7 369.7l3.4 1.3M139.7 374.9l3.3 1.5M139.8 380.1l3.2 1.7M139.8 385.4l3.1 1.8M143.9 392.1l-5.0 -1.0M143.9 397.4l-5.1 -0.9M143.9 402.7l-5.1 -0.8M143.9 408.0l-5.1 -0.8M143.9 413.3l-5.1 -0.7M143.9 418.6l-5.1 -0.7M143.9 423.9l-5.1 -0.6M143.9 429.2l-5.1 -0.6M143.9 434.6l-5.1 -0.5M143.9 439.8l-5.1 -0.4M143.9 445.1l-5.1 -0.3M143.9 450.4l-5.1 -0.2M144.2 242.5l5.1 -0.1M144.2 247.8l5.1 -0.2M144.2 253.2l5.1 -0.2M144.2 258.5l5.1 -0.3M144.2 263.9l5.1 -0.3M144.2 269.2l5.1 -0.3M144.2 274.5l5.1 -0.3M144.2 279.9l5.1 -0.3M144.2 285.2l5.1 -0.4M144.2 290.6l5.1 -0.4M144.2 295.9l5.0 -0.5M145.3 301.8l2.7 -1.5M145.3 307.0l2.8 -1.3M145.3 312.3l2.9 -1.2M145.2 317.5l2.9 -1.0M145.2 322.8l3.0 -0.8M145.2 328.0l3.0 -0.6M145.2 333.2l3.1 -0.4M145.2 338.4l3.1 -0.2M145.2 343.7l3.1 0.0M145.2 348.9l3.1 0.2M145.2 354.1l3.1 0.4M145.2 359.3l3.0 0.6M145.2 364.6l3.0 0.8M145.2 369.8l2.9 1.0M145.3 375.1l2.9 1.2M145.3 380.3l2.8 1.3M145.4 385.6l2.7 1.5M149.2 391.9l-5.0 -0.4M149.2 397.2l-5.1 -0.4M149.2 402.5l-5.1 -0.4M149.2 407.8l-5.1 -0.3M149.2 413.1l-5.1 -0.3M149.2 418.4l-5.1 -0.3M149.2 423.8l-5.1 -0.3M149.2 429.1l-5.1 -0.3M149.2 434.4l-5.1 -0.2M149.2 439.7l-5.1 -0.2M149.2 445.0l-5.1 -0.1M149.2 450.3l-5.1 -0.1M149.5 242.4l5.0 0.0M149.5 247.7l5.0 0.1M149.5 253.0l5.0 0.1M149.5 258.4l5.0 0.1M149.5 263.7l5.0 0.1M149.5 269.0l5.0 0.1M149.5 274.3l5.0 0.1M149.5 279.7l5.0 0.1M149.5 285.0l5.0 0.1M149.5 290.3l5.0 0.1M149.5 295.6l5.0 0.1M150.9 301.6l2.3 -1.2M150.9 306.9l2.4 -1.1M150.8 312.2l2.4 -0.9M150.8 317.4l2.5 -0.8M150.8 322.7l2.5 -0.6M150.8 327.9l2.5 -0.5M150.8 333.2l2.6 -0.3M150.7 338.4l2.6 -0.2M150.7 343.7l2.6 0.0M150.7 348.9l2.6 0.2M150.8 354.2l2.6 0.3M150.8 359.4l2.5 0.5M150.8 364.7l2.5 0.7M150.8 369.9l2.5 0.8M150.8 375.2l2.4 0.9M150.9 380.4l2.4 1.1M150.9 385.7l2.3 1.2M154.5 391.6l-5.0 0.1M154.5 396.9l-5.0 0.1M154.5 402.3l-5.0 0.1M154.5 407.6l-5.0 0.1M154.5 412.9l-5.0 0.1M154.5 418.3l-5.0 0.1M154.5 423.6l-5.0 0.1M154.5 428.9l-5.0 0.1M154.5 434.3l-5.0 0.1M154.5 439.6l-5.0 0.0M154.5 444.9l-5.0 0.0M154.5 450.3l-5.0 0.0M154.9 242.3l4.9 0.2M154.9 247.6l4.9 0.3M154.9 252.9l4.9 0.3M154.9 258.2l4.9 0.4M154.9 263.5l4.9 0.4M154.9 268.8l4.9 0.4M154.9 274.2l4.9 0.5M154.9 279.5l4.9 0.5M154.9 284.8l4.9 0.5M154.9 290.1l4.9 0.6M154.9 295.4l4.9 0.7M156.4 301.5l1.9 -0.9M156.4 306.8l1.9 -0.8M156.4 312.0l2.0 -0.7M156.4 317.3l2.0 -0.6M156.4 322.6l2.0 -0.5M156.3 327.9l2.0 -0.4M156.3 333.1l2.1 -0.2M156.3 338.4l2.1 -0.1M156.3 343.7l2.1 0.0M156.3 348.9l2.1 0.1M156.3 354.2l2.1 0.3M156.3 359.5l2.0 0.4M156.4 364.7l2.0 0.5M156.4 370.0l2.0 0.6M156.4 375.3l2.0 0.7M156.4 380.6l1.9 0.8M156.4 385.9l1.9 0.9M159.8 391.3l-4.9 0.6M159.8 396.7l-4.9 0.6M159.8 402.0l-4.9 0.5M159.8 407.4l-4.9 0.5M159.8 412.7l-4.9 0.4M159.8 418.1l-4.9 0.4M159.8 423.4l-4.9 0.4M159.8 428.8l-4.9 0.4M159.8 434.1l-4.9 0.3M159.8 439.5l-4.9 0.3M159.8 444.8l-4.9 0.2M159.8 450.2l-4.9 0.2M160.3 242.2l4.8 0.4M160.3 247.5l4.8 0.6M160.3 252.7l4.8 0.6M160.3 258.1l4.8 0.7M160.3 263.4l4.8 0.7M160.3 268.7l4.8 0.8M160.3 274.0l4.8 0.8M160.3 279.3l4.8 0.9M160.3 284.6l4.8 1.0M160.3 289.8l4.8 1.0M160.3 295.1l4.7 1.2M162.0 301.4l1.4 -0.6M162.0 306.6l1.5 -0.6M162.0 311.9l1.5 -0.5M161.9 317.2l1.5 -0.4M161.9 322.5l1.5 -0.3M161.9 327.8l1.5 -0.3M161.9 333.1l1.6 -0.2M161.9 338.4l1.6 -0.1M161.9 343.7l1.6 0.0M161.9 349.0l1.6 0.1M161.9 354.2l1.6 0.2M161.9 359.5l1.5 0.3M161.9 364.8l1.5 0.4M161.9 370.1l1.5 0.4M162.0 375.4l1.5 0.5M162.0 380.7l1.5 0.6M162.0 386.0l1.4 0.7M165.1 391.1l-4.7 1.1M165.1 396.5l-4.8 1.0M165.1 401.8l-4.8 0.9M165.1 407.2l-4.8 0.9M165.1 412.6l-4.8 0.8M165.1 417.9l-4.8 0.8M165.1 423.3l-4.8 0.7M165.1 428.6l-4.8 0.7M165.1 434.0l-4.8 0.6M165.1 439.3l-4.8 0.5M165.1 444.7l-4.8 0.4M165.1 450.1l-4.9 0.3M165.7 242.1l4.8 0.6M165.7 247.3l4.7 0.8M165.7 252.6l4.7 0.9M165.7 257.9l4.7 0.9M165.7 263.2l4.7 1.0M165.7 268.5l4.7 1.1M165.7 273.8l4.7 1.1M165.7 279.1l4.6 1.2M165.7 284.4l4.6 1.3M165.7 289.6l4.6 1.5M165.8 294.9l4.5 1.6M167.5 301.2l1.0 -0.4M167.5 306.5l1.0 -0.4M167.5 311.9l1.0 -0.3M167.5 317.2l1.0 -0.3M167.5 322.5l1.0 -0.2M167.5 327.8l1.0 -0.2M167.5 333.1l1.0 -0.1M167.5 338.4l1.1 -0.1M167.5 343.7l1.1 0.0M167.5 349.0l1.1 0.1M167.5 354.3l1.0 0.1M167.5 359.6l1.0 0.2M167.5 364.9l1.0 0.2M167.5 370.2l1.0 0.3M167.5 375.5l1.0 0.3M167.5 380.8l1.0 0.4M167.5 386.1l1.0 0.4M170.3 390.8l-4.5 1.6M170.3 396.2l-4.6 1.5M170.3 401.6l-4.6 1.3M170.3 407.0l-4.6 1.2M170.4 412.4l-4.7 1.1M170.4 417.8l-4.7 1.1M170.4 423.1l-4.7 1.0M170.4 428.5l-4.7 0.9M170.4 433.8l-4.7 0.9M170.4 439.2l-4.7 0.8M170.4 444.6l-4.8 0.6M170.4 450.0l-4.8 0.5M171.0 242.0l4.7 0.8M171.0 247.2l4.6 1.0M171.1 252.5l4.6 1.1M171.1 257.8l4.6 1.2M171.1 263.1l4.6 1.3M171.1 268.4l4.5 1.4M171.1 273.7l4.5 1.5M171.1 278.9l4.5 1.6M171.1 284.2l4.4 1.7M171.2 289.5l4.4 1.8M171.2 294.7l4.3 2.0M173.0 301.2l0.8 -0.3M173.0 306.5l0.8 -0.3M172.9 311.8l0.8 -0.3M172.9 317.1l0.8 -0.2M172.9 322.4l0.8 -0.2M172.9 327.7l0.9 -0.1M172.9 333.1l0.9 -0.1M172.9 338.4l0.9 -0.0M172.9 343.7l0.9 0.0M172.9 349.0l0.9 0.0M172.9 354.3l0.9 0.1M172.9 359.6l0.9 0.1M172.9 364.9l0.8 0.2M172.9 370.2l0.8 0.2M172.9 375.5l0.8 0.3M173.0 380.8l0.8 0.3M175.5 385.2l-4.2 2.2M175.5 390.6l-4.3 2.0M175.5 396.1l-4.4 1.8M175.6 401.5l-4.4 1.7M175.6 406.9l-4.5 1.6M175.6 412.2l-4.5 1.4M175.6 417.6l-4.5 1.4M175.6 423.0l-4.6 1.3M175.6 428.4l-4.6 1.2M175.7 433.7l-4.6 1.1M175.7 439.1l-4.6 1.0M175.7 444.5l-4.7 0.8M175.7 450.0l-4.7 0.6M176.4 241.9l4.6 1.0M176.4 247.1l4.5 1.2M176.5 252.4l4.5 1.4M176.5 257.7l4.4 1.4M176.5 263.0l4.4 1.5M176.5 268.2l4.4 1.6M176.5 273.5l4.3 1.7M176.6 278.8l4.3 1.9M176.6 284.0l4.2 2.0M176.6 289.3l4.1 2.2M176.7 294.5l4.0 2.3M176.7 299.8l3.9 2.6M178.3 306.5l0.8 -0.3M178.3 311.8l0.8 -0.2M178.3 317.1l0.8 -0.2M178.3 322.4l0.8 -0.2M178.3 327.7l0.9 -0.1M178.3 333.1l0.9 -0.1M178.3 338.4l0.9 -0.0M178.3 343.7l0.9 0.0M178.3 349.0l0.9 0.0M178.3 354.3l0.9 0.1M178.3 359.6l0.9 0.1M178.3 364.9l0.8 0.2M178.3 370.2l0.8 0.2M178.3 375.5l0.8 0.2M178.3 380.8l0.8 0.3M180.7 385.0l-3.9 2.5M180.7 390.5l-4.0 2.3M180.8 395.9l-4.1 2.1M180.8 401.3l-4.2 2.0M180.8 406.7l-4.3 1.8M180.9 412.1l-4.3 1.7M180.9 417.5l-4.4 1.6M180.9 422.9l-4.4 1.5M180.9 428.2l-4.4 1.4M180.9 433.6l-4.5 1.4M181.0 439.0l-4.5 1.1M181.0 444.5l-4.6 1.0M181.0 449.9l-4.6 0.8M181.8 241.8l4.5 1.1M181.8 247.1l4.4 1.3M181.9 252.3l4.3 1.5M181.9 257.6l4.3 1.7M181.9 262.8l4.2 1.8M181.9 268.1l4.2 1.9M181.9 273.4l4.1 2.0M182.0 278.7l4.1 2.1M182.0 283.9l4.0 2.3M182.1 289.2l3.9 2.4M182.1 294.4l3.8 2.6M182.2 299.6l3.6 2.8M182.3 304.8l3.4 3.1M183.6 311.8l0.8 -0.2M183.6 317.1l0.8 -0.2M183.6 322.4l0.8 -0.2M183.6 327.7l0.9 -0.1M183.6 333.0l0.9 -0.1M183.6 338.4l0.9 -0.0M183.6 343.7l0.9 0.0M183.6 349.0l0.9 0.0M183.6 354.3l0.9 0.1M183.6 359.6l0.9 0.1M183.6 364.9l0.8 0.2M183.6 370.2l0.8 0.2M183.6 375.5l0.8 0.2M185.7 379.5l-3.5 3.0M185.8 384.9l-3.6 2.8M185.9 390.3l-3.8 2.6M186.0 395.8l-3.9 2.4M186.0 401.2l-4.0 2.2M186.1 406.6l-4.1 2.1M186.1 412.0l-4.2 2.0M186.1 417.4l-4.2 1.9M186.1 422.7l-4.3 1.8M186.2 428.1l-4.3 1.7M186.2 433.5l-4.3 1.5M186.2 439.0l-4.4 1.3M186.3 444.4l-4.5 1.1M186.3 449.8l-4.5 0.9M187.2 241.8l4.3 1.3M187.2 247.0l4.3 1.5M187.2 252.2l4.2 1.7M187.3 257.5l4.1 1.9M187.3 262.7l4.1 2.0M187.3 268.0l4.0 2.1M187.4 273.3l4.0 2.2M187.4 278.5l3.9 2.3M187.5 283.8l3.8 2.5M187.5 289.0l3.7 2.7M187.6 294.3l3.5 2.8M187.7 299.5l3.4 3.0M187.8 304.7l3.1 3.3M187.9 309.9l2.9 3.5M188.9 317.1l0.8 -0.2M188.9 322.4l0.9 -0.1M188.9 327.7l0.9 -0.1M188.9 333.0l0.9 -0.1M188.9 338.4l0.9 -0.0M188.9 343.7l0.9 0.0M188.9 349.0l0.9 0.0M188.9 354.3l0.9 0.1M188.9 359.6l0.9 0.1M188.9 364.9l0.9 0.2M188.9 370.2l0.8 0.2M190.8 373.9l-2.9 3.5M190.9 379.4l-3.2 3.2M191.0 384.8l-3.4 3.0M191.1 390.2l-3.5 2.8M191.2 395.7l-3.7 2.6M191.2 401.1l-3.8 2.5M191.3 406.5l-3.9 2.3M191.3 411.9l-4.0 2.2M191.4 417.3l-4.0 2.1M191.4 422.6l-4.1 2.0M191.4 428.0l-4.1 1.9M191.5 433.4l-4.2 1.7M191.5 438.9l-4.3 1.5M191.5 444.3l-4.4 1.3M191.6 449.7l-4.4 1.1M192.6 241.7l4.2 1.4M192.6 246.9l4.2 1.6M192.6 252.1l4.1 1.8M192.7 257.4l4.0 2.0M192.7 262.6l3.9 2.1M192.8 267.9l3.9 2.3M192.8 273.2l3.8 2.4M192.8 278.4l3.7 2.5M192.9 283.7l3.6 2.7M193.0 289.0l3.4 2.8M193.0 294.2l3.3 3.0M193.1 299.4l3.1 3.2M193.2 304.7l2.9 3.4M193.4 309.9l2.6 3.6M193.5 315.1l2.3 3.8M194.3 322.4l0.9 -0.1M194.3 327.7l0.9 -0.1M194.2 333.0l0.9 -0.1M194.2 338.4l0.9 -0.0M194.2 343.7l0.9 0.0M194.2 349.0l0.9 0.0M194.2 354.3l0.9 0.1M194.3 359.6l0.9 0.1M194.3 364.9l0.9 0.1M195.9 368.4l-2.3 3.8M196.0 373.9l-2.7 3.6M196.1 379.3l-2.9 3.4M196.2 384.7l-3.1 3.2M196.3 390.1l-3.3 3.0M196.4 395.6l-3.5 2.8M196.5 401.0l-3.6 2.7M196.5 406.4l-3.7 2.5M196.6 411.8l-3.8 2.4M196.6 417.2l-3.9 2.3M196.6 422.6l-3.9 2.1M196.7 427.9l-4.0 2.0M196.7 433.4l-4.1 1.8M196.8 438.8l-4.2 1.6M196.8 444.2l-4.2 1.4M196.8 449.7l-4.3 1.2M198.0 241.6l4.1 1.6M198.0 246.9l4.0 1.8M198.0 252.1l3.9 1.9M198.1 257.3l3.8 2.1M198.1 262.6l3.7 2.3M198.2 267.8l3.7 2.4M198.2 273.1l3.6 2.5M198.3 278.4l3.5 2.7M198.3 283.6l3.4 2.8M198.4 288.9l3.2 3.0M198.5 294.1l3.1 3.2M198.6 299.4l2.9 3.3M198.7 304.6l2.7 3.5M198.8 309.8l2.4 3.7M199.0 315.1l2.1 3.9M199.1 320.3l1.7 4.0M199.3 325.6l1.3 4.2M199.6 330.9l0.9 4.3M199.6 338.4l0.9 -0.0M199.6 343.7l0.9 0.0M199.6 349.0l0.9 0.0M200.5 352.2l-1.0 4.3M200.7 357.6l-1.4 4.2M200.9 363.0l-1.8 4.0M201.1 368.4l-2.1 3.9M201.2 373.8l-2.4 3.7M201.3 379.2l-2.7 3.5M201.5 384.7l-2.9 3.3M201.6 390.1l-3.1 3.1M201.6 395.5l-3.2 3.0M201.7 400.9l-3.4 2.8M201.8 406.3l-3.5 2.7M201.8 411.7l-3.6 2.5M201.9 417.1l-3.7 2.4M201.9 422.5l-3.8 2.3M201.9 427.9l-3.9 2.1M202.0 433.3l-4.0 1.9M202.0 438.7l-4.0 1.7M202.1 444.2l-4.1 1.5M202.1 449.6l-4.2 1.4M203.3 241.6l4.0 1.7M203.4 246.8l3.9 1.9M203.4 252.0l3.8 2.1M203.5 257.3l3.7 2.2M203.5 262.5l3.6 2.4M203.6 267.8l3.5 2.6M203.6 273.0l3.4 2.7M203.7 278.3l3.3 2.8M203.8 283.6l3.2 3.0M203.8 288.8l3.0 3.1M203.9 294.1l2.9 3.3M204.0 299.3l2.7 3.4M204.1 304.6l2.4 3.6M204.2 309.8l2.2 3.7M204.4 315.1l1.9 3.9M204.6 320.3l1.6 4.0M204.7 325.6l1.2 4.2M204.9 330.9l0.8 4.3M205.1 336.2l0.4 4.3M205.4 341.5l-0.0 4.3M205.6 346.8l-0.4 4.3M205.8 352.2l-0.9 4.2M206.0 357.6l-1.2 4.2M206.1 363.0l-1.6 4.0M206.3 368.4l-1.9 3.9M206.4 373.8l-2.2 3.7M206.6 379.2l-2.5 3.6M206.7 384.6l-2.7 3.4M206.8 390.0l-2.9 3.2M206.9 395.4l-3.0 3.1M206.9 400.8l-3.2 2.9M207.0 406.2l-3.3 2.8M207.0 411.6l-3.4 2.7M207.1 417.0l-3.5 2.5M207.1 422.4l-3.6 2.4M207.2 427.8l-3.7 2.2M207.2 433.3l-3.8 2.0M207.3 438.7l-3.9 1.9M207.3 444.1l-4.0 1.7M207.4 449.5l-4.1 1.5M208.7 241.5l3.9 1.8M208.8 246.7l3.8 2.0M208.8 252.0l3.7 2.2M208.9 257.2l3.6 2.4M208.9 262.5l3.4 2.5M209.0 267.7l3.3 2.7M209.1 273.0l3.2 2.8M209.1 278.3l3.1 2.9M209.2 283.5l3.0 3.1M209.3 288.8l2.8 3.2M209.3 294.0l2.7 3.3M209.4 299.3l2.5 3.5M209.5 304.5l2.3 3.6M209.7 309.8l2.0 3.8M209.8 315.1l1.7 3.9M210.0 320.3l1.4 4.0M210.1 325.6l1.1 4.1M210.3 330.9l0.7 4.2M210.5 336.2l0.4 4.3M210.7 341.5l-0.0 4.3M210.9 346.9l-0.4 4.2M211.1 352.2l-0.8 4.2M211.2 357.6l-1.1 4.1M211.4 363.0l-1.5 4.0M211.5 368.4l-1.8 3.9M211.7 373.8l-2.0 3.8M211.8 379.2l-2.3 3.6M211.9 384.6l-2.5 3.5M212.0 390.0l-2.7 3.3M212.1 395.4l-2.9 3.2M212.2 400.8l-3.0 3.0M212.2 406.2l-3.1 2.9M212.3 411.6l-3.2 2.8M212.3 417.0l-3.3 2.7M212.4 422.4l-3.5 2.5M212.5 427.8l-3.6 2.3M212.5 433.2l-3.7 2.2M212.6 438.6l-3.8 2.0M212.6 444.0l-3.9 1.8M212.6 449.5l-3.9 1.6M214.1 241.4l3.7 1.9M214.2 246.7l3.6 2.1M214.2 251.9l3.5 2.3M214.3 257.2l3.4 2.4M214.4 262.4l3.3 2.6M214.4 267.7l3.2 2.7M214.5 272.9l3.1 2.9M214.5 278.2l2.9 3.0M214.6 283.5l2.8 3.1M214.7 288.7l2.7 3.3M214.8 294.0l2.5 3.4M214.9 299.3l2.3 3.5M215.0 304.5l2.1 3.6M215.1 309.8l1.8 3.8M215.2 315.1l1.6 3.9M215.4 320.4l1.3 4.0M215.5 325.6l1.0 4.1M215.7 330.9l0.7 4.1M215.8 336.2l0.3 4.2M216.0 341.6l-0.0 4.2M216.2 346.9l-0.4 4.2M216.3 352.3l-0.7 4.1M216.5 357.6l-1.0 4.1M216.7 363.0l-1.3 4.0M216.8 368.4l-1.6 3.9M216.9 373.8l-1.9 3.8M217.1 379.2l-2.1 3.6M217.2 384.6l-2.3 3.5M217.3 390.0l-2.5 3.4M217.3 395.3l-2.7 3.2M217.4 400.7l-2.8 3.1M217.5 406.1l-3.0 3.0M217.5 411.5l-3.1 2.9M217.6 416.9l-3.2 2.7M217.7 422.3l-3.3 2.6M217.7 427.7l-3.4 2.4M217.8 433.1l-3.5 2.3M217.8 438.6l-3.6 2.1M217.9 444.0l-3.7 1.9M217.9 449.4l-3.8 1.7M219.5 241.4l3.6 2.0M219.6 246.6l3.5 2.2M219.6 251.9l3.4 2.4M219.7 257.1l3.3 2.5M219.8 262.4l3.1 2.7M219.8 267.6l3.0 2.8M219.9 272.9l2.9 3.0M219.9 278.2l2.8 3.1M220.0 283.4l2.6 3.2M220.1 288.7l2.5 3.3M220.2 294.0l2.3 3.4M220.3 299.3l2.1 3.5M220.4 304.5l1.9 3.7M220.5 309.8l1.7 3.8M220.6 315.1l1.5 3.9M220.7 320.4l1.2 4.0M220.9 325.7l0.9 4.0M221.0 331.0l0.6 4.1M221.2 336.3l0.3 4.1M221.3 341.6l-0.0 4.1M221.5 346.9l-0.3 4.1M221.6 352.3l-0.6 4.1M221.8 357.6l-0.9 4.0M221.9 363.0l-1.2 4.0M222.1 368.4l-1.5 3.9M222.2 373.8l-1.7 3.8M222.3 379.2l-1.9 3.6M222.4 384.5l-2.2 3.5M222.5 389.9l-2.3 3.4M222.6 395.3l-2.5 3.3M222.7 400.7l-2.7 3.2M222.7 406.1l-2.8 3.1M222.8 411.5l-2.9 2.9M222.8 416.9l-3.0 2.8M222.9 422.3l-3.1 2.7M223.0 427.7l-3.3 2.5M223.0 433.1l-3.4 2.4M223.1 438.5l-3.5 2.2M223.1 443.9l-3.6 2.0M223.2 449.3l-3.7 1.9M224.9 241.3l3.4 2.2M225.0 246.6l3.3 2.3M225.1 251.8l3.2 2.5M225.1 257.1l3.1 2.6M225.2 262.3l3.0 2.8M225.2 267.6l2.8 2.9M225.3 272.9l2.7 3.0M225.4 278.1l2.6 3.1M225.4 283.4l2.5 3.2M225.5 288.7l2.3 3.3M225.6 294.0l2.2 3.4M225.7 299.3l2.0 3.5M225.8 304.5l1.8 3.7M225.9 309.8l1.6 3.8M226.0 315.1l1.3 3.8M226.1 320.4l1.1 3.9M226.2 325.7l0.8 4.0M226.4 331.0l0.6 4.0M226.5 336.3l0.3 4.1M226.7 341.6l-0.0 4.1M226.8 347.0l-0.3 4.1M227.0 352.3l-0.6 4.0M227.1 357.7l-0.9 4.0M227.2 363.0l-1.1 3.9M227.3 368.4l-1.4 3.8M227.5 373.8l-1.6 3.7M227.6 379.2l-1.8 3.6M227.7 384.5l-2.0 3.5M227.8 389.9l-2.2 3.4M227.8 395.3l-2.3 3.3M227.9 400.7l-2.5 3.2M228.0 406.1l-2.6 3.1M228.0 411.5l-2.7 3.0M228.1 416.8l-2.9 2.9M228.2 422.2l-3.0 2.8M228.2 427.6l-3.1 2.6M228.3 433.0l-3.2 2.5M228.3 438.5l-3.3 2.3M228.4 443.9l-3.5 2.1M228.4 449.3l-3.6 2.0M230.3 241.3l3.3 2.3M230.4 246.5l3.2 2.4M230.5 251.8l3.1 2.6M230.5 257.0l2.9 2.7M230.6 262.3l2.8 2.9M230.7 267.6l2.7 3.0M230.7 272.8l2.5 3.1M230.8 278.1l2.4 3.2M230.8 283.4l2.3 3.3M230.9 288.7l2.2 3.4M231.0 294.0l2.0 3.4M231.1 299.3l1.9 3.5M231.2 304.5l1.7 3.6M231.3 309.8l1.5 3.7M231.4 315.1l1.2 3.8M231.5 320.4l1.0 3.9M231.6 325.7l0.8 3.9M231.7 331.0l0.5 4.0M231.9 336.3l0.2 4.0M232.0 341.7l-0.0 4.0M232.1 347.0l-0.3 4.0M232.3 352.3l-0.5 4.0M232.4 357.7l-0.8 3.9M232.5 363.1l-1.0 3.9M232.6 368.4l-1.3 3.8M232.7 373.8l-1.5 3.7M232.8 379.2l-1.7 3.6M232.9 384.5l-1.9 3.5M233.0 389.9l-2.0 3.4M233.1 395.3l-2.2 3.4M233.1 400.7l-2.3 3.3M233.2 406.0l-2.4 3.2M233.3 411.4l-2.6 3.1M233.3 416.8l-2.7 3.0M233.4 422.2l-2.8 2.8M233.5 427.6l-2.9 2.7M233.5 433.0l-3.1 2.6M233.6 438.4l-3.2 2.4M233.6 443.8l-3.3 2.3M233.7 449.2l-3.4 2.1M235.8 241.2l3.1 2.4M235.8 246.5l3.0 2.5M235.9 251.7l2.9 2.7M235.9 257.0l2.7 2.8M236.0 262.3l2.6 2.9M236.1 267.5l2.5 3.0M236.1 272.8l2.4 3.2M236.2 278.1l2.2 3.2M236.3 283.4l2.1 3.3M236.3 288.7l2.0 3.4M236.4 294.0l1.8 3.5M236.5 299.3l1.7 3.5M236.5 304.6l1.6 3.6M236.6 309.8l1.4 3.7M236.7 315.1l1.1 3.8M236.9 320.4l0.9 3.8M237.0 325.7l0.7 3.9M237.1 331.1l0.5 3.9M237.2 336.4l0.2 3.9M237.3 341.7l-0.0 3.9M237.4 347.0l-0.3 3.9M237.6 352.4l-0.5 3.9M237.7 357.7l-0.7 3.9M237.8 363.1l-1.0 3.8M237.9 368.4l-1.2 3.8M238.0 373.8l-1.4 3.7M238.1 379.2l-1.6 3.6M238.2 384.5l-1.7 3.5M238.2 389.9l-1.9 3.5M238.3 395.3l-2.0 3.4M238.4 400.6l-2.1 3.3M238.4 406.0l-2.2 3.2M238.5 411.4l-2.4 3.1M238.6 416.8l-2.5 3.0M238.6 422.2l-2.6 2.9M238.7 427.5l-2.8 2.8M238.8 432.9l-2.9 2.7M238.8 438.4l-3.0 2.5M238.9 443.8l-3.1 2.4M238.9 449.2l-3.3 2.2M241.2 241.2l3.0 2.5M241.2 246.4l2.8 2.6M241.3 251.7l2.7 2.8M241.4 256.9l2.6 2.9M241.4 262.2l2.4 3.0M241.5 267.5l2.3 3.1M241.6 272.8l2.2 3.2M241.6 278.1l2.0 3.3M241.7 283.4l1.9 3.4M241.8 288.7l1.8 3.4M241.8 293.9l1.6 3.5M241.9 299.2l1.5 3.6M242.0 304.6l1.4 3.6M242.0 309.9l1.2 3.7M242.1 315.2l1.1 3.7M242.2 320.5l0.9 3.8M242.3 325.8l0.7 3.8M242.4 331.1l0.4 3.8M242.5 336.4l0.2 3.9M242.7 341.7l-0.0 3.9M242.8 347.1l-0.2 3.9M242.9 352.4l-0.5 3.8M243.0 357.8l-0.7 3.8M243.1 363.1l-0.9 3.8M243.2 368.5l-1.1 3.7M243.3 373.8l-1.2 3.7M243.3 379.2l-1.4 3.6M243.4 384.5l-1.5 3.6M243.5 389.9l-1.7 3.5M243.5 395.3l-1.8 3.4M243.6 400.6l-1.9 3.4M243.7 406.0l-2.0 3.3M243.7 411.4l-2.2 3.2M243.8 416.7l-2.3 3.1M243.9 422.1l-2.4 3.0M243.9 427.5l-2.6 2.9M244.0 432.9l-2.7 2.8M244.1 438.3l-2.8 2.6M244.1 443.7l-3.0 2.5M244.2 449.1l-3.1 2.3M246.6 241.1l2.8 2.6M246.7 246.4l2.7 2.7M246.7 251.6l2.5 2.8M246.8 256.9l2.4 3.0M246.9 262.2l2.2 3.1M246.9 267.5l2.1 3.2M247.0 272.8l2.0 3.2M247.1 278.0l1.8 3.3M247.1 283.3l1.7 3.4M247.2 288.6l1.6 3.5M247.3 293.9l1.4 3.5M247.3 299.2l1.3 3.6M247.4 304.6l1.2 3.6M247.5 309.9l1.0 3.7M247.5 315.2l0.9 3.7M247.6 320.5l0.7 3.7M247.7 325.8l0.5 3.8M247.8 331.1l0.4 3.8M247.9 336.4l0.2 3.8M248.0 341.8l-0.0 3.8M248.1 347.1l-0.2 3.8M248.2 352.4l-0.4 3.8M248.3 357.8l-0.6 3.8M248.3 363.1l-0.7 3.7M248.4 368.5l-0.9 3.7M248.5 373.8l-1.0 3.7M248.6 379.2l-1.2 3.6M248.6 384.5l-1.3 3.6M248.7 389.9l-1.5 3.5M248.8 395.2l-1.6 3.5M248.8 400.6l-1.7 3.4M248.9 406.0l-1.9 3.3M249.0 411.3l-2.0 3.2M249.0 416.7l-2.1 3.2M249.1 422.1l-2.3 3.1M249.2 427.5l-2.4 3.0M249.2 432.9l-2.5 2.8M249.3 438.3l-2.7 2.7M249.4 443.7l-2.8 2.6M249.4 449.1l-2.9 2.4M252.0 241.1l2.6 2.7M252.1 246.3l2.5 2.8M252.1 251.6l2.3 2.9M252.2 256.9l2.2 3.0M252.3 262.2l2.1 3.1M252.4 267.4l1.9 3.2M252.4 272.7l1.8 3.3M252.5 278.0l1.6 3.4M252.6 283.3l1.5 3.4M252.6 288.6l1.4 3.5M252.7 293.9l1.3 3.5M252.7 299.2l1.1 3.6M252.8 304.6l1.0 3.6M252.9 309.9l0.9 3.6M253.0 315.2l0.7 3.7M253.0 320.5l0.6 3.7M253.1 325.8l0.4 3.7M253.2 331.1l0.3 3.7M253.3 336.5l0.1 3.7M253.3 341.8l-0.0 3.7M253.4 347.1l-0.1 3.7M253.5 352.5l-0.3 3.7M253.5 357.8l-0.4 3.7M253.6 363.1l-0.6 3.7M253.7 368.5l-0.7 3.7M253.7 373.8l-0.9 3.6M253.8 379.2l-1.0 3.6M253.9 384.5l-1.1 3.6M253.9 389.9l-1.3 3.5M254.0 395.2l-1.4 3.5M254.1 400.6l-1.5 3.4M254.1 406.0l-1.7 3.3M254.2 411.3l-1.8 3.3M254.3 416.7l-1.9 3.2M254.3 422.1l-2.1 3.1M254.4 427.4l-2.2 3.0M254.5 432.8l-2.3 2.9M254.6 438.2l-2.5 2.8M254.6 443.6l-2.6 2.7M254.7 449.0l-2.7 2.5M257.4 241.0l2.4 2.7M257.5 246.3l2.3 2.9M257.6 251.6l2.1 3.0M257.6 256.9l2.0 3.1M257.7 262.1l1.9 3.2M257.8 267.4l1.7 3.2M257.8 272.7l1.6 3.3M257.9 278.0l1.5 3.4M258.0 283.3l1.3 3.4M258.0 288.6l1.2 3.5M258.1 293.9l1.1 3.5M258.2 299.3l1.0 3.5M258.2 304.6l0.8 3.6M258.3 309.9l0.7 3.6M258.4 315.2l0.6 3.6M258.4 320.5l0.4 3.6M258.5 325.9l0.3 3.7M258.5 331.2l0.2 3.7M258.6 336.5l0.1 3.7M258.6 341.8l-0.0 3.7M258.7 347.2l-0.1 3.7M258.7 352.5l-0.2 3.7M258.8 357.8l-0.3 3.7M258.9 363.2l-0.5 3.6M258.9 368.5l-0.6 3.6M259.0 373.9l-0.7 3.6M259.1 379.2l-0.8 3.6M259.1 384.5l-1.0 3.5M259.2 389.9l-1.1 3.5M259.2 395.2l-1.2 3.5M259.3 400.6l-1.3 3.4M259.4 406.0l-1.5 3.4M259.4 411.3l-1.6 3.3M259.5 416.7l-1.7 3.2M259.6 422.0l-1.9 3.2M259.6 427.4l-2.0 3.1M259.7 432.8l-2.2 3.0M259.8 438.2l-2.3 2.8M259.9 443.6l-2.4 2.7M259.9 449.0l-2.6 2.6M262.8 241.0l2.3 2.8M262.9 246.3l2.1 2.9M263.0 251.6l2.0 3.0M263.1 256.8l1.8 3.1M263.1 262.1l1.7 3.2M263.2 267.4l1.5 3.3M263.3 272.7l1.4 3.3M263.3 278.0l1.3 3.4M263.4 283.3l1.2 3.4M263.4 288.6l1.0 3.4M263.5 294.0l0.9 3.5M263.6 299.3l0.8 3.5M263.6 304.6l0.7 3.5M263.7 309.9l0.6 3.6M263.7 315.2l0.5 3.6M263.8 320.6l0.3 3.6M263.9 325.9l0.2 3.6M263.9 331.2l0.1 3.6M263.9 336.5l0.1 3.6M264.0 341.9l-0.0 3.6M264.0 347.2l-0.1 3.6M264.0 352.5l-0.1 3.6M264.1 357.9l-0.3 3.6M264.1 363.2l-0.4 3.6M264.2 368.5l-0.5 3.6M264.3 373.9l-0.6 3.6M264.3 379.2l-0.7 3.5M264.4 384.6l-0.8 3.5M264.4 389.9l-0.9 3.5M264.5 395.2l-1.1 3.4M264.6 400.6l-1.2 3.4M264.6 406.0l-1.3 3.4M264.7 411.3l-1.4 3.3M264.7 416.7l-1.6 3.2M264.8 422.0l-1.7 3.2M264.9 427.4l-1.8 3.1M265.0 432.8l-2.0 3.0M265.0 438.2l-2.1 2.9M265.1 443.5l-2.3 2.8M265.2 448.9l-2.4 2.7" stroke="#5675ad" stroke-opacity="0.8" stroke-width="1" fill="none"/>
<path d="M148.6 294.7C155.5 293.4 159.9 294.0 165.6 295.2C171.3 296.4 177.8 299.1 182.6 302.0C187.4 304.9 191.7 308.8 194.7 312.9C197.7 316.9 199.4 321.6 200.8 326.3C202.2 331.0 203.0 336.4 203.2 340.9C203.4 345.3 203.6 348.1 202.0 353.0C200.4 357.9 197.2 364.9 193.5 370.0C189.8 375.1 185.2 379.7 180.1 383.3C175.0 386.9 168.3 389.8 163.1 391.4C157.8 393.0 153.8 393.4 148.6 393.1C143.3 392.8 136.5 391.4 131.6 389.4C126.7 387.4 122.9 384.1 119.4 380.9C116.0 377.7 113.1 374.2 110.9 370.0C108.7 365.8 107.1 360.2 106.1 355.4C105.1 350.5 104.7 345.8 104.9 340.9C105.1 336.0 105.9 330.8 107.3 326.3C108.7 321.8 110.6 318.0 113.4 314.1C116.2 310.2 118.4 306.4 124.3 303.2C130.2 300.0 141.7 296.0 148.6 294.7Z" fill="none" stroke="#3a5ba8" stroke-width="1.25"/>
<path d="M97.9 298.4L96.7 297.3M140.7 270.3L141.0 271.2" fill="none" stroke="#e2993c" stroke-width="1.25" stroke-linecap="round"/>
<path d="M96.7 297.3L95.3 295.5M140.3 269.3L140.7 270.3" fill="none" stroke="#df9e3c" stroke-width="1.25" stroke-linecap="round"/>
<path d="M95.3 295.5L93.8 293.3M139.8 268.3L140.3 269.3" fill="none" stroke="#dba43d" stroke-width="1.25" stroke-linecap="round"/>
<path d="M93.8 293.3L92.4 290.7M139.1 267.1L139.8 268.3" fill="none" stroke="#d8a93d" stroke-width="1.25" stroke-linecap="round"/>
<path d="M92.4 290.7L91.0 287.9M138.3 265.9L139.1 267.1" fill="none" stroke="#d4ae3d" stroke-width="1.25" stroke-linecap="round"/>
<path d="M91.0 287.9L89.8 285.0M137.5 264.7L138.3 265.9" fill="none" stroke="#d1b43e" stroke-width="1.25" stroke-linecap="round"/>
<path d="M89.8 285.0L88.7 282.3M136.6 263.6L137.5 264.7" fill="none" stroke="#cdb93e" stroke-width="1.25" stroke-linecap="round"/>
<path d="M88.7 282.3L88.0 279.8M88.0 279.8L87.5 277.4M87.5 277.4L87.3 275.0M87.3 275.0L87.3 272.5M87.3 272.5L87.4 270.0M87.4 270.0L87.6 267.6M87.6 267.6L87.9 265.3M87.9 265.3L88.3 263.1M88.3 263.1L88.6 261.2M88.6 261.2L89.0 259.4M89.0 259.4L89.4 257.8M89.4 257.8L89.9 256.3M89.9 256.3L90.4 255.0M90.4 255.0L91.0 253.7M91.0 253.7L91.7 252.6M91.7 252.6L92.5 251.6M92.5 251.6L93.3 250.6M93.3 250.6L94.2 249.7M94.2 249.7L95.2 249.0M95.2 249.0L96.3 248.4M96.3 248.4L97.4 247.8M97.4 247.8L98.6 247.4M98.6 247.4L99.9 247.1M99.9 247.1L101.2 246.8M101.2 246.8L102.5 246.6M102.5 246.6L103.9 246.5M103.9 246.5L105.3 246.4M105.3 246.4L106.8 246.5M106.8 246.5L108.3 246.6M108.3 246.6L109.9 246.9M109.9 246.9L111.4 247.2M111.4 247.2L113.0 247.5M113.0 247.5L114.5 248.0M114.5 248.0L116.0 248.6M116.0 248.6L117.5 249.3M117.5 249.3L119.1 250.0M119.1 250.0L120.6 250.9M120.6 250.9L122.1 251.8M122.1 251.8L123.6 252.7M123.6 252.7L125.0 253.7M125.0 253.7L126.4 254.6M126.4 254.6L127.7 255.5M127.7 255.5L129.0 256.5M129.0 256.5L130.3 257.4M130.3 257.4L131.5 258.4M131.5 258.4L132.6 259.4M132.6 259.4L133.7 260.4M133.7 260.4L134.7 261.5M134.7 261.5L135.7 262.5M135.7 262.5L136.6 263.6" fill="none" stroke="#cbbd3e" stroke-width="1.25" stroke-linecap="round"/>
<path d="M141.0 271.2L141.1 271.9M99.0 298.8L97.9 298.4" fill="none" stroke="#e3913c" stroke-width="1.25" stroke-linecap="round"/>
<path d="M141.1 271.9L141.1 272.5M100.1 298.5L99.0 298.8" fill="none" stroke="#e1863c" stroke-width="1.25" stroke-linecap="round"/>
<path d="M141.1 272.5L141.0 273.0M101.2 297.7L100.1 298.5" fill="none" stroke="#de7b3b" stroke-width="1.25" stroke-linecap="round"/>
<path d="M141.0 273.0L140.8 273.4M102.2 296.6L101.2 297.7" fill="none" stroke="#dc703b" stroke-width="1.25" stroke-linecap="round"/>
<path d="M140.8 273.4L140.4 273.8M103.3 295.3L102.2 296.6" fill="none" stroke="#da653b" stroke-width="1.25" stroke-linecap="round"/>
<path d="M140.4 273.8L139.9 274.2M104.3 294.0L103.3 295.3" fill="none" stroke="#d85a3a" stroke-width="1.25" stroke-linecap="round"/>
<path d="M139.9 274.2L139.2 274.6M105.4 292.7L104.3 294.0" fill="none" stroke="#d64f3a" stroke-width="1.25" stroke-linecap="round"/>
<path d="M139.2 274.6L138.4 275.1M138.4 275.1L137.3 275.6M137.3 275.6L136.0 276.2M136.0 276.2L134.5 276.8M134.5 276.8L132.9 277.4M132.9 277.4L131.2 278.0M131.2 278.0L129.5 278.6M129.5 278.6L127.9 279.2M127.9 279.2L126.4 279.8M126.4 279.8L125.0 280.4M125.0 280.4L123.6 281.1M123.6 281.1L122.3 281.7M122.3 281.7L120.9 282.3M120.9 282.3L119.6 283.0M119.6 283.0L118.3 283.7M118.3 283.7L117.1 284.4M117.1 284.4L115.8 285.1M115.8 285.1L114.6 285.9M114.6 285.9L113.4 286.7M113.4 286.7L112.2 287.5M112.2 287.5L111.0 288.3M111.0 288.3L109.9 289.2M109.9 289.2L108.7 290.0M108.7 290.0L107.6 290.9M107.6 290.9L106.5 291.7M106.5 291.7L105.4 292.7" fill="none" stroke="#d4473a" stroke-width="1.25" stroke-linecap="round"/>
<path d="M218.9 317.7L219.6 317.2M221.2 369.3L220.5 368.7" fill="none" stroke="#e2993c" stroke-width="1.25" stroke-linecap="round"/>
<path d="M219.6 317.2L220.6 316.8M222.0 369.7L221.2 369.3" fill="none" stroke="#df9e3c" stroke-width="1.25" stroke-linecap="round"/>
<path d="M220.6 316.8L221.6 316.5M222.9 370.1L222.0 369.7" fill="none" stroke="#dba43d" stroke-width="1.25" stroke-linecap="round"/>
<path d="M221.6 316.5L222.8 316.4M223.8 370.4L222.9 370.1" fill="none" stroke="#d8a93d" stroke-width="1.25" stroke-linecap="round"/>
<path d="M222.8 316.4L224.1 316.3M224.9 370.7L223.8 370.4" fill="none" stroke="#d4ae3d" stroke-width="1.25" stroke-linecap="round"/>
<path d="M224.1 316.3L225.5 316.2M225.9 370.8L224.9 370.7" fill="none" stroke="#d1b43e" stroke-width="1.25" stroke-linecap="round"/>
<path d="M225.5 316.2L226.8 316.2M227.1 370.9L225.9 370.8" fill="none" stroke="#cdb93e" stroke-width="1.25" stroke-linecap="round"/>
<path d="M226.8 316.2L228.2 316.2M228.2 316.2L229.6 316.2M229.6 316.2L231.1 316.3M231.1 316.3L232.7 316.3M232.7 316.3L234.3 316.5M234.3 316.5L236.0 316.7M236.0 316.7L237.6 316.9M237.6 316.9L239.1 317.3M239.1 317.3L240.5 317.7M240.5 317.7L241.8 318.2M241.8 318.2L243.1 318.8M243.1 318.8L244.3 319.5M244.3 319.5L245.4 320.3M245.4 320.3L246.6 321.1M246.6 321.1L247.7 322.0M247.7 322.0L248.7 322.9M248.7 322.9L249.8 323.9M249.8 323.9L250.9 324.9M250.9 324.9L251.9 326.0M251.9 326.0L253.0 327.1M253.0 327.1L254.0 328.3M254.0 328.3L255.0 329.5M255.0 329.5L255.9 330.8M255.9 330.8L256.7 332.0M256.7 332.0L257.5 333.2M257.5 333.2L258.2 334.4M258.2 334.4L258.9 335.6M258.9 335.6L259.5 336.9M259.5 336.9L260.1 338.1M260.1 338.1L260.6 339.4M260.6 339.4L261.0 340.7M261.0 340.7L261.3 341.9M261.3 341.9L261.4 343.2M261.4 343.2L261.4 344.5M261.4 344.5L261.2 345.7M261.2 345.7L261.0 347.0M261.0 347.0L260.6 348.3M260.6 348.3L260.2 349.5M260.2 349.5L259.6 350.8M259.6 350.8L259.0 352.0M259.0 352.0L258.3 353.3M258.3 353.3L257.5 354.6M257.5 354.6L256.6 355.9M256.6 355.9L255.6 357.2M255.6 357.2L254.5 358.5M254.5 358.5L253.4 359.8M253.4 359.8L252.2 361.1M252.2 361.1L251.0 362.2M251.0 362.2L249.8 363.3M249.8 363.3L248.6 364.3M248.6 364.3L247.3 365.2M247.3 365.2L245.9 366.1M245.9 366.1L244.5 366.9M244.5 366.9L243.2 367.7M243.2 367.7L241.8 368.4M241.8 368.4L240.4 369.0M240.4 369.0L239.0 369.5M239.0 369.5L237.6 369.9M237.6 369.9L236.2 370.3M236.2 370.3L234.8 370.6M234.8 370.6L233.4 370.8M233.4 370.8L232.0 370.9M232.0 370.9L230.7 371.0M230.7 371.0L229.4 371.0M229.4 371.0L228.2 371.0M228.2 371.0L227.1 370.9" fill="none" stroke="#cbbd3e" stroke-width="1.25" stroke-linecap="round"/>
<path d="M220.5 368.7L219.9 368.0M218.4 318.4L218.9 317.7" fill="none" stroke="#e3913c" stroke-width="1.25" stroke-linecap="round"/>
<path d="M219.9 368.0L219.4 367.2M218.0 319.2L218.4 318.4" fill="none" stroke="#e1863c" stroke-width="1.25" stroke-linecap="round"/>
<path d="M219.4 367.2L219.0 366.3M217.9 320.1L218.0 319.2" fill="none" stroke="#de7b3b" stroke-width="1.25" stroke-linecap="round"/>
<path d="M219.0 366.3L218.7 365.4M217.8 321.1L217.9 320.1" fill="none" stroke="#dc703b" stroke-width="1.25" stroke-linecap="round"/>
<path d="M218.7 365.4L218.5 364.4M217.9 322.2L217.8 321.1" fill="none" stroke="#da653b" stroke-width="1.25" stroke-linecap="round"/>
<path d="M218.5 364.4L218.3 363.3M217.9 323.3L217.9 322.2" fill="none" stroke="#d85a3a" stroke-width="1.25" stroke-linecap="round"/>
<path d="M218.3 363.3L218.2 362.1M218.0 324.4L217.9 323.3" fill="none" stroke="#d64f3a" stroke-width="1.25" stroke-linecap="round"/>
<path d="M218.2 362.1L218.1 361.0M218.1 361.0L218.1 359.8M218.1 359.8L218.2 358.4M218.2 358.4L218.4 357.0M218.4 357.0L218.7 355.6M218.7 355.6L219.0 354.2M219.0 354.2L219.3 352.8M219.3 352.8L219.5 351.4M219.5 351.4L219.7 350.2M219.7 350.2L219.8 349.1M219.8 349.1L220.0 348.1M220.0 348.1L220.1 347.1M220.1 347.1L220.2 346.2M220.2 346.2L220.4 345.3M220.4 345.3L220.4 344.4M220.4 344.4L220.5 343.4M220.5 343.4L220.5 342.5M220.5 342.5L220.5 341.5M220.5 341.5L220.4 340.6M220.4 340.6L220.4 339.6M220.4 339.6L220.2 338.7M220.2 338.7L220.1 337.7M220.1 337.7L220.0 336.8M220.0 336.8L219.8 335.7M219.8 335.7L219.7 334.7M219.7 334.7L219.5 333.6M219.5 333.6L219.3 332.5M219.3 332.5L219.1 331.3M219.1 331.3L218.8 330.1M218.8 330.1L218.6 328.9M218.6 328.9L218.3 327.7M218.3 327.7L218.2 326.6M218.2 326.6L218.1 325.5M218.1 325.5L218.0 324.4" fill="none" stroke="#d4473a" stroke-width="1.25" stroke-linecap="round"/>
<path d="M141.0 415.1L141.0 415.9M95.7 388.8L96.5 388.6" fill="none" stroke="#e2993c" stroke-width="1.25" stroke-linecap="round"/>
<path d="M141.0 415.9L140.9 416.9M94.9 389.1L95.7 388.8" fill="none" stroke="#df9e3c" stroke-width="1.25" stroke-linecap="round"/>
<path d="M140.9 416.9L140.8 418.0M94.2 389.6L94.9 389.1" fill="none" stroke="#dba43d" stroke-width="1.25" stroke-linecap="round"/>
<path d="M140.8 418.0L140.6 419.1M93.6 390.2L94.2 389.6" fill="none" stroke="#d8a93d" stroke-width="1.25" stroke-linecap="round"/>
<path d="M140.6 419.1L140.3 420.3M93.1 390.9L93.6 390.2" fill="none" stroke="#d4ae3d" stroke-width="1.25" stroke-linecap="round"/>
<path d="M140.3 420.3L139.9 421.4M92.6 391.7L93.1 390.9" fill="none" stroke="#d1b43e" stroke-width="1.25" stroke-linecap="round"/>
<path d="M139.9 421.4L139.4 422.6M92.0 392.6L92.6 391.7" fill="none" stroke="#cdb93e" stroke-width="1.25" stroke-linecap="round"/>
<path d="M139.4 422.6L138.8 423.7M138.8 423.7L138.1 424.8M138.1 424.8L137.2 425.9M137.2 425.9L136.2 427.0M136.2 427.0L135.1 428.2M135.1 428.2L133.9 429.3M133.9 429.3L132.7 430.3M132.7 430.3L131.5 431.4M131.5 431.4L130.2 432.3M130.2 432.3L128.9 433.2M128.9 433.2L127.6 434.0M127.6 434.0L126.2 434.8M126.2 434.8L124.7 435.6M124.7 435.6L123.2 436.3M123.2 436.3L121.7 437.0M121.7 437.0L120.2 437.6M120.2 437.6L118.7 438.1M118.7 438.1L117.1 438.6M117.1 438.6L115.5 439.0M115.5 439.0L113.8 439.3M113.8 439.3L112.1 439.6M112.1 439.6L110.4 439.9M110.4 439.9L108.8 440.1M108.8 440.1L107.2 440.2M107.2 440.2L105.8 440.2M105.8 440.2L104.5 440.2M104.5 440.2L103.3 440.1M103.3 440.1L102.2 440.0M102.2 440.0L101.1 439.8M101.1 439.8L100.1 439.5M100.1 439.5L99.2 439.2M99.2 439.2L98.2 438.7M98.2 438.7L97.2 438.1M97.2 438.1L96.2 437.4M96.2 437.4L95.2 436.5M95.2 436.5L94.2 435.5M94.2 435.5L93.2 434.4M93.2 434.4L92.3 433.2M92.3 433.2L91.5 432.0M91.5 432.0L90.7 430.8M90.7 430.8L90.0 429.5M90.0 429.5L89.4 428.2M89.4 428.2L88.9 426.9M88.9 426.9L88.5 425.5M88.5 425.5L88.1 424.0M88.1 424.0L87.8 422.5M87.8 422.5L87.6 421.0M87.6 421.0L87.4 419.5M87.4 419.5L87.2 418.0M87.2 418.0L87.1 416.4M87.1 416.4L87.1 414.8M87.1 414.8L87.1 413.2M87.1 413.2L87.2 411.6M87.2 411.6L87.3 409.9M87.3 409.9L87.4 408.3M87.4 408.3L87.6 406.7M87.6 406.7L87.9 405.1M87.9 405.1L88.2 403.6M88.2 403.6L88.6 402.0M88.6 402.0L89.0 400.4M89.0 400.4L89.4 398.9M89.4 398.9L89.9 397.4M89.9 397.4L90.4 396.0M90.4 396.0L91.0 394.7M91.0 394.7L91.5 393.6M91.5 393.6L92.0 392.6" fill="none" stroke="#cbbd3e" stroke-width="1.25" stroke-linecap="round"/>
<path d="M96.5 388.6L97.4 388.5M141.0 414.4L141.0 415.1" fill="none" stroke="#e3913c" stroke-width="1.25" stroke-linecap="round"/>
<path d="M97.4 388.5L98.5 388.6M140.9 413.9L141.0 414.4" fill="none" stroke="#e1863c" stroke-width="1.25" stroke-linecap="round"/>
<path d="M98.5 388.6L99.6 388.8M140.8 413.4L140.9 413.9" fill="none" stroke="#de7b3b" stroke-width="1.25" stroke-linecap="round"/>
<path d="M99.6 388.8L100.7 389.2M140.7 413.1L140.8 413.4" fill="none" stroke="#dc703b" stroke-width="1.25" stroke-linecap="round"/>
<path d="M100.7 389.2L102.0 389.6M140.4 412.7L140.7 413.1" fill="none" stroke="#da653b" stroke-width="1.25" stroke-linecap="round"/>
<path d="M102.0 389.6L103.2 390.1M140.0 412.4L140.4 412.7" fill="none" stroke="#d85a3a" stroke-width="1.25" stroke-linecap="round"/>
<path d="M103.2 390.1L104.5 390.8M139.5 412.0L140.0 412.4" fill="none" stroke="#d64f3a" stroke-width="1.25" stroke-linecap="round"/>
<path d="M104.5 390.8L105.8 391.5M105.8 391.5L107.1 392.4M107.1 392.4L108.5 393.5M108.5 393.5L110.0 394.7M110.0 394.7L111.4 396.0M111.4 396.0L112.9 397.3M112.9 397.3L114.4 398.6M114.4 398.6L115.8 399.8M115.8 399.8L117.3 400.8M117.3 400.8L118.7 401.7M118.7 401.7L120.2 402.5M120.2 402.5L121.7 403.2M121.7 403.2L123.1 403.9M123.1 403.9L124.6 404.6M124.6 404.6L126.0 405.2M126.0 405.2L127.4 405.8M127.4 405.8L128.8 406.5M128.8 406.5L130.2 407.2M130.2 407.2L131.6 407.8M131.6 407.8L133.0 408.5M133.0 408.5L134.4 409.1M134.4 409.1L135.7 409.8M135.7 409.8L136.9 410.4M136.9 410.4L137.9 410.9M137.9 410.9L138.8 411.5M138.8 411.5L139.5 412.0" fill="none" stroke="#d4473a" stroke-width="1.25" stroke-linecap="round"/>
<text x="114.6" y="331.6" class="bt" textLength="72.3" lengthAdjust="spacingAndGlyphs"><tspan font-style="italic">N</tspan>=10, <tspan font-style="italic">K</tspan>′ valley</text><text x="125.5" y="346.9" class="bt" textLength="53.4" lengthAdjust="spacingAndGlyphs"><tspan font-style="italic">ε</tspan><tspan font-style="italic" font-size="8.5" dy="2">F</tspan><tspan dy="-2">=10 meV</tspan></text><text x="113.4" y="362.2" class="bt" textLength="80.1" lengthAdjust="spacingAndGlyphs">Δ=5meV, <tspan font-style="italic">B</tspan><tspan font-style="italic" font-size="8.5" dy="2">z</tspan><tspan dy="-2"> =3T</tspan></text>
<linearGradient id="cgL" x1="0" y1="1" x2="0" y2="0"><stop offset="0" stop-color="#fff"/><stop offset="1" stop-color="#000"/></linearGradient>
<rect x="288.2" y="287.8" width="8" height="122.6" fill="url(#cgL)" stroke="#bbb" stroke-width="0.4"/>
<path d="M288.7 412.8h7" stroke="#999" stroke-width="1.2"/>
<text x="302.2" y="414.0" class="cb">0</text>
<text x="302.2" y="392.6" class="cb">0.25</text>
<text x="302.2" y="371.2" class="cb">0.50</text>
<text x="302.2" y="349.8" class="cb">0.75</text>
<text x="302.2" y="328.4" class="cb">1.00</text>
<text x="302.2" y="307.0" class="cb">1.25</text>
<text x="280.3" y="279.2" class="cb" textLength="47" lengthAdjust="spacingAndGlyphs">−ħ<tspan font-size="6.5" dy="-4">−1</tspan><tspan dy="4">e B</tspan><tspan font-size="6.5" dy="2">z</tspan><tspan dy="-2">Ω</tspan></text>
<filter id="blR" x="-30%" y="-30%" width="160%" height="160%"><feGaussianBlur stdDeviation="5"/></filter>
<filter id="bsR" x="-50%" y="-50%" width="200%" height="200%"><feGaussianBlur stdDeviation="2.2"/></filter>
<filter id="bmR" x="-50%" y="-50%" width="200%" height="200%"><feGaussianBlur stdDeviation="3.2"/></filter>
<path d="M453.2 266.0C461.3 261.0 478.2 269.1 490.7 273.1C503.2 277.1 516.5 282.8 528.0 290.0C539.5 297.2 550.0 307.4 559.7 316.2C569.4 325.0 586.2 333.9 586.2 342.8C586.2 351.7 569.4 360.8 559.7 369.8C550.0 378.8 539.5 390.3 528.0 397.0C516.5 403.7 503.2 405.9 490.7 409.8C478.2 413.7 461.4 424.9 453.2 420.6C444.9 416.3 443.7 396.7 441.2 383.8C438.7 370.9 437.9 356.8 438.0 343.4C438.1 329.9 439.6 316.0 442.1 303.1C444.6 290.2 445.1 271.0 453.2 266.0Z" fill="none" stroke="#000" stroke-opacity="0.2" stroke-width="17" stroke-linejoin="round" filter="url(#blR)"/>
<path d="M453.2 266.0C461.3 261.0 478.2 269.1 490.7 273.1C503.2 277.1 516.5 282.8 528.0 290.0C539.5 297.2 550.0 307.4 559.7 316.2C569.4 325.0 586.2 333.9 586.2 342.8C586.2 351.7 569.4 360.8 559.7 369.8C550.0 378.8 539.5 390.3 528.0 397.0C516.5 403.7 503.2 405.9 490.7 409.8C478.2 413.7 461.4 424.9 453.2 420.6C444.9 416.3 443.7 396.7 441.2 383.8C438.7 370.9 437.9 356.8 438.0 343.4C438.1 329.9 439.6 316.0 442.1 303.1C444.6 290.2 445.1 271.0 453.2 266.0Z" fill="none" stroke="#000" stroke-opacity="0.06" stroke-width="5" filter="url(#bsR)"/>
<path d="M442.1 303.1Q449.5 278.4 453.2 266.0Q465.7 268.4 490.7 273.1" fill="none" stroke="#000" stroke-opacity="0.42" stroke-width="9" stroke-linecap="round" stroke-linejoin="round" filter="url(#bmR)"/>
<ellipse cx="455.7" cy="270.3" rx="14" ry="10" transform="rotate(-30.0 455.7 270.3)" fill="#000" fill-opacity="0.36" filter="url(#blR)"/>
<ellipse cx="453.2" cy="266.0" rx="8" ry="3.4" transform="rotate(-30.0 453.2 266.0)" fill="#000" filter="url(#bsR)"/>
<path d="M559.7 316.2Q577.4 333.9 586.2 342.8Q577.4 351.8 559.7 369.8" fill="none" stroke="#000" stroke-opacity="0.42" stroke-width="9" stroke-linecap="round" stroke-linejoin="round" filter="url(#bmR)"/>
<ellipse cx="581.2" cy="342.8" rx="17" ry="10" transform="rotate(90.0 581.2 342.8)" fill="#000" fill-opacity="0.36" filter="url(#blR)"/>
<ellipse cx="586.2" cy="342.8" rx="11" ry="3.4" transform="rotate(90.0 586.2 342.8)" fill="#000" filter="url(#bsR)"/>
<path d="M490.7 409.8Q465.7 417.0 453.2 420.6Q449.2 408.3 441.2 383.8" fill="none" stroke="#000" stroke-opacity="0.42" stroke-width="9" stroke-linecap="round" stroke-linejoin="round" filter="url(#bmR)"/>
<ellipse cx="455.7" cy="416.3" rx="14" ry="10" transform="rotate(30.0 455.7 416.3)" fill="#000" fill-opacity="0.36" filter="url(#blR)"/>
<ellipse cx="453.2" cy="420.6" rx="8" ry="3.4" transform="rotate(30.0 453.2 420.6)" fill="#000" filter="url(#bsR)"/>
<path d="M537.9 310.9L545.6 309.3L559.8 313.9L559.1 321.2L544.6 317.9Z" fill="#72dc72" fill-opacity="0.9"/>
<path d="M487.1 281.8L492.4 274.7L503.4 284.4L506.5 293.2L498.5 291.0Z" fill="#72dc72" fill-opacity="0.9"/>
<path d="M441.0 303.8L449.0 302.9L451.6 317.1L449.9 325.5L444.1 318.8Z" fill="#72dc72" fill-opacity="0.9"/>
<path d="M537.9 375.9L545.6 377.5L559.8 372.9L559.1 365.6L544.6 368.9Z" fill="#72dc72" fill-opacity="0.9"/>
<path d="M487.1 405.0L492.4 412.1L503.4 402.4L506.5 393.6L498.5 395.8Z" fill="#72dc72" fill-opacity="0.9"/>
<path d="M441.0 383.0L449.0 383.9L451.6 369.7L449.9 361.3L444.1 368.0Z" fill="#72dc72" fill-opacity="0.9"/>
<path d="M398.9 244.5l4.6 -4.2M399.1 250.0l4.3 -4.5M399.2 255.4l4.0 -4.7M399.4 260.9l3.7 -5.0M399.5 266.3l3.4 -5.2M399.6 271.7l3.1 -5.3M399.8 277.1l2.9 -5.5M399.9 282.5l2.7 -5.6M400.0 287.9l2.4 -5.7M400.1 293.3l2.2 -5.8M400.2 298.6l2.0 -5.9M400.3 304.0l1.9 -5.9M400.4 309.3l1.7 -6.0M400.5 314.7l1.5 -6.0M400.6 320.1l1.3 -6.1M400.7 325.4l1.0 -6.1M400.8 330.8l0.8 -6.1M400.9 336.1l0.5 -6.2M401.1 341.4l0.2 -6.2M401.2 346.8l-0.0 -6.2M401.3 352.1l-0.3 -6.2M401.5 357.4l-0.6 -6.2M401.6 362.7l-0.8 -6.1M401.7 368.0l-1.1 -6.1M401.8 373.4l-1.3 -6.1M401.9 378.7l-1.5 -6.0M402.0 384.0l-1.7 -6.0M402.1 389.3l-1.9 -5.9M402.2 394.6l-2.1 -5.8M402.3 399.9l-2.3 -5.8M402.4 405.1l-2.5 -5.7M402.5 410.4l-2.7 -5.6M402.7 415.7l-2.9 -5.5M402.8 421.0l-3.2 -5.3M402.9 426.2l-3.4 -5.2M403.1 431.4l-3.7 -5.0M403.2 436.6l-4.0 -4.7M403.4 441.8l-4.3 -4.4M403.5 447.0l-4.6 -4.1M403.6 452.2l-4.9 -3.8M404.1 244.3l4.8 -3.8M404.3 249.8l4.5 -4.1M404.4 255.3l4.3 -4.4M404.5 260.7l4.0 -4.7M404.7 266.2l3.7 -4.9M404.8 271.6l3.4 -5.1M404.9 277.0l3.2 -5.2M405.0 282.4l3.0 -5.4M405.1 287.8l2.8 -5.5M405.2 293.2l2.6 -5.6M405.3 298.5l2.4 -5.6M405.4 303.9l2.2 -5.7M405.5 309.3l2.0 -5.8M405.6 314.6l1.8 -5.8M405.7 320.0l1.6 -5.9M405.8 325.3l1.4 -6.0M406.0 330.7l1.0 -6.0M406.2 336.1l0.7 -6.1M406.4 341.4l0.3 -6.1M406.5 346.7l-0.0 -6.1M406.7 352.1l-0.4 -6.1M406.9 357.4l-0.7 -6.1M407.1 362.7l-1.1 -6.0M407.2 368.0l-1.4 -6.0M407.4 373.3l-1.7 -5.9M407.5 378.6l-1.9 -5.8M407.6 383.9l-2.1 -5.8M407.6 389.2l-2.2 -5.7M407.7 394.5l-2.4 -5.6M407.8 399.7l-2.6 -5.6M407.9 405.0l-2.8 -5.5M408.0 410.3l-3.0 -5.3M408.1 415.6l-3.2 -5.2M408.3 420.8l-3.5 -5.1M408.4 426.1l-3.7 -4.9M408.5 431.3l-4.0 -4.7M408.7 436.5l-4.3 -4.4M408.8 441.7l-4.6 -4.1M408.9 446.8l-4.8 -3.8M409.1 452.0l-5.1 -3.4M409.4 244.1l5.0 -3.5M409.5 249.6l4.7 -3.8M409.6 255.1l4.5 -4.1M409.8 260.6l4.2 -4.4M409.9 266.0l4.0 -4.6M410.0 271.4l3.7 -4.8M410.1 276.9l3.5 -5.0M410.2 282.3l3.3 -5.1M410.3 287.7l3.1 -5.2M410.4 293.0l2.9 -5.3M410.5 298.4l2.7 -5.4M410.6 303.8l2.6 -5.5M410.7 309.1l2.4 -5.6M410.8 314.5l2.1 -5.7M411.0 319.9l1.8 -5.8M411.1 325.3l1.4 -5.9M411.3 330.7l1.1 -6.0M411.5 336.0l0.7 -6.0M411.7 341.4l0.4 -6.1M411.9 346.7l-0.0 -6.1M412.1 352.0l-0.4 -6.1M412.2 357.3l-0.8 -6.0M412.4 362.6l-1.1 -6.0M412.6 367.9l-1.5 -5.9M412.8 373.2l-1.8 -5.8M412.9 378.5l-2.1 -5.7M413.1 383.8l-2.4 -5.6M413.2 389.1l-2.6 -5.5M413.2 394.3l-2.8 -5.4M413.3 399.6l-2.9 -5.3M413.4 404.9l-3.1 -5.2M413.5 410.2l-3.3 -5.1M413.6 415.4l-3.5 -5.0M413.7 420.7l-3.7 -4.8M413.8 425.9l-4.0 -4.6M414.0 431.1l-4.2 -4.3M414.1 436.3l-4.5 -4.1M414.2 441.5l-4.8 -3.8M414.4 446.7l-5.0 -3.4M414.5 451.8l-5.2 -3.1M414.6 244.0l5.1 -3.1M414.7 249.5l4.9 -3.5M414.9 255.0l4.7 -3.8M415.0 260.4l4.4 -4.1M415.1 265.9l4.2 -4.3M415.2 271.3l3.9 -4.5M415.3 276.7l3.7 -4.7M415.4 282.1l3.5 -4.8M415.5 287.5l3.4 -5.0M415.6 292.9l3.2 -5.1M415.7 298.3l3.0 -5.2M415.8 303.7l2.8 -5.3M415.9 309.1l2.5 -5.5M416.1 314.5l2.2 -5.6M416.3 319.9l1.9 -5.7M416.4 325.3l1.5 -5.8M416.6 330.6l1.1 -5.9M416.8 336.0l0.8 -6.0M417.0 341.3l0.4 -6.0M417.2 346.7l-0.0 -6.0M417.4 352.0l-0.4 -6.0M417.6 357.3l-0.8 -5.9M417.8 362.6l-1.2 -5.9M418.0 367.9l-1.5 -5.8M418.1 373.2l-1.9 -5.7M418.3 378.4l-2.2 -5.6M418.4 383.7l-2.5 -5.4M418.6 389.0l-2.8 -5.3M418.7 394.2l-3.1 -5.2M418.8 399.5l-3.2 -5.1M418.9 404.8l-3.4 -5.0M419.0 410.0l-3.6 -4.8M419.1 415.3l-3.7 -4.7M419.2 420.5l-4.0 -4.5M419.3 425.8l-4.2 -4.3M419.4 431.0l-4.4 -4.0M419.5 436.2l-4.7 -3.8M419.6 441.3l-4.9 -3.4M419.8 446.5l-5.1 -3.1M419.9 451.7l-5.3 -2.8M419.9 243.8l5.2 -2.8M420.0 249.3l5.0 -3.2M420.1 254.8l4.8 -3.5M420.2 260.3l4.6 -3.8M420.3 265.7l4.3 -4.0M420.5 271.2l4.1 -4.3M420.6 276.6l3.9 -4.4M420.6 282.0l3.8 -4.6M420.7 287.4l3.6 -4.7M420.8 292.8l3.4 -4.9M420.9 298.2l3.2 -5.0M421.1 303.6l2.9 -5.2M421.2 309.0l2.6 -5.3M421.4 314.4l2.3 -5.5M421.5 319.8l1.9 -5.6M421.7 325.2l1.6 -5.7M421.9 330.6l1.2 -5.8M422.1 335.9l0.8 -5.9M422.3 341.3l0.4 -5.9M422.5 346.6l-0.0 -5.9M422.7 352.0l-0.4 -5.9M422.9 357.3l-0.8 -5.9M423.1 362.6l-1.2 -5.8M423.3 367.8l-1.6 -5.7M423.5 373.1l-2.0 -5.6M423.7 378.4l-2.3 -5.5M423.8 383.6l-2.6 -5.3M424.0 388.9l-2.9 -5.2M424.1 394.1l-3.2 -5.0M424.2 399.4l-3.4 -4.8M424.3 404.7l-3.6 -4.7M424.4 409.9l-3.8 -4.6M424.5 415.2l-4.0 -4.4M424.6 420.4l-4.2 -4.2M424.7 425.6l-4.4 -4.0M424.8 430.8l-4.6 -3.8M424.9 436.0l-4.8 -3.5M425.0 441.2l-5.0 -3.1M425.1 446.3l-5.2 -2.8M425.2 451.5l-5.4 -2.5M425.2 243.7l5.3 -2.6M425.3 249.2l5.1 -2.9M425.4 254.7l4.9 -3.2M425.5 260.2l4.7 -3.5M425.6 265.6l4.5 -3.8M425.7 271.1l4.3 -4.0M425.8 276.5l4.1 -4.2M425.9 281.9l3.9 -4.4M426.0 287.3l3.7 -4.5M426.1 292.7l3.5 -4.7M426.2 298.1l3.3 -4.9M426.3 303.5l3.0 -5.0M426.5 309.0l2.7 -5.2M426.6 314.4l2.4 -5.4M426.8 319.8l2.1 -5.5M427.0 325.2l1.7 -5.6M427.2 330.5l1.3 -5.7M427.4 335.9l0.9 -5.8M427.6 341.3l0.4 -5.9M427.9 346.6l-0.0 -5.9M428.1 351.9l-0.5 -5.8M428.3 357.2l-0.9 -5.8M428.5 362.5l-1.3 -5.7M428.7 367.8l-1.7 -5.6M428.9 373.1l-2.1 -5.5M429.1 378.3l-2.4 -5.3M429.2 383.6l-2.8 -5.2M429.4 388.8l-3.0 -5.0M429.5 394.1l-3.3 -4.8M429.6 399.3l-3.5 -4.7M429.7 404.6l-3.8 -4.5M429.8 409.8l-3.9 -4.3M429.9 415.1l-4.1 -4.2M430.0 420.3l-4.3 -4.0M430.1 425.5l-4.5 -3.8M430.2 430.7l-4.7 -3.5M430.3 435.9l-4.9 -3.2M430.4 441.0l-5.1 -2.9M430.5 446.2l-5.3 -2.5M430.6 451.4l-5.4 -2.2M430.5 243.6l5.3 -2.3M430.6 249.1l5.2 -2.7M430.7 254.5l5.0 -3.0M430.8 260.0l4.8 -3.3M430.9 265.5l4.6 -3.6M431.0 270.9l4.4 -3.8M431.1 276.4l4.2 -4.0M431.2 281.8l4.0 -4.2M431.2 287.2l3.9 -4.3M431.4 292.6l3.7 -4.5M431.5 298.0l3.4 -4.7M431.6 303.5l3.2 -4.9M431.7 308.9l2.9 -5.0M431.9 314.3l2.5 -5.2M432.1 319.7l2.2 -5.4M432.3 325.1l1.8 -5.5M432.5 330.5l1.4 -5.6M432.7 335.9l0.9 -5.7M433.0 341.2l0.4 -5.8M433.2 346.6l-0.0 -5.8M433.4 351.9l-0.5 -5.8M433.7 357.2l-1.0 -5.7M433.9 362.5l-1.4 -5.6M434.1 367.7l-1.8 -5.5M434.3 373.0l-2.2 -5.4M434.5 378.3l-2.6 -5.2M434.6 383.5l-2.9 -5.0M434.8 388.7l-3.2 -4.8M434.9 394.0l-3.4 -4.7M435.0 399.2l-3.7 -4.5M435.1 404.5l-3.9 -4.3M435.2 409.7l-4.1 -4.1M435.3 414.9l-4.2 -4.0M435.4 420.2l-4.4 -3.8M435.5 425.4l-4.6 -3.5M435.6 430.6l-4.8 -3.2M435.7 435.8l-5.0 -2.9M435.8 440.9l-5.2 -2.6M435.8 446.1l-5.3 -2.3M435.9 451.3l-5.5 -2.0M435.8 243.4l5.3 -2.1M435.9 248.9l5.2 -2.4M436.0 254.4l5.0 -2.7M436.1 259.9l4.8 -3.1M436.2 265.4l4.7 -3.3M436.3 270.8l4.5 -3.6M436.3 276.3l4.3 -3.8M436.4 281.7l4.2 -3.9M436.5 287.1l4.0 -4.1M436.6 292.5l3.8 -4.3M436.7 297.9l3.6 -4.5M436.9 303.4l3.3 -4.7M437.0 308.8l3.0 -4.9M437.2 314.2l2.7 -5.1M437.4 319.6l2.3 -5.2M437.6 325.1l1.9 -5.4M437.8 330.5l1.5 -5.5M438.0 335.8l1.0 -5.6M438.3 341.2l0.5 -5.7M438.5 346.5l-0.0 -5.7M438.8 351.9l-0.5 -5.7M439.0 357.2l-1.0 -5.6M439.3 362.4l-1.5 -5.5M439.5 367.7l-1.9 -5.4M439.7 372.9l-2.3 -5.2M439.9 378.2l-2.7 -5.0M440.0 383.4l-3.0 -4.9M440.2 388.6l-3.3 -4.7M440.3 393.9l-3.6 -4.5M440.4 399.1l-3.8 -4.3M440.5 404.3l-4.0 -4.1M440.6 409.6l-4.2 -3.9M440.7 414.8l-4.3 -3.7M440.8 420.1l-4.5 -3.6M440.8 425.3l-4.7 -3.3M440.9 430.5l-4.9 -3.0M441.0 435.6l-5.0 -2.7M441.1 440.8l-5.2 -2.4M441.2 446.0l-5.4 -2.1M441.2 451.1l-5.5 -1.7M441.2 243.3l5.3 -1.9M441.2 248.8l5.2 -2.2M441.3 254.3l5.1 -2.5M441.4 259.8l4.9 -2.9M441.5 265.3l4.7 -3.2M441.6 270.7l4.6 -3.4M441.6 276.1l4.4 -3.5M441.7 281.6l4.3 -3.7M441.8 287.0l4.1 -3.9M441.9 292.4l3.9 -4.1M442.0 297.8l3.7 -4.3M442.1 303.3l3.5 -4.5M442.3 308.7l3.2 -4.7M442.4 314.1l2.8 -4.9M442.6 319.6l2.5 -5.1M442.8 325.0l2.0 -5.3M443.1 330.4l1.6 -5.4M443.3 335.8l1.1 -5.6M443.6 341.2l0.5 -5.6M443.9 346.5l-0.0 -5.7M444.1 351.8l-0.6 -5.6M444.4 357.1l-1.1 -5.6M444.6 362.4l-1.6 -5.4M444.9 367.6l-2.1 -5.3M445.1 372.9l-2.5 -5.1M445.3 378.1l-2.9 -4.9M445.4 383.3l-3.2 -4.7M445.6 388.5l-3.5 -4.5M445.7 393.8l-3.7 -4.2M445.8 399.0l-4.0 -4.0M445.9 404.2l-4.2 -3.9M446.0 409.5l-4.3 -3.7M446.1 414.7l-4.5 -3.5M446.1 420.0l-4.6 -3.3M446.2 425.2l-4.7 -3.1M446.3 430.4l-4.9 -2.8M446.4 435.5l-5.1 -2.5M446.5 440.7l-5.2 -2.2M446.5 445.9l-5.4 -1.8M446.6 451.0l-5.5 -1.5M446.5 243.2l5.3 -1.7M446.6 248.7l5.2 -2.0M446.6 254.2l5.1 -2.3M446.7 259.7l4.9 -2.7M446.8 265.2l4.8 -2.9M446.8 270.6l4.7 -3.1M446.9 276.0l4.6 -3.3M447.0 281.4l4.4 -3.4M447.0 286.8l4.3 -3.6M447.1 292.3l4.1 -3.8M447.2 297.7l3.9 -4.0M447.3 303.2l3.6 -4.2M447.5 308.6l3.4 -4.5M447.7 314.0l3.0 -4.7M447.8 319.5l2.6 -4.9M448.1 324.9l2.2 -5.2M448.3 330.3l1.7 -5.3M448.6 335.7l1.2 -5.5M448.9 341.1l0.6 -5.6M449.2 346.5l-0.0 -5.6M449.5 351.8l-0.6 -5.6M449.8 357.1l-1.2 -5.5M450.0 362.3l-1.8 -5.3M450.3 367.6l-2.2 -5.1M450.5 372.8l-2.7 -4.9M450.7 378.0l-3.1 -4.7M450.9 383.2l-3.4 -4.5M451.0 388.4l-3.7 -4.2M451.1 393.6l-3.9 -4.0M451.2 398.9l-4.1 -3.8M451.3 404.1l-4.3 -3.6M451.4 409.3l-4.4 -3.4M451.5 414.6l-4.6 -3.2M451.5 419.8l-4.7 -3.1M451.6 425.1l-4.8 -2.9M451.6 430.3l-4.9 -2.6M451.7 435.4l-5.1 -2.3M451.8 440.6l-5.2 -2.0M451.8 445.8l-5.4 -1.6M451.9 450.9l-5.4 -1.3M451.8 243.1l5.3 -1.5M451.9 248.6l5.2 -1.8M452.0 254.1l5.1 -2.2M452.0 259.6l4.9 -2.5M452.1 265.1l4.8 -2.7M452.1 270.5l4.8 -2.8M452.2 275.9l4.7 -3.0M452.2 281.3l4.6 -3.1M452.3 286.7l4.4 -3.3M452.4 292.1l4.3 -3.5M452.5 297.6l4.1 -3.8M452.6 303.0l3.8 -4.0M452.7 308.5l3.6 -4.2M452.9 313.9l3.2 -4.5M453.1 319.4l2.8 -4.7M452.4 323.4l4.3 -2.2M452.2 328.5l4.5 -1.7M452.2 333.6l4.7 -1.1M452.1 338.6l4.8 -0.5M452.1 343.6l4.8 0.2M452.1 348.6l4.7 0.8M452.2 353.6l4.6 1.4M452.3 358.7l4.4 1.9M455.7 367.5l-2.4 -5.0M455.9 372.7l-2.9 -4.7M456.1 377.9l-3.3 -4.5M456.3 383.1l-3.6 -4.2M456.4 388.3l-3.9 -4.0M456.5 393.5l-4.1 -3.7M456.6 398.7l-4.3 -3.5M456.7 404.0l-4.4 -3.3M456.8 409.2l-4.6 -3.1M456.8 414.4l-4.7 -3.0M456.9 419.7l-4.8 -2.8M456.9 425.0l-4.9 -2.7M457.0 430.2l-4.9 -2.5M457.1 435.3l-5.1 -2.1M457.1 440.5l-5.2 -1.8M457.2 445.7l-5.3 -1.5M457.2 450.9l-5.4 -1.2M457.2 243.0l5.3 -1.3M457.2 248.5l5.2 -1.6M457.3 254.0l5.1 -2.0M457.3 259.5l5.0 -2.3M457.4 264.9l4.9 -2.4M457.4 270.3l4.8 -2.5M457.4 275.7l4.8 -2.7M457.5 281.1l4.7 -2.8M457.6 286.5l4.6 -3.0M457.6 292.0l4.4 -3.2M457.7 297.4l4.2 -3.4M457.8 302.9l4.0 -3.7M457.9 308.3l3.8 -3.9M458.1 313.8l3.5 -4.2M457.7 318.2l4.2 -2.3M457.6 323.3l4.4 -1.9M457.5 328.4l4.6 -1.5M457.5 333.5l4.7 -1.0M457.4 338.6l4.8 -0.4M457.4 343.6l4.8 0.1M457.5 348.7l4.7 0.7M457.5 353.7l4.6 1.2M457.6 358.8l4.5 1.7M457.7 363.9l4.3 2.1M457.8 369.1l4.1 2.5M461.6 377.7l-3.5 -4.2M461.7 382.9l-3.8 -3.9M461.9 388.1l-4.1 -3.7M462.0 393.3l-4.3 -3.4M462.0 398.6l-4.4 -3.2M462.1 403.8l-4.6 -3.0M462.2 409.0l-4.7 -2.8M462.2 414.3l-4.8 -2.7M462.3 419.5l-4.9 -2.5M462.3 424.8l-4.9 -2.4M462.3 430.1l-5.0 -2.3M462.4 435.2l-5.1 -1.9M462.4 440.4l-5.2 -1.6M462.5 445.6l-5.3 -1.3M462.5 450.8l-5.4 -1.0M462.5 243.0l5.3 -1.1M462.6 248.4l5.2 -1.4M462.6 254.0l5.1 -1.8M462.6 259.4l5.0 -2.0M462.7 264.8l5.0 -2.1M462.7 270.2l4.9 -2.2M462.7 275.6l4.9 -2.3M462.8 281.0l4.8 -2.5M462.8 286.4l4.7 -2.7M462.9 291.8l4.6 -2.9M462.9 297.2l4.4 -3.1M463.0 302.7l4.2 -3.3M463.2 308.2l4.0 -3.6M463.1 312.9l4.1 -2.5M463.0 318.1l4.3 -2.2M462.9 323.2l4.5 -1.8M462.9 328.3l4.6 -1.3M462.8 333.4l4.7 -0.9M462.8 338.5l4.8 -0.4M462.8 343.6l4.8 0.1M462.8 348.7l4.8 0.6M462.8 353.8l4.7 1.1M462.9 358.9l4.5 1.5M463.0 364.0l4.4 2.0M463.1 369.2l4.2 2.3M463.2 374.3l4.0 2.6M467.2 382.8l-4.0 -3.6M467.3 388.0l-4.3 -3.3M467.4 393.2l-4.4 -3.1M467.5 398.4l-4.6 -2.9M467.5 403.6l-4.7 -2.7M467.6 408.9l-4.8 -2.5M467.6 414.1l-4.9 -2.3M467.6 419.4l-4.9 -2.2M467.7 424.7l-5.0 -2.1M467.7 429.9l-5.0 -2.0M467.7 435.2l-5.1 -1.8M467.8 440.3l-5.2 -1.4M467.8 445.5l-5.3 -1.1M467.8 450.7l-5.3 -0.8M467.9 242.9l5.3 -0.9M467.9 248.3l5.2 -1.2M467.9 253.8l5.1 -1.6M468.0 259.2l5.1 -1.7M468.0 264.6l5.0 -1.8M468.0 270.0l5.0 -1.9M468.0 275.4l4.9 -2.0M468.0 280.8l4.9 -2.1M468.1 286.2l4.8 -2.3M468.1 291.6l4.7 -2.5M468.2 297.1l4.6 -2.7M468.3 302.5l4.4 -2.9M468.5 307.7l4.0 -2.6M468.4 312.8l4.2 -2.3M468.3 318.0l4.4 -2.0M468.2 323.2l4.5 -1.6M468.2 328.3l4.6 -1.2M468.1 333.4l4.7 -0.8M468.1 338.5l4.8 -0.3M468.1 343.6l4.8 0.1M468.1 348.7l4.8 0.6M468.1 353.8l4.7 1.0M468.2 359.0l4.6 1.4M468.3 364.1l4.5 1.8M468.3 369.2l4.3 2.1M468.4 374.4l4.1 2.5M468.5 379.6l4.0 2.7M472.7 387.8l-4.5 -2.9M472.8 393.0l-4.6 -2.7M472.9 398.2l-4.7 -2.5M472.9 403.4l-4.8 -2.3M472.9 408.7l-4.9 -2.1M473.0 414.0l-4.9 -2.0M473.0 419.2l-5.0 -1.9M473.0 424.5l-5.0 -1.8M473.0 429.8l-5.1 -1.7M473.0 435.1l-5.1 -1.6M473.1 440.2l-5.2 -1.2M473.1 445.4l-5.3 -0.9M473.1 450.6l-5.3 -0.7M473.2 242.8l5.2 -0.7M473.2 248.2l5.2 -1.0M473.3 253.7l5.1 -1.3M473.3 259.1l5.1 -1.4M473.3 264.4l5.1 -1.4M473.3 269.8l5.0 -1.5M473.3 275.2l5.0 -1.6M473.3 280.6l5.0 -1.8M473.4 286.0l4.9 -1.9M473.4 291.4l4.8 -2.1M473.4 296.8l4.8 -2.3M473.9 302.3l3.9 -2.6M473.8 307.5l4.0 -2.4M473.7 312.7l4.2 -2.1M473.7 317.9l4.3 -1.8M473.6 323.1l4.4 -1.5M473.5 328.2l4.5 -1.1M473.5 333.4l4.6 -0.7M473.5 338.5l4.7 -0.3M473.5 343.6l4.7 0.1M473.5 348.7l4.6 0.5M473.5 353.9l4.6 0.9M473.6 359.0l4.5 1.3M473.6 364.2l4.4 1.6M473.7 369.4l4.3 1.9M473.8 374.5l4.1 2.2M473.8 379.7l4.0 2.5M478.1 387.5l-4.7 -2.5M478.2 392.8l-4.8 -2.2M478.2 398.0l-4.8 -2.1M478.3 403.2l-4.9 -1.9M478.3 408.5l-5.0 -1.8M478.3 413.8l-5.0 -1.6M478.3 419.1l-5.0 -1.5M478.4 424.3l-5.1 -1.4M478.4 429.6l-5.1 -1.3M478.4 434.9l-5.1 -1.3M478.4 440.1l-5.2 -1.0M478.4 445.3l-5.2 -0.7M478.4 450.5l-5.2 -0.5M478.6 242.7l5.2 -0.6M478.6 248.1l5.1 -0.8M478.6 253.6l5.1 -1.0M478.6 258.9l5.1 -1.0M478.6 264.3l5.1 -1.1M478.6 269.6l5.1 -1.2M478.6 275.0l5.0 -1.3M478.6 280.4l5.0 -1.4M478.7 285.8l5.0 -1.5M478.7 291.2l4.9 -1.6M478.7 296.6l4.9 -1.8M479.4 302.1l3.5 -2.2M479.3 307.3l3.7 -2.0M479.3 312.6l3.8 -1.7M479.2 317.8l3.9 -1.5M479.2 322.9l4.0 -1.2M479.1 328.1l4.1 -0.9M479.1 333.3l4.1 -0.6M479.1 338.5l4.2 -0.3M479.1 343.6l4.2 0.1M479.1 348.8l4.1 0.4M479.1 354.0l4.1 0.7M479.1 359.1l4.0 1.0M479.2 364.3l3.9 1.3M479.2 369.5l3.8 1.6M479.3 374.7l3.7 1.9M479.3 379.9l3.6 2.1M479.4 385.2l3.5 2.3M483.6 392.5l-4.9 -1.8M483.6 397.8l-4.9 -1.6M483.6 403.0l-5.0 -1.5M483.7 408.3l-5.0 -1.4M483.7 413.6l-5.0 -1.3M483.7 418.9l-5.1 -1.2M483.7 424.2l-5.1 -1.1M483.7 429.5l-5.1 -1.0M483.7 434.8l-5.1 -1.0M483.7 440.0l-5.1 -0.8M483.7 445.2l-5.2 -0.5M483.7 450.4l-5.2 -0.4M483.9 242.6l5.1 -0.4M483.9 248.0l5.1 -0.6M483.9 253.4l5.1 -0.7M483.9 258.7l5.1 -0.7M483.9 264.1l5.1 -0.8M483.9 269.5l5.1 -0.8M484.0 274.8l5.1 -0.9M484.0 280.2l5.0 -1.0M484.0 285.6l5.0 -1.0M484.0 290.9l5.0 -1.1M484.9 296.7l3.1 -2.0M484.9 301.9l3.2 -1.8M484.8 307.2l3.3 -1.6M484.8 312.4l3.4 -1.4M484.8 317.6l3.4 -1.2M484.7 322.8l3.5 -1.0M484.7 328.0l3.6 -0.7M484.7 333.2l3.6 -0.5M484.7 338.4l3.6 -0.2M484.7 343.6l3.6 0.1M484.7 348.8l3.6 0.3M484.7 354.0l3.6 0.6M484.7 359.2l3.5 0.9M484.7 364.4l3.5 1.1M484.8 369.7l3.4 1.3M484.8 374.9l3.3 1.5M484.9 380.1l3.2 1.7M484.9 385.4l3.1 1.9M489.0 392.3l-5.0 -1.2M489.0 397.5l-5.0 -1.1M489.0 402.8l-5.0 -1.0M489.0 408.1l-5.0 -0.9M489.0 413.4l-5.1 -0.9M489.0 418.7l-5.1 -0.8M489.0 424.0l-5.1 -0.8M489.0 429.3l-5.1 -0.7M489.0 434.6l-5.1 -0.7M489.0 439.9l-5.1 -0.6M489.0 445.1l-5.1 -0.3M489.0 450.4l-5.1 -0.2M489.3 242.5l5.1 -0.2M489.3 247.9l5.1 -0.3M489.3 253.2l5.1 -0.4M489.3 258.6l5.1 -0.4M489.3 263.9l5.0 -0.4M489.3 269.3l5.0 -0.5M489.3 274.6l5.0 -0.5M489.3 280.0l5.0 -0.5M489.3 285.3l5.0 -0.6M489.3 290.7l5.0 -0.6M490.5 296.5l2.7 -1.6M490.4 301.8l2.8 -1.5M490.4 307.0l2.8 -1.3M490.4 312.3l2.9 -1.2M490.3 317.5l3.0 -1.0M490.3 322.7l3.0 -0.8M490.3 328.0l3.1 -0.6M490.3 333.2l3.1 -0.4M490.2 338.4l3.1 -0.2M490.2 343.6l3.1 0.1M490.2 348.9l3.1 0.3M490.3 354.1l3.1 0.5M490.3 359.3l3.1 0.7M490.3 364.5l3.0 0.9M490.3 369.8l3.0 1.1M490.4 375.0l2.9 1.2M490.4 380.3l2.8 1.4M490.4 385.5l2.7 1.5M494.3 392.0l-5.0 -0.7M494.3 397.3l-5.0 -0.6M494.3 402.6l-5.0 -0.6M494.3 407.9l-5.0 -0.5M494.3 413.2l-5.0 -0.5M494.3 418.5l-5.0 -0.5M494.3 423.8l-5.0 -0.4M494.3 429.1l-5.1 -0.4M494.3 434.5l-5.1 -0.4M494.3 439.8l-5.1 -0.3M494.3 445.0l-5.1 -0.2M494.3 450.3l-5.1 -0.1M494.6 242.4l5.0 -0.0M494.6 247.8l5.0 -0.1M494.6 253.1l5.0 -0.1M494.6 258.4l5.0 -0.1M494.6 263.8l5.0 -0.1M494.6 269.1l5.0 -0.1M494.6 274.4l5.0 -0.1M494.6 279.8l5.0 -0.1M494.6 285.1l5.0 -0.1M494.6 290.4l5.0 -0.1M496.0 296.3l2.3 -1.3M496.0 301.6l2.3 -1.2M495.9 306.9l2.4 -1.0M495.9 312.1l2.5 -0.9M495.9 317.4l2.5 -0.8M495.9 322.7l2.6 -0.6M495.8 327.9l2.6 -0.5M495.8 333.2l2.6 -0.3M495.8 338.4l2.6 -0.1M495.8 343.6l2.6 0.0M495.8 348.9l2.6 0.2M495.8 354.1l2.6 0.4M495.9 359.4l2.6 0.5M495.9 364.6l2.5 0.7M495.9 369.9l2.5 0.8M495.9 375.2l2.4 1.0M496.0 380.4l2.4 1.1M496.0 385.7l2.3 1.2M496.0 391.0l2.3 1.3M499.6 397.0l-5.0 -0.1M499.6 402.4l-5.0 -0.1M499.6 407.7l-5.0 -0.1M499.6 413.0l-5.0 -0.1M499.6 418.3l-5.0 -0.1M499.6 423.7l-5.0 -0.1M499.6 429.0l-5.0 -0.1M499.6 434.3l-5.0 -0.1M499.6 439.6l-5.0 -0.1M499.6 445.0l-5.0 -0.0M499.6 450.3l-5.0 -0.0M500.0 242.3l4.9 0.1M500.0 247.6l4.9 0.2M500.0 253.0l4.9 0.2M500.0 258.3l4.9 0.2M500.0 263.6l4.9 0.2M500.0 268.9l4.9 0.3M500.0 274.2l4.9 0.3M500.0 279.6l4.9 0.3M500.0 284.9l4.9 0.3M500.0 290.2l4.9 0.4M501.5 296.2l1.9 -1.0M501.5 301.5l1.9 -0.9M501.5 306.8l2.0 -0.8M501.5 312.0l2.0 -0.7M501.5 317.3l2.0 -0.6M501.4 322.6l2.1 -0.5M501.4 327.9l2.1 -0.3M501.4 333.1l2.1 -0.2M501.4 338.4l2.1 -0.1M501.4 343.7l2.1 0.0M501.4 348.9l2.1 0.2M501.4 354.2l2.1 0.3M501.4 359.5l2.1 0.4M501.4 364.7l2.0 0.5M501.5 370.0l2.0 0.6M501.5 375.3l2.0 0.7M501.5 380.6l1.9 0.8M501.5 385.8l1.9 0.9M504.9 391.4l-4.9 0.4M504.9 396.8l-4.9 0.4M504.9 402.1l-4.9 0.3M504.9 407.5l-4.9 0.3M504.9 412.8l-4.9 0.3M504.9 418.2l-4.9 0.3M504.9 423.5l-4.9 0.2M504.9 428.8l-4.9 0.2M504.9 434.2l-4.9 0.2M504.9 439.5l-4.9 0.2M504.9 444.9l-4.9 0.1M504.9 450.2l-4.9 0.1M505.4 242.2l4.9 0.3M505.4 247.5l4.8 0.4M505.4 252.8l4.8 0.5M505.4 258.1l4.8 0.5M505.4 263.4l4.8 0.6M505.4 268.7l4.8 0.6M505.4 274.1l4.8 0.6M505.4 279.4l4.8 0.7M505.4 284.7l4.8 0.8M505.4 289.9l4.8 0.8M507.1 296.1l1.4 -0.7M507.1 301.4l1.5 -0.6M507.1 306.6l1.5 -0.6M507.0 311.9l1.5 -0.5M507.0 317.2l1.5 -0.4M507.0 322.5l1.6 -0.3M507.0 327.8l1.6 -0.2M507.0 333.1l1.6 -0.2M507.0 338.4l1.6 -0.1M507.0 343.7l1.6 0.0M507.0 348.9l1.6 0.1M507.0 354.2l1.6 0.2M507.0 359.5l1.6 0.3M507.0 364.8l1.6 0.4M507.0 370.1l1.5 0.5M507.0 375.4l1.5 0.5M507.1 380.7l1.5 0.6M507.1 386.0l1.5 0.7M510.2 391.2l-4.8 0.9M510.2 396.6l-4.8 0.8M510.2 401.9l-4.8 0.8M510.2 407.3l-4.8 0.7M510.2 412.6l-4.8 0.6M510.2 418.0l-4.8 0.6M510.2 423.3l-4.8 0.6M510.2 428.7l-4.8 0.5M510.2 434.0l-4.8 0.5M510.2 439.4l-4.8 0.4M510.2 444.8l-4.9 0.3M510.2 450.2l-4.9 0.2M510.7 242.1l4.8 0.5M510.8 247.4l4.8 0.7M510.8 252.7l4.7 0.8M510.8 258.0l4.7 0.8M510.8 263.3l4.7 0.9M510.8 268.6l4.7 0.9M510.8 273.9l4.7 1.0M510.8 279.2l4.7 1.1M510.8 284.5l4.7 1.2M510.8 289.7l4.6 1.3M512.6 295.9l1.0 -0.5M512.6 301.2l1.0 -0.4M512.6 306.5l1.0 -0.4M512.6 311.9l1.0 -0.3M512.6 317.2l1.1 -0.3M512.6 322.5l1.1 -0.2M512.6 327.8l1.1 -0.2M512.6 333.1l1.1 -0.1M512.6 338.4l1.1 -0.0M512.6 343.7l1.1 0.0M512.6 349.0l1.1 0.1M512.6 354.3l1.1 0.1M512.6 359.6l1.1 0.2M512.6 364.9l1.1 0.2M512.6 370.2l1.1 0.3M512.6 375.5l1.0 0.3M512.6 380.8l1.0 0.4M512.6 386.1l1.0 0.4M515.4 390.9l-4.6 1.4M515.4 396.3l-4.6 1.3M515.5 401.7l-4.7 1.2M515.5 407.1l-4.7 1.1M515.5 412.5l-4.7 1.0M515.5 417.8l-4.7 0.9M515.5 423.2l-4.7 0.9M515.5 428.5l-4.7 0.8M515.5 433.9l-4.7 0.8M515.5 439.3l-4.8 0.7M515.5 444.7l-4.8 0.5M515.5 450.1l-4.8 0.4M516.1 242.0l4.7 0.7M516.1 247.3l4.6 0.9M516.1 252.5l4.6 1.0M516.2 257.8l4.6 1.1M516.2 263.1l4.6 1.2M516.2 268.4l4.6 1.2M516.2 273.7l4.5 1.3M516.2 279.0l4.5 1.4M516.2 284.3l4.5 1.5M516.2 289.5l4.4 1.7M516.3 294.8l4.4 1.8M518.1 301.2l0.8 -0.3M518.1 306.5l0.8 -0.3M518.0 311.8l0.8 -0.2M518.0 317.1l0.8 -0.2M518.0 322.4l0.8 -0.2M518.0 327.7l0.9 -0.1M518.0 333.0l0.9 -0.1M518.0 338.4l0.9 -0.0M518.0 343.7l0.9 0.0M518.0 349.0l0.9 0.1M518.0 354.3l0.9 0.1M518.0 359.6l0.9 0.1M518.0 364.9l0.8 0.2M518.0 370.2l0.8 0.2M518.0 375.5l0.8 0.3M518.1 380.8l0.8 0.3M518.1 386.1l0.8 0.3M520.6 390.7l-4.4 1.8M520.7 396.1l-4.4 1.7M520.7 401.5l-4.5 1.5M520.7 406.9l-4.5 1.4M520.7 412.3l-4.5 1.3M520.7 417.7l-4.6 1.2M520.8 423.0l-4.6 1.1M520.8 428.4l-4.6 1.1M520.8 433.8l-4.6 1.0M520.8 439.2l-4.7 0.9M520.8 444.6l-4.7 0.7M520.8 450.0l-4.7 0.6M521.5 242.0l4.6 0.9M521.5 247.2l4.5 1.1M521.5 252.4l4.5 1.3M521.6 257.7l4.5 1.3M521.6 263.0l4.4 1.4M521.6 268.3l4.4 1.5M521.6 273.6l4.4 1.6M521.6 278.8l4.3 1.7M521.6 284.1l4.3 1.9M521.7 289.4l4.2 2.0M521.7 294.6l4.1 2.2M523.4 301.2l0.8 -0.3M523.4 306.5l0.8 -0.3M523.4 311.8l0.8 -0.2M523.4 317.1l0.8 -0.2M523.4 322.4l0.8 -0.2M523.4 327.7l0.9 -0.1M523.4 333.0l0.9 -0.1M523.4 338.4l0.9 -0.0M523.4 343.7l0.9 0.0M523.4 349.0l0.9 0.1M523.4 354.3l0.9 0.1M523.4 359.6l0.9 0.1M523.4 364.9l0.8 0.2M523.4 370.2l0.8 0.2M523.4 375.5l0.8 0.3M523.4 380.8l0.8 0.3M525.8 385.1l-4.0 2.4M525.9 390.6l-4.1 2.2M525.9 396.0l-4.2 2.0M525.9 401.4l-4.3 1.8M526.0 406.8l-4.3 1.7M526.0 412.2l-4.4 1.6M526.0 417.5l-4.4 1.5M526.0 422.9l-4.5 1.4M526.0 428.3l-4.5 1.3M526.0 433.7l-4.5 1.3M526.1 439.1l-4.5 1.1M526.1 444.5l-4.6 0.9M526.1 449.9l-4.6 0.7M526.9 241.9l4.5 1.1M526.9 247.1l4.4 1.3M526.9 252.3l4.4 1.5M527.0 257.6l4.3 1.6M527.0 262.9l4.3 1.7M527.0 268.2l4.3 1.8M527.0 273.4l4.2 1.9M527.0 278.7l4.1 2.0M527.1 284.0l4.1 2.1M527.1 289.2l4.0 2.3M527.2 294.5l3.9 2.5M527.3 299.7l3.7 2.7M528.7 306.5l0.8 -0.3M528.7 311.8l0.8 -0.2M528.7 317.1l0.8 -0.2M528.7 322.4l0.9 -0.1M528.7 327.7l0.9 -0.1M528.7 333.0l0.9 -0.1M528.7 338.4l0.9 -0.0M528.7 343.7l0.9 0.0M528.7 349.0l0.9 0.0M528.7 354.3l0.9 0.1M528.7 359.6l0.9 0.1M528.7 364.9l0.8 0.2M528.7 370.2l0.8 0.2M528.7 375.5l0.8 0.2M528.7 380.8l0.8 0.3M531.0 385.0l-3.7 2.7M531.1 390.4l-3.9 2.5M531.1 395.8l-4.0 2.3M531.2 401.2l-4.1 2.1M531.2 406.6l-4.2 2.0M531.2 412.0l-4.2 1.9M531.2 417.4l-4.3 1.7M531.3 422.8l-4.3 1.6M531.3 428.2l-4.3 1.6M531.3 433.6l-4.4 1.4M531.3 439.0l-4.4 1.2M531.4 444.4l-4.5 1.0M531.4 449.8l-4.5 0.9M532.3 241.8l4.4 1.2M532.3 247.0l4.3 1.4M532.3 252.3l4.2 1.6M532.4 257.5l4.2 1.8M532.4 262.8l4.1 1.9M532.4 268.1l4.1 2.0M532.4 273.3l4.0 2.1M532.5 278.6l3.9 2.2M532.5 283.9l3.9 2.4M532.6 289.1l3.8 2.5M532.6 294.3l3.6 2.7M532.7 299.6l3.5 2.9M532.8 304.8l3.3 3.2M534.0 311.8l0.8 -0.2M534.0 317.1l0.8 -0.2M534.0 322.4l0.9 -0.1M534.0 327.7l0.9 -0.1M534.0 333.0l0.9 -0.1M534.0 338.4l0.9 -0.0M534.0 343.7l0.9 0.0M534.0 349.0l0.9 0.0M534.0 354.3l0.9 0.1M534.0 359.6l0.9 0.1M534.0 364.9l0.8 0.2M534.0 370.2l0.8 0.2M534.0 375.5l0.8 0.2M536.1 379.4l-3.3 3.1M536.2 384.9l-3.5 2.9M536.3 390.3l-3.6 2.7M536.3 395.7l-3.8 2.5M536.4 401.1l-3.9 2.4M536.4 406.5l-4.0 2.2M536.5 411.9l-4.0 2.1M536.5 417.3l-4.1 2.0M536.5 422.7l-4.1 1.9M536.5 428.1l-4.2 1.8M536.6 433.5l-4.2 1.6M536.6 438.9l-4.3 1.4M536.6 444.3l-4.4 1.2M536.7 449.8l-4.4 1.0M537.7 241.7l4.3 1.4M537.7 247.0l4.2 1.6M537.7 252.2l4.1 1.8M537.8 257.4l4.0 2.0M537.8 262.7l4.0 2.1M537.8 268.0l3.9 2.2M537.9 273.2l3.8 2.3M537.9 278.5l3.7 2.4M538.0 283.8l3.6 2.6M538.0 289.0l3.5 2.7M538.1 294.2l3.4 2.9M538.2 299.5l3.2 3.1M538.3 304.7l3.0 3.3M538.4 309.9l2.7 3.5M539.4 317.1l0.8 -0.2M539.4 322.4l0.9 -0.1M539.4 327.7l0.9 -0.1M539.3 333.0l0.9 -0.1M539.3 338.4l0.9 -0.0M539.3 343.7l0.9 0.0M539.3 349.0l0.9 0.0M539.3 354.3l0.9 0.1M539.4 359.6l0.9 0.1M539.4 364.9l0.9 0.2M539.4 370.2l0.8 0.2M541.2 373.9l-2.7 3.5M541.3 379.3l-3.0 3.3M541.4 384.8l-3.2 3.1M541.5 390.2l-3.4 2.9M541.5 395.6l-3.5 2.7M541.6 401.0l-3.7 2.6M541.7 406.4l-3.8 2.4M541.7 411.8l-3.8 2.3M541.7 417.2l-3.9 2.2M541.8 422.6l-4.0 2.0M541.8 428.0l-4.0 1.9M541.8 433.4l-4.1 1.7M541.9 438.8l-4.2 1.5M541.9 444.3l-4.3 1.3M541.9 449.7l-4.3 1.2M543.0 241.7l4.1 1.5M543.1 246.9l4.1 1.7M543.1 252.1l4.0 1.9M543.2 257.4l3.9 2.1M543.2 262.6l3.8 2.2M543.2 267.9l3.7 2.3M543.3 273.1l3.6 2.5M543.3 278.4l3.6 2.6M543.4 283.7l3.4 2.7M543.5 288.9l3.3 2.9M543.5 294.2l3.1 3.1M543.6 299.4l3.0 3.3M543.7 304.6l2.7 3.4M543.9 309.9l2.5 3.6M544.0 315.1l2.2 3.8M544.2 320.3l1.8 4.0M544.7 327.7l0.9 -0.1M544.7 333.0l0.9 -0.1M544.7 338.4l0.9 -0.0M544.7 343.7l0.9 0.0M544.7 349.0l0.9 0.0M544.7 354.3l0.9 0.1M544.7 359.6l0.9 0.1M546.0 363.0l-1.8 4.0M546.2 368.4l-2.2 3.8M546.4 373.8l-2.5 3.6M546.5 379.3l-2.8 3.4M546.6 384.7l-3.0 3.2M546.7 390.1l-3.2 3.1M546.8 395.5l-3.3 2.9M546.8 400.9l-3.5 2.7M546.9 406.3l-3.6 2.6M546.9 411.7l-3.7 2.4M547.0 417.1l-3.7 2.3M547.0 422.5l-3.8 2.2M547.1 427.9l-3.9 2.1M547.1 433.3l-4.0 1.9M547.1 438.8l-4.1 1.7M547.2 444.2l-4.1 1.5M547.2 449.6l-4.2 1.3M548.4 241.6l4.0 1.6M548.5 246.8l3.9 1.8M548.5 252.1l3.8 2.0M548.6 257.3l3.7 2.2M548.6 262.5l3.6 2.4M548.7 267.8l3.6 2.5M548.7 273.1l3.5 2.6M548.8 278.3l3.4 2.7M548.8 283.6l3.2 2.9M548.9 288.9l3.1 3.0M549.0 294.1l2.9 3.2M549.1 299.4l2.7 3.4M549.2 304.6l2.5 3.5M549.3 309.8l2.3 3.7M549.5 315.1l2.0 3.9M549.6 320.3l1.6 4.0M549.8 325.6l1.3 4.1M550.0 330.9l0.8 4.2M550.2 336.2l0.4 4.3M550.5 341.5l-0.0 4.3M550.7 346.8l-0.5 4.3M550.9 352.2l-0.9 4.2M551.1 357.6l-1.3 4.1M551.3 363.0l-1.7 4.0M551.4 368.4l-2.0 3.8M551.6 373.8l-2.3 3.7M551.7 379.2l-2.5 3.5M551.8 384.6l-2.8 3.3M551.9 390.1l-2.9 3.2M552.0 395.5l-3.1 3.0M552.1 400.9l-3.3 2.9M552.1 406.3l-3.4 2.7M552.2 411.7l-3.5 2.6M552.2 417.1l-3.6 2.5M552.3 422.4l-3.6 2.3M552.3 427.9l-3.8 2.2M552.4 433.3l-3.9 2.0M552.4 438.7l-3.9 1.8M552.5 444.1l-4.0 1.6M552.5 449.6l-4.1 1.4M553.8 241.5l3.9 1.7M553.9 246.8l3.8 1.9M553.9 252.0l3.7 2.1M554.0 257.2l3.6 2.3M554.0 262.5l3.5 2.5M554.1 267.7l3.4 2.6M554.1 273.0l3.3 2.7M554.2 278.3l3.2 2.9M554.2 283.5l3.0 3.0M554.3 288.8l2.9 3.1M554.4 294.1l2.7 3.3M554.5 299.3l2.5 3.4M554.6 304.6l2.3 3.6M554.7 309.8l2.1 3.7M554.9 315.1l1.8 3.9M555.0 320.3l1.5 4.0M555.2 325.6l1.1 4.1M555.4 330.9l0.8 4.2M555.6 336.2l0.4 4.3M555.8 341.5l-0.0 4.3M556.0 346.9l-0.4 4.2M556.2 352.2l-0.8 4.2M556.4 357.6l-1.2 4.1M556.5 363.0l-1.5 4.0M556.7 368.4l-1.8 3.9M556.8 373.8l-2.1 3.7M556.9 379.2l-2.3 3.6M557.0 384.6l-2.6 3.4M557.1 390.0l-2.7 3.3M557.2 395.4l-2.9 3.1M557.3 400.8l-3.1 3.0M557.4 406.2l-3.2 2.8M557.4 411.6l-3.3 2.7M557.5 417.0l-3.4 2.6M557.5 422.4l-3.5 2.4M557.6 427.8l-3.6 2.3M557.6 433.2l-3.7 2.1M557.7 438.7l-3.8 1.9M557.7 444.1l-3.9 1.7M557.8 449.5l-4.0 1.5M559.2 241.5l3.8 1.9M559.3 246.7l3.7 2.0M559.3 252.0l3.6 2.2M559.4 257.2l3.5 2.4M559.4 262.4l3.3 2.5M559.5 267.7l3.2 2.7M559.5 273.0l3.1 2.8M559.6 278.2l3.0 2.9M559.7 283.5l2.9 3.1M559.7 288.8l2.7 3.2M559.8 294.0l2.5 3.3M559.9 299.3l2.4 3.5M560.0 304.6l2.1 3.6M560.2 309.8l1.9 3.7M560.3 315.1l1.6 3.9M560.4 320.4l1.3 4.0M560.6 325.6l1.0 4.1M560.8 330.9l0.7 4.1M560.9 336.2l0.3 4.2M561.1 341.6l-0.0 4.2M561.3 346.9l-0.4 4.2M561.5 352.3l-0.7 4.1M561.6 357.6l-1.1 4.1M561.8 363.0l-1.4 4.0M561.9 368.4l-1.7 3.9M562.1 373.8l-1.9 3.7M562.2 379.2l-2.2 3.6M562.3 384.6l-2.4 3.5M562.4 390.0l-2.6 3.3M562.5 395.4l-2.7 3.2M562.5 400.8l-2.9 3.1M562.6 406.2l-3.0 2.9M562.7 411.6l-3.1 2.8M562.7 417.0l-3.2 2.7M562.8 422.4l-3.4 2.5M562.8 427.8l-3.5 2.4M562.9 433.2l-3.6 2.2M562.9 438.6l-3.7 2.0M563.0 444.0l-3.8 1.8M563.0 449.4l-3.9 1.7M564.6 241.4l3.6 2.0M564.7 246.7l3.5 2.2M564.7 251.9l3.4 2.3M564.8 257.1l3.3 2.5M564.8 262.4l3.2 2.6M564.9 267.7l3.1 2.8M565.0 272.9l2.9 2.9M565.0 278.2l2.8 3.0M565.1 283.5l2.7 3.1M565.2 288.7l2.5 3.3M565.2 294.0l2.4 3.4M565.3 299.3l2.2 3.5M565.4 304.5l2.0 3.6M565.6 309.8l1.7 3.7M565.7 315.1l1.5 3.9M565.8 320.4l1.2 3.9M566.0 325.7l0.9 4.0M566.1 331.0l0.6 4.1M566.3 336.3l0.3 4.1M566.4 341.6l-0.0 4.1M566.6 346.9l-0.3 4.1M566.8 352.3l-0.7 4.1M566.9 357.7l-1.0 4.0M567.1 363.0l-1.3 3.9M567.2 368.4l-1.5 3.8M567.3 373.8l-1.8 3.7M567.4 379.2l-2.0 3.6M567.5 384.6l-2.2 3.5M567.6 390.0l-2.4 3.4M567.7 395.3l-2.6 3.2M567.8 400.7l-2.7 3.1M567.8 406.1l-2.8 3.0M567.9 411.5l-3.0 2.9M568.0 416.9l-3.1 2.8M568.0 422.3l-3.2 2.6M568.1 427.7l-3.3 2.5M568.1 433.1l-3.4 2.3M568.2 438.5l-3.5 2.1M568.2 444.0l-3.6 2.0M568.3 449.4l-3.7 1.8M570.0 241.4l3.5 2.1M570.1 246.6l3.4 2.3M570.1 251.8l3.3 2.4M570.2 257.1l3.1 2.6M570.2 262.4l3.0 2.7M570.3 267.6l2.9 2.9M570.4 272.9l2.8 3.0M570.4 278.2l2.7 3.1M570.5 283.4l2.5 3.2M570.6 288.7l2.4 3.3M570.7 294.0l2.2 3.4M570.7 299.3l2.0 3.5M570.8 304.5l1.8 3.6M571.0 309.8l1.6 3.7M571.1 315.1l1.4 3.8M571.2 320.4l1.1 3.9M571.3 325.7l0.9 4.0M571.5 331.0l0.6 4.0M571.6 336.3l0.3 4.1M571.8 341.6l-0.0 4.1M571.9 347.0l-0.3 4.1M572.1 352.3l-0.6 4.0M572.2 357.7l-0.9 4.0M572.3 363.0l-1.1 3.9M572.5 368.4l-1.4 3.8M572.6 373.8l-1.6 3.7M572.7 379.2l-1.9 3.6M572.8 384.6l-2.1 3.5M572.9 389.9l-2.2 3.4M573.0 395.3l-2.4 3.3M573.0 400.7l-2.5 3.2M573.1 406.1l-2.7 3.1M573.2 411.5l-2.8 3.0M573.2 416.9l-2.9 2.8M573.3 422.3l-3.0 2.7M573.3 427.7l-3.2 2.6M573.4 433.1l-3.3 2.4M573.5 438.5l-3.4 2.2M573.5 443.9l-3.5 2.1M573.6 449.3l-3.6 1.9M575.4 241.3l3.3 2.2M575.5 246.5l3.2 2.4M575.5 251.8l3.1 2.5M575.6 257.1l3.0 2.7M575.7 262.3l2.9 2.8M575.7 267.6l2.7 2.9M575.8 272.9l2.6 3.0M575.9 278.1l2.5 3.1M575.9 283.4l2.4 3.2M576.0 288.7l2.2 3.3M576.1 294.0l2.1 3.4M576.1 299.3l1.9 3.5M576.2 304.6l1.7 3.6M576.3 309.8l1.5 3.7M576.5 315.1l1.3 3.8M576.6 320.4l1.0 3.9M576.7 325.7l0.8 3.9M576.8 331.0l0.5 4.0M577.0 336.3l0.3 4.0M577.1 341.7l-0.0 4.0M577.2 347.0l-0.3 4.0M577.4 352.3l-0.6 4.0M577.5 357.7l-0.8 3.9M577.6 363.1l-1.1 3.9M577.7 368.4l-1.3 3.8M577.8 373.8l-1.5 3.7M578.0 379.2l-1.7 3.6M578.0 384.6l-1.9 3.5M578.1 389.9l-2.1 3.4M578.2 395.3l-2.3 3.3M578.3 400.7l-2.4 3.2M578.3 406.1l-2.5 3.1M578.4 411.4l-2.6 3.0M578.5 416.8l-2.7 2.9M578.5 422.2l-2.9 2.8M578.6 427.6l-3.0 2.7M578.6 433.0l-3.1 2.5M578.7 438.4l-3.2 2.4M578.8 443.8l-3.3 2.2M578.8 449.3l-3.5 2.0M580.8 241.2l3.2 2.3M580.9 246.5l3.1 2.5M581.0 251.8l2.9 2.6M581.0 257.0l2.8 2.8M581.1 262.3l2.7 2.9M581.1 267.6l2.5 3.0M581.2 272.8l2.4 3.1M581.3 278.1l2.3 3.2M581.3 283.4l2.2 3.3M581.4 288.7l2.0 3.4M581.5 294.0l1.9 3.4M581.5 299.3l1.8 3.5M581.6 304.6l1.6 3.6M581.7 309.9l1.4 3.7M581.8 315.1l1.2 3.8M581.9 320.4l1.0 3.8M582.1 325.7l0.7 3.9M582.2 331.1l0.5 3.9M582.3 336.4l0.2 3.9M582.4 341.7l-0.0 3.9M582.6 347.0l-0.3 3.9M582.7 352.4l-0.5 3.9M582.8 357.7l-0.7 3.9M582.9 363.1l-1.0 3.8M583.0 368.4l-1.2 3.7M583.1 373.8l-1.4 3.7M583.2 379.2l-1.6 3.6M583.3 384.6l-1.8 3.5M583.4 389.9l-1.9 3.4M583.4 395.3l-2.1 3.4M583.5 400.7l-2.2 3.3M583.6 406.0l-2.3 3.2M583.6 411.4l-2.4 3.1M583.7 416.8l-2.6 3.0M583.8 422.2l-2.7 2.9M583.8 427.6l-2.8 2.7M583.9 433.0l-2.9 2.6M584.0 438.4l-3.1 2.5M584.0 443.8l-3.2 2.3M584.1 449.2l-3.3 2.1M586.2 241.2l3.0 2.4M586.3 246.4l2.9 2.6M586.4 251.7l2.8 2.7M586.4 257.0l2.6 2.8M586.5 262.2l2.5 3.0M586.6 267.5l2.4 3.1M586.6 272.8l2.2 3.2M586.7 278.1l2.1 3.2M586.8 283.4l2.0 3.3M586.8 288.7l1.8 3.4M586.9 294.0l1.7 3.5M587.0 299.3l1.6 3.5M587.0 304.6l1.4 3.6M587.1 309.9l1.3 3.6M587.2 315.2l1.1 3.7M587.3 320.5l0.9 3.8M587.4 325.8l0.7 3.8M587.5 331.1l0.4 3.8M587.6 336.4l0.2 3.9M587.8 341.7l-0.0 3.9M587.9 347.1l-0.2 3.9M588.0 352.4l-0.5 3.8M588.1 357.8l-0.7 3.8M588.2 363.1l-0.9 3.8M588.3 368.5l-1.1 3.7M588.4 373.8l-1.3 3.6M588.5 379.2l-1.5 3.6M588.5 384.5l-1.6 3.5M588.6 389.9l-1.7 3.5M588.7 395.3l-1.9 3.4M588.7 400.6l-2.0 3.3M588.8 406.0l-2.1 3.2M588.9 411.4l-2.2 3.1M588.9 416.8l-2.4 3.0M589.0 422.1l-2.5 2.9M589.1 427.5l-2.6 2.8M589.1 432.9l-2.8 2.7M589.2 438.3l-2.9 2.6M589.3 443.7l-3.0 2.4M589.3 449.1l-3.1 2.2M591.7 241.1l2.8 2.5M591.7 246.4l2.7 2.7M591.8 251.7l2.6 2.8M591.9 256.9l2.4 2.9M591.9 262.2l2.3 3.0M592.0 267.5l2.2 3.1M592.1 272.8l2.0 3.2M592.1 278.1l1.9 3.3M592.2 283.4l1.8 3.4M592.3 288.7l1.6 3.4M592.3 294.0l1.5 3.5M592.4 299.3l1.4 3.5M592.5 304.6l1.2 3.6M592.5 309.9l1.1 3.6M592.6 315.2l0.9 3.7M592.7 320.5l0.8 3.7M592.8 325.8l0.6 3.8M592.9 331.1l0.4 3.8M593.0 336.4l0.2 3.8M593.1 341.8l-0.0 3.8M593.2 347.1l-0.2 3.8M593.3 352.4l-0.4 3.8M593.4 357.8l-0.6 3.7M593.5 363.1l-0.8 3.7M593.6 368.5l-1.0 3.7M593.6 373.8l-1.1 3.6M593.7 379.2l-1.3 3.6M593.8 384.5l-1.4 3.5M593.8 389.9l-1.5 3.5M593.9 395.3l-1.7 3.4M594.0 400.6l-1.8 3.4M594.0 406.0l-1.9 3.3M594.1 411.4l-2.1 3.2M594.2 416.7l-2.2 3.1M594.2 422.1l-2.3 3.0M594.3 427.5l-2.5 2.9M594.4 432.9l-2.6 2.8M594.4 438.3l-2.7 2.6M594.5 443.7l-2.9 2.5M594.6 449.1l-3.0 2.4M597.1 241.1l2.7 2.6M597.1 246.4l2.5 2.7M597.2 251.6l2.4 2.9M597.3 256.9l2.3 3.0M597.4 262.2l2.1 3.1M597.4 267.5l2.0 3.2M597.5 272.8l1.9 3.2M597.6 278.1l1.7 3.3M597.6 283.4l1.6 3.4M597.7 288.7l1.5 3.4M597.7 294.0l1.3 3.5M597.8 299.3l1.2 3.5M597.9 304.6l1.1 3.6M597.9 309.9l0.9 3.6M598.0 315.2l0.8 3.7M598.1 320.5l0.6 3.7M598.2 325.8l0.5 3.7M598.3 331.1l0.3 3.7M598.3 336.5l0.1 3.7M598.4 341.8l-0.0 3.7M598.5 347.1l-0.2 3.7M598.6 352.5l-0.3 3.7M598.7 357.8l-0.5 3.7M598.7 363.2l-0.6 3.7M598.8 368.5l-0.8 3.6M598.9 373.8l-0.9 3.6M598.9 379.2l-1.1 3.6M599.0 384.5l-1.2 3.5M599.1 389.9l-1.3 3.5M599.1 395.3l-1.5 3.4M599.2 400.6l-1.6 3.4M599.3 406.0l-1.7 3.3M599.3 411.3l-1.9 3.2M599.4 416.7l-2.0 3.2M599.5 422.1l-2.1 3.1M599.5 427.5l-2.3 3.0M599.6 432.9l-2.4 2.9M599.7 438.2l-2.5 2.7M599.7 443.6l-2.7 2.6M599.8 449.0l-2.8 2.5M602.5 241.1l2.5 2.7M602.6 246.3l2.4 2.8M602.6 251.6l2.2 2.9M602.7 256.9l2.1 3.0M602.8 262.2l1.9 3.1M602.8 267.5l1.8 3.2M602.9 272.7l1.7 3.3M603.0 278.0l1.5 3.3M603.0 283.3l1.4 3.4M603.1 288.7l1.3 3.4M603.2 294.0l1.1 3.5M603.2 299.3l1.0 3.5M603.3 304.6l0.9 3.6M603.4 309.9l0.8 3.6M603.4 315.2l0.6 3.6M603.5 320.5l0.5 3.6M603.6 325.9l0.4 3.6M603.6 331.2l0.2 3.7M603.7 336.5l0.1 3.7M603.7 341.8l-0.0 3.7M603.8 347.2l-0.1 3.7M603.9 352.5l-0.2 3.7M603.9 357.8l-0.4 3.6M604.0 363.2l-0.5 3.6M604.1 368.5l-0.6 3.6M604.1 373.9l-0.8 3.6M604.2 379.2l-0.9 3.6M604.3 384.6l-1.0 3.5M604.3 389.9l-1.2 3.5M604.4 395.3l-1.3 3.4M604.4 400.6l-1.4 3.4M604.5 406.0l-1.5 3.3M604.6 411.3l-1.7 3.3M604.6 416.7l-1.8 3.2M604.7 422.1l-1.9 3.1M604.8 427.4l-2.1 3.0M604.9 432.8l-2.2 2.9M604.9 438.2l-2.4 2.8M605.0 443.6l-2.5 2.7M605.1 449.0l-2.6 2.6M607.9 241.0l2.3 2.8M608.0 246.3l2.2 2.9M608.1 251.6l2.0 3.0M608.1 256.9l1.9 3.1M608.2 262.1l1.7 3.2M608.3 267.4l1.6 3.2M608.3 272.7l1.5 3.3M608.4 278.0l1.4 3.3M608.5 283.3l1.2 3.4M608.5 288.7l1.1 3.4M608.6 294.0l1.0 3.5M608.6 299.3l0.9 3.5M608.7 304.6l0.7 3.5M608.8 309.9l0.6 3.5M608.8 315.2l0.5 3.6M608.9 320.6l0.4 3.6M608.9 325.9l0.3 3.6M609.0 331.2l0.2 3.6M609.0 336.5l0.1 3.6M609.1 341.9l-0.0 3.6M609.1 347.2l-0.1 3.6M609.2 352.5l-0.2 3.6M609.2 357.9l-0.3 3.6M609.3 363.2l-0.4 3.6M609.3 368.5l-0.5 3.6M609.4 373.9l-0.6 3.5M609.4 379.2l-0.8 3.5M609.5 384.6l-0.9 3.5M609.6 389.9l-1.0 3.5M609.6 395.3l-1.1 3.4M609.7 400.6l-1.2 3.4M609.8 406.0l-1.4 3.3M609.8 411.3l-1.5 3.3M609.9 416.7l-1.6 3.2M609.9 422.0l-1.8 3.1M610.0 427.4l-1.9 3.1M610.1 432.8l-2.0 3.0M610.2 438.2l-2.2 2.9M610.2 443.6l-2.3 2.7M610.3 449.0l-2.5 2.6" stroke="#5675ad" stroke-opacity="0.8" stroke-width="1" fill="none"/>
<path d="M495.3 291.5C503.9 290.1 509.1 292.2 515.3 294.3C521.5 296.4 528.0 300.9 532.6 304.4C537.2 307.8 540.4 311.9 543.0 315.0C545.6 318.1 546.9 318.3 548.3 323.0C549.7 327.7 551.2 336.4 551.2 343.1C551.2 349.8 550.4 357.0 548.3 363.2C546.1 369.4 542.8 375.8 538.3 380.4C533.8 384.9 527.3 388.4 521.1 390.5C514.9 392.6 508.2 393.6 501.0 393.3C493.8 393.1 485.4 392.6 478.0 389.0C470.6 385.4 461.3 377.5 456.5 371.8C451.7 366.1 450.7 360.3 449.3 354.6C447.9 348.9 447.4 343.6 447.9 337.4C448.4 331.2 449.6 323.0 452.2 317.3C454.8 311.6 456.5 307.3 463.7 303.0C470.9 298.7 486.7 292.9 495.3 291.5Z" fill="none" stroke="#3a5ba8" stroke-width="1.25"/>
<path d="M442.1 303.1L441.5 302.7M490.6 272.4L490.7 273.1" fill="none" stroke="#e2993c" stroke-width="1.25" stroke-linecap="round"/>
<path d="M441.5 302.7L440.8 302.1M490.3 271.7L490.6 272.4" fill="none" stroke="#df9e3c" stroke-width="1.25" stroke-linecap="round"/>
<path d="M440.8 302.1L440.1 301.3M490.0 271.0L490.3 271.7" fill="none" stroke="#dba43d" stroke-width="1.25" stroke-linecap="round"/>
<path d="M440.1 301.3L439.4 300.3M489.5 270.2L490.0 271.0" fill="none" stroke="#d8a93d" stroke-width="1.25" stroke-linecap="round"/>
<path d="M439.4 300.3L438.7 299.3M489.0 269.4L489.5 270.2" fill="none" stroke="#d4ae3d" stroke-width="1.25" stroke-linecap="round"/>
<path d="M438.7 299.3L438.0 298.2M488.4 268.6L489.0 269.4" fill="none" stroke="#d1b43e" stroke-width="1.25" stroke-linecap="round"/>
<path d="M438.0 298.2L437.4 297.1M487.8 267.8L488.4 268.6" fill="none" stroke="#cdb93e" stroke-width="1.25" stroke-linecap="round"/>
<path d="M437.4 297.1L436.8 296.1M436.8 296.1L436.3 295.1M436.3 295.1L435.7 294.1M435.7 294.1L435.3 293.1M435.3 293.1L434.8 292.0M434.8 292.0L434.4 290.9M434.4 290.9L434.0 289.7M434.0 289.7L433.6 288.5M433.6 288.5L433.3 287.2M433.3 287.2L433.0 285.8M433.0 285.8L432.8 284.4M432.8 284.4L432.5 282.8M432.5 282.8L432.4 281.3M432.4 281.3L432.2 279.7M432.2 279.7L432.1 278.1M432.1 278.1L432.0 276.5M432.0 276.5L432.0 274.9M432.0 274.9L432.0 273.3M432.0 273.3L432.1 271.7M432.1 271.7L432.2 270.1M432.2 270.1L432.3 268.5M432.3 268.5L432.5 267.0M432.5 267.0L432.7 265.4M432.7 265.4L433.0 263.9M433.0 263.9L433.3 262.5M433.3 262.5L433.7 261.1M433.7 261.1L434.1 259.8M434.1 259.8L434.6 258.5M434.6 258.5L435.1 257.2M435.1 257.2L435.7 256.0M435.7 256.0L436.3 254.9M436.3 254.9L437.0 253.8M437.0 253.8L437.7 252.8M437.7 252.8L438.4 251.9M438.4 251.9L439.2 251.1M439.2 251.1L440.1 250.3M440.1 250.3L440.9 249.7M440.9 249.7L441.8 249.0M441.8 249.0L442.8 248.5M442.8 248.5L443.7 248.0M443.7 248.0L444.7 247.5M444.7 247.5L445.7 247.1M445.7 247.1L446.8 246.7M446.8 246.7L447.9 246.4M447.9 246.4L449.0 246.2M449.0 246.2L450.2 246.0M450.2 246.0L451.3 245.8M451.3 245.8L452.5 245.8M452.5 245.8L453.6 245.7M453.6 245.7L454.7 245.7M454.7 245.7L455.8 245.7M455.8 245.7L456.9 245.8M456.9 245.8L458.0 245.9M458.0 245.9L459.1 246.1M459.1 246.1L460.2 246.3M460.2 246.3L461.3 246.6M461.3 246.6L462.4 247.0M462.4 247.0L463.5 247.4M463.5 247.4L464.6 247.9M464.6 247.9L465.7 248.5M465.7 248.5L466.8 249.1M466.8 249.1L467.9 249.7M467.9 249.7L469.0 250.4M469.0 250.4L470.1 251.2M470.1 251.2L471.2 251.9M471.2 251.9L472.3 252.7M472.3 252.7L473.5 253.5M473.5 253.5L474.6 254.4M474.6 254.4L475.8 255.3M475.8 255.3L476.9 256.2M476.9 256.2L478.0 257.1M478.0 257.1L479.1 258.1M479.1 258.1L480.1 259.0M480.1 259.0L481.1 260.0M481.1 260.0L482.1 261.0M482.1 261.0L483.0 262.0M483.0 262.0L483.9 263.0M483.9 263.0L484.8 264.0M484.8 264.0L485.6 265.0M485.6 265.0L486.4 266.0M486.4 266.0L487.1 266.9M487.1 266.9L487.8 267.8" fill="none" stroke="#cbbd3e" stroke-width="1.25" stroke-linecap="round"/>
<path d="M490.7 273.1L490.7 273.7M442.7 303.3L442.1 303.1" fill="none" stroke="#e3913c" stroke-width="1.25" stroke-linecap="round"/>
<path d="M490.7 273.7L490.6 274.3M443.2 303.2L442.7 303.3" fill="none" stroke="#e1863c" stroke-width="1.25" stroke-linecap="round"/>
<path d="M490.6 274.3L490.5 274.9M443.8 302.9L443.2 303.2" fill="none" stroke="#de7b3b" stroke-width="1.25" stroke-linecap="round"/>
<path d="M490.5 274.9L490.2 275.5M444.3 302.6L443.8 302.9" fill="none" stroke="#dc703b" stroke-width="1.25" stroke-linecap="round"/>
<path d="M490.2 275.5L489.8 276.0M444.8 302.1L444.3 302.6" fill="none" stroke="#da653b" stroke-width="1.25" stroke-linecap="round"/>
<path d="M489.8 276.0L489.3 276.5M445.4 301.6L444.8 302.1" fill="none" stroke="#d85a3a" stroke-width="1.25" stroke-linecap="round"/>
<path d="M489.3 276.5L488.7 277.0M445.9 301.0L445.4 301.6" fill="none" stroke="#d64f3a" stroke-width="1.25" stroke-linecap="round"/>
<path d="M488.7 277.0L488.0 277.5M488.0 277.5L487.1 278.0M487.1 278.0L486.1 278.4M486.1 278.4L484.9 278.9M484.9 278.9L483.6 279.3M483.6 279.3L482.3 279.7M482.3 279.7L481.0 280.1M481.0 280.1L479.6 280.6M479.6 280.6L478.3 281.0M478.3 281.0L477.0 281.4M477.0 281.4L475.7 281.9M475.7 281.9L474.3 282.3M474.3 282.3L472.9 282.7M472.9 282.7L471.6 283.2M471.6 283.2L470.2 283.6M470.2 283.6L468.9 284.1M468.9 284.1L467.7 284.6M467.7 284.6L466.5 285.1M466.5 285.1L465.3 285.6M465.3 285.6L464.2 286.1M464.2 286.1L463.1 286.6M463.1 286.6L462.0 287.2M462.0 287.2L460.9 287.8M460.9 287.8L459.9 288.4M459.9 288.4L458.9 289.0M458.9 289.0L457.9 289.7M457.9 289.7L457.0 290.4M457.0 290.4L456.0 291.2M456.0 291.2L455.1 292.0M455.1 292.0L454.3 292.9M454.3 292.9L453.4 293.7M453.4 293.7L452.6 294.5M452.6 294.5L451.8 295.2M451.8 295.2L451.0 295.9M451.0 295.9L450.3 296.7M450.3 296.7L449.6 297.4M449.6 297.4L449.0 298.1M449.0 298.1L448.3 298.7M448.3 298.7L447.7 299.4M447.7 299.4L447.1 300.0M447.1 300.0L446.5 300.5M446.5 300.5L445.9 301.0" fill="none" stroke="#d4473a" stroke-width="1.25" stroke-linecap="round"/>
<path d="M559.7 316.2L560.2 315.6M559.9 370.5L559.7 369.8" fill="none" stroke="#e2993c" stroke-width="1.25" stroke-linecap="round"/>
<path d="M560.2 315.6L561.0 315.0M560.2 370.9L559.9 370.5" fill="none" stroke="#df9e3c" stroke-width="1.25" stroke-linecap="round"/>
<path d="M561.0 315.0L561.9 314.6M560.5 371.2L560.2 370.9" fill="none" stroke="#dba43d" stroke-width="1.25" stroke-linecap="round"/>
<path d="M561.9 314.6L563.0 314.3M560.9 371.4L560.5 371.2" fill="none" stroke="#d8a93d" stroke-width="1.25" stroke-linecap="round"/>
<path d="M563.0 314.3L564.1 314.1M561.4 371.6L560.9 371.4" fill="none" stroke="#d4ae3d" stroke-width="1.25" stroke-linecap="round"/>
<path d="M564.1 314.1L565.3 313.9M562.0 371.7L561.4 371.6" fill="none" stroke="#d1b43e" stroke-width="1.25" stroke-linecap="round"/>
<path d="M565.3 313.9L566.5 313.7M562.6 371.8L562.0 371.7" fill="none" stroke="#cdb93e" stroke-width="1.25" stroke-linecap="round"/>
<path d="M566.5 313.7L567.7 313.6M567.7 313.6L568.9 313.5M568.9 313.5L570.2 313.4M570.2 313.4L571.5 313.4M571.5 313.4L572.8 313.4M572.8 313.4L574.2 313.5M574.2 313.5L575.6 313.6M575.6 313.6L577.0 313.8M577.0 313.8L578.3 314.0M578.3 314.0L579.6 314.3M579.6 314.3L581.0 314.7M581.0 314.7L582.4 315.1M582.4 315.1L583.7 315.6M583.7 315.6L585.1 316.1M585.1 316.1L586.4 316.7M586.4 316.7L587.7 317.3M587.7 317.3L588.9 318.0M588.9 318.0L590.1 318.7M590.1 318.7L591.3 319.5M591.3 319.5L592.4 320.4M592.4 320.4L593.5 321.2M593.5 321.2L594.6 322.2M594.6 322.2L595.7 323.1M595.7 323.1L596.7 324.1M596.7 324.1L597.7 325.1M597.7 325.1L598.7 326.1M598.7 326.1L599.7 327.2M599.7 327.2L600.6 328.3M600.6 328.3L601.6 329.4M601.6 329.4L602.5 330.5M602.5 330.5L603.3 331.7M603.3 331.7L604.1 332.8M604.1 332.8L604.8 333.9M604.8 333.9L605.4 335.0M605.4 335.0L606.1 336.1M606.1 336.1L606.6 337.2M606.6 337.2L607.1 338.4M607.1 338.4L607.5 339.5M607.5 339.5L607.9 340.6M607.9 340.6L608.1 341.7M608.1 341.7L608.3 342.8M608.3 342.8L608.4 343.9M608.4 343.9L608.3 345.0M608.3 345.0L608.2 346.1M608.2 346.1L607.9 347.3M607.9 347.3L607.7 348.4M607.7 348.4L607.3 349.5M607.3 349.5L606.9 350.5M606.9 350.5L606.5 351.6M606.5 351.6L606.0 352.6M606.0 352.6L605.5 353.7M605.5 353.7L604.9 354.7M604.9 354.7L604.3 355.7M604.3 355.7L603.6 356.6M603.6 356.6L602.9 357.6M602.9 357.6L602.1 358.6M602.1 358.6L601.2 359.5M601.2 359.5L600.3 360.4M600.3 360.4L599.3 361.4M599.3 361.4L598.2 362.3M598.2 362.3L597.1 363.3M597.1 363.3L596.0 364.2M596.0 364.2L594.8 365.0M594.8 365.0L593.6 365.8M593.6 365.8L592.4 366.6M592.4 366.6L591.2 367.3M591.2 367.3L589.9 368.0M589.9 368.0L588.6 368.6M588.6 368.6L587.2 369.1M587.2 369.1L585.9 369.7M585.9 369.7L584.5 370.1M584.5 370.1L583.1 370.6M583.1 370.6L581.8 371.0M581.8 371.0L580.5 371.4M580.5 371.4L579.1 371.7M579.1 371.7L577.7 372.0M577.7 372.0L576.3 372.2M576.3 372.2L575.0 372.4M575.0 372.4L573.7 372.6M573.7 372.6L572.4 372.7M572.4 372.7L571.2 372.8M571.2 372.8L570.1 372.8M570.1 372.8L568.9 372.8M568.9 372.8L567.9 372.7M567.9 372.7L566.8 372.6M566.8 372.6L565.8 372.4M565.8 372.4L564.9 372.3M564.9 372.3L564.1 372.1M564.1 372.1L563.3 371.9M563.3 371.9L562.6 371.8" fill="none" stroke="#cbbd3e" stroke-width="1.25" stroke-linecap="round"/>
<path d="M559.7 369.8L559.6 368.9M559.4 317.0L559.7 316.2" fill="none" stroke="#e3913c" stroke-width="1.25" stroke-linecap="round"/>
<path d="M559.6 368.9L559.7 367.8M559.4 318.0L559.4 317.0" fill="none" stroke="#e1863c" stroke-width="1.25" stroke-linecap="round"/>
<path d="M559.7 367.8L559.8 366.6M559.5 319.0L559.4 318.0" fill="none" stroke="#de7b3b" stroke-width="1.25" stroke-linecap="round"/>
<path d="M559.8 366.6L560.0 365.2M559.7 320.2L559.5 319.0" fill="none" stroke="#dc703b" stroke-width="1.25" stroke-linecap="round"/>
<path d="M560.0 365.2L560.3 363.7M560.1 321.4L559.7 320.2" fill="none" stroke="#da653b" stroke-width="1.25" stroke-linecap="round"/>
<path d="M560.3 363.7L560.5 362.3M560.4 322.7L560.1 321.4" fill="none" stroke="#d85a3a" stroke-width="1.25" stroke-linecap="round"/>
<path d="M560.5 362.3L560.8 360.9M560.8 323.9L560.4 322.7" fill="none" stroke="#d64f3a" stroke-width="1.25" stroke-linecap="round"/>
<path d="M560.8 360.9L561.0 359.5M561.0 359.5L561.2 358.2M561.2 358.2L561.4 356.8M561.4 356.8L561.7 355.3M561.7 355.3L561.9 353.9M561.9 353.9L562.1 352.6M562.1 352.6L562.3 351.2M562.3 351.2L562.5 350.0M562.5 350.0L562.7 348.9M562.7 348.9L562.8 347.9M562.8 347.9L563.0 347.1M563.0 347.1L563.1 346.4M563.1 346.4L563.1 345.7M563.1 345.7L563.2 345.0M563.2 345.0L563.3 344.4M563.3 344.4L563.3 343.6M563.3 343.6L563.3 342.8M563.3 342.8L563.3 341.9M563.3 341.9L563.3 341.0M563.3 341.0L563.2 340.0M563.2 340.0L563.1 339.0M563.1 339.0L563.1 338.0M563.1 338.0L563.0 337.0M563.0 337.0L562.8 335.9M562.8 335.9L562.7 334.8M562.7 334.8L562.5 333.7M562.5 333.7L562.3 332.5M562.3 332.5L562.1 331.3M562.1 331.3L561.9 330.0M561.9 330.0L561.7 328.8M561.7 328.8L561.4 327.5M561.4 327.5L561.2 326.3M561.2 326.3L561.0 325.1M561.0 325.1L560.8 323.9" fill="none" stroke="#d4473a" stroke-width="1.25" stroke-linecap="round"/>
<path d="M490.7 409.8L491.3 410.4M440.4 384.3L441.2 383.8" fill="none" stroke="#e2993c" stroke-width="1.25" stroke-linecap="round"/>
<path d="M491.3 410.4L491.8 411.1M439.5 385.2L440.4 384.3" fill="none" stroke="#df9e3c" stroke-width="1.25" stroke-linecap="round"/>
<path d="M491.8 411.1L492.0 411.8M438.7 386.2L439.5 385.2" fill="none" stroke="#dba43d" stroke-width="1.25" stroke-linecap="round"/>
<path d="M492.0 411.8L492.1 412.5M437.8 387.4L438.7 386.2" fill="none" stroke="#d8a93d" stroke-width="1.25" stroke-linecap="round"/>
<path d="M492.1 412.5L492.1 413.3M437.0 388.8L437.8 387.4" fill="none" stroke="#d4ae3d" stroke-width="1.25" stroke-linecap="round"/>
<path d="M492.1 413.3L492.0 414.1M436.3 390.2L437.0 388.8" fill="none" stroke="#d1b43e" stroke-width="1.25" stroke-linecap="round"/>
<path d="M492.0 414.1L491.8 415.0M435.6 391.6L436.3 390.2" fill="none" stroke="#cdb93e" stroke-width="1.25" stroke-linecap="round"/>
<path d="M491.8 415.0L491.5 415.9M491.5 415.9L491.1 416.9M491.1 416.9L490.6 417.9M490.6 417.9L489.9 419.0M489.9 419.0L489.2 420.2M489.2 420.2L488.3 421.3M488.3 421.3L487.4 422.5M487.4 422.5L486.4 423.7M486.4 423.7L485.4 424.8M485.4 424.8L484.3 425.9M484.3 425.9L483.1 427.1M483.1 427.1L481.8 428.2M481.8 428.2L480.5 429.4M480.5 429.4L479.1 430.5M479.1 430.5L477.7 431.6M477.7 431.6L476.2 432.6M476.2 432.6L474.8 433.6M474.8 433.6L473.3 434.5M473.3 434.5L471.8 435.4M471.8 435.4L470.3 436.3M470.3 436.3L468.7 437.2M468.7 437.2L467.1 438.0M467.1 438.0L465.5 438.7M465.5 438.7L464.0 439.3M464.0 439.3L462.4 439.8M462.4 439.8L460.8 440.2M460.8 440.2L459.2 440.6M459.2 440.6L457.6 440.8M457.6 440.8L456.0 441.0M456.0 441.0L454.4 441.1M454.4 441.1L452.8 441.1M452.8 441.1L451.4 441.1M451.4 441.1L450.0 441.0M450.0 441.0L448.7 440.9M448.7 440.9L447.5 440.7M447.5 440.7L446.3 440.4M446.3 440.4L445.2 440.1M445.2 440.1L444.2 439.7M444.2 439.7L443.1 439.2M443.1 439.2L442.2 438.6M442.2 438.6L441.2 438.0M441.2 438.0L440.3 437.3M440.3 437.3L439.4 436.5M439.4 436.5L438.5 435.6M438.5 435.6L437.7 434.6M437.7 434.6L437.0 433.6M437.0 433.6L436.3 432.5M436.3 432.5L435.6 431.3M435.6 431.3L435.0 430.1M435.0 430.1L434.4 428.8M434.4 428.8L433.9 427.3M433.9 427.3L433.5 425.8M433.5 425.8L433.1 424.2M433.1 424.2L432.7 422.5M432.7 422.5L432.4 420.9M432.4 420.9L432.2 419.3M432.2 419.3L432.0 417.7M432.0 417.7L431.9 416.1M431.9 416.1L431.8 414.6M431.8 414.6L431.8 413.0M431.8 413.0L431.9 411.5M431.9 411.5L431.9 409.9M431.9 409.9L432.1 408.4M432.1 408.4L432.2 406.8M432.2 406.8L432.4 405.3M432.4 405.3L432.6 403.7M432.6 403.7L432.8 402.1M432.8 402.1L433.1 400.5M433.1 400.5L433.3 398.9M433.3 398.9L433.7 397.4M433.7 397.4L434.0 395.9M434.0 395.9L434.5 394.4M434.5 394.4L435.0 393.0M435.0 393.0L435.6 391.6" fill="none" stroke="#cbbd3e" stroke-width="1.25" stroke-linecap="round"/>
<path d="M441.2 383.8L442.0 383.6M489.9 409.2L490.7 409.8" fill="none" stroke="#e3913c" stroke-width="1.25" stroke-linecap="round"/>
<path d="M442.0 383.6L442.9 383.6M488.8 408.7L489.9 409.2" fill="none" stroke="#e1863c" stroke-width="1.25" stroke-linecap="round"/>
<path d="M442.9 383.6L443.7 383.8M487.5 408.3L488.8 408.7" fill="none" stroke="#de7b3b" stroke-width="1.25" stroke-linecap="round"/>
<path d="M443.7 383.8L444.6 384.2M486.1 407.9L487.5 408.3" fill="none" stroke="#dc703b" stroke-width="1.25" stroke-linecap="round"/>
<path d="M444.6 384.2L445.5 384.8M484.6 407.5L486.1 407.9" fill="none" stroke="#da653b" stroke-width="1.25" stroke-linecap="round"/>
<path d="M445.5 384.8L446.4 385.4M483.1 407.1L484.6 407.5" fill="none" stroke="#d85a3a" stroke-width="1.25" stroke-linecap="round"/>
<path d="M446.4 385.4L447.3 386.1M481.6 406.7L483.1 407.1" fill="none" stroke="#d64f3a" stroke-width="1.25" stroke-linecap="round"/>
<path d="M447.3 386.1L448.3 386.8M448.3 386.8L449.3 387.6M449.3 387.6L450.3 388.4M450.3 388.4L451.4 389.4M451.4 389.4L452.5 390.5M452.5 390.5L453.6 391.6M453.6 391.6L454.7 392.7M454.7 392.7L455.9 393.7M455.9 393.7L457.1 394.7M457.1 394.7L458.3 395.6M458.3 395.6L459.6 396.6M459.6 396.6L460.9 397.5M460.9 397.5L462.2 398.5M462.2 398.5L463.5 399.4M463.5 399.4L464.9 400.2M464.9 400.2L466.3 401.0M466.3 401.0L467.7 401.8M467.7 401.8L469.2 402.5M469.2 402.5L470.7 403.1M470.7 403.1L472.3 403.7M472.3 403.7L473.9 404.2M473.9 404.2L475.5 404.7M475.5 404.7L477.1 405.2M477.1 405.2L478.6 405.7M478.6 405.7L480.1 406.2M480.1 406.2L481.6 406.7" fill="none" stroke="#d4473a" stroke-width="1.25" stroke-linecap="round"/>
<text x="460.3" y="330.8" class="bt" textLength="70.8" lengthAdjust="spacingAndGlyphs"><tspan font-style="italic">N</tspan>=10, <tspan font-style="italic">K</tspan> valley</text><text x="470.9" y="346.9" class="bt" textLength="50.2" lengthAdjust="spacingAndGlyphs"><tspan font-style="italic">ε</tspan><tspan font-style="italic" font-size="8.5" dy="2">F</tspan><tspan dy="-2">=10 meV</tspan></text><text x="459.4" y="363.2" class="bt" textLength="78.9" lengthAdjust="spacingAndGlyphs">Δ=5meV, <tspan font-style="italic">B</tspan><tspan font-style="italic" font-size="8.5" dy="2">z</tspan><tspan dy="-2"> =3T</tspan></text>
<linearGradient id="cgR" x1="0" y1="1" x2="0" y2="0"><stop offset="0" stop-color="#fff"/><stop offset="1" stop-color="#000"/></linearGradient>
<rect x="631.0" y="287.8" width="8" height="122.6" fill="url(#cgR)" stroke="#bbb" stroke-width="0.4"/>
<path d="M631.5 412.8h7" stroke="#999" stroke-width="1.2"/>
<text x="645.0" y="414.0" class="cb">0</text>
<text x="645.0" y="392.6" class="cb">0.25</text>
<text x="645.0" y="371.2" class="cb">0.50</text>
<text x="645.0" y="349.8" class="cb">0.75</text>
<text x="645.0" y="328.4" class="cb">1.00</text>
<text x="645.0" y="307.0" class="cb">1.25</text>
<text x="626" y="278.5" class="cb" textLength="41" lengthAdjust="spacingAndGlyphs">ħ<tspan font-size="6.5" dy="-4">−1</tspan><tspan dy="4">e B</tspan><tspan font-size="6.5" dy="2">z</tspan><tspan dy="-2">Ω</tspan></text>
<text transform="translate(11.6,137) rotate(-90)" class="ax" style="font-size:17.5px" textLength="66" lengthAdjust="spacingAndGlyphs"><tspan font-style="italic" font-weight="bold">ε</tspan> (meV)</text>
<text x="0.3" y="17" class="pl">a</text>
<text x="0.6" y="272.2" class="pl" style="font-size:19.5px">b</text>
</svg></body></html>
